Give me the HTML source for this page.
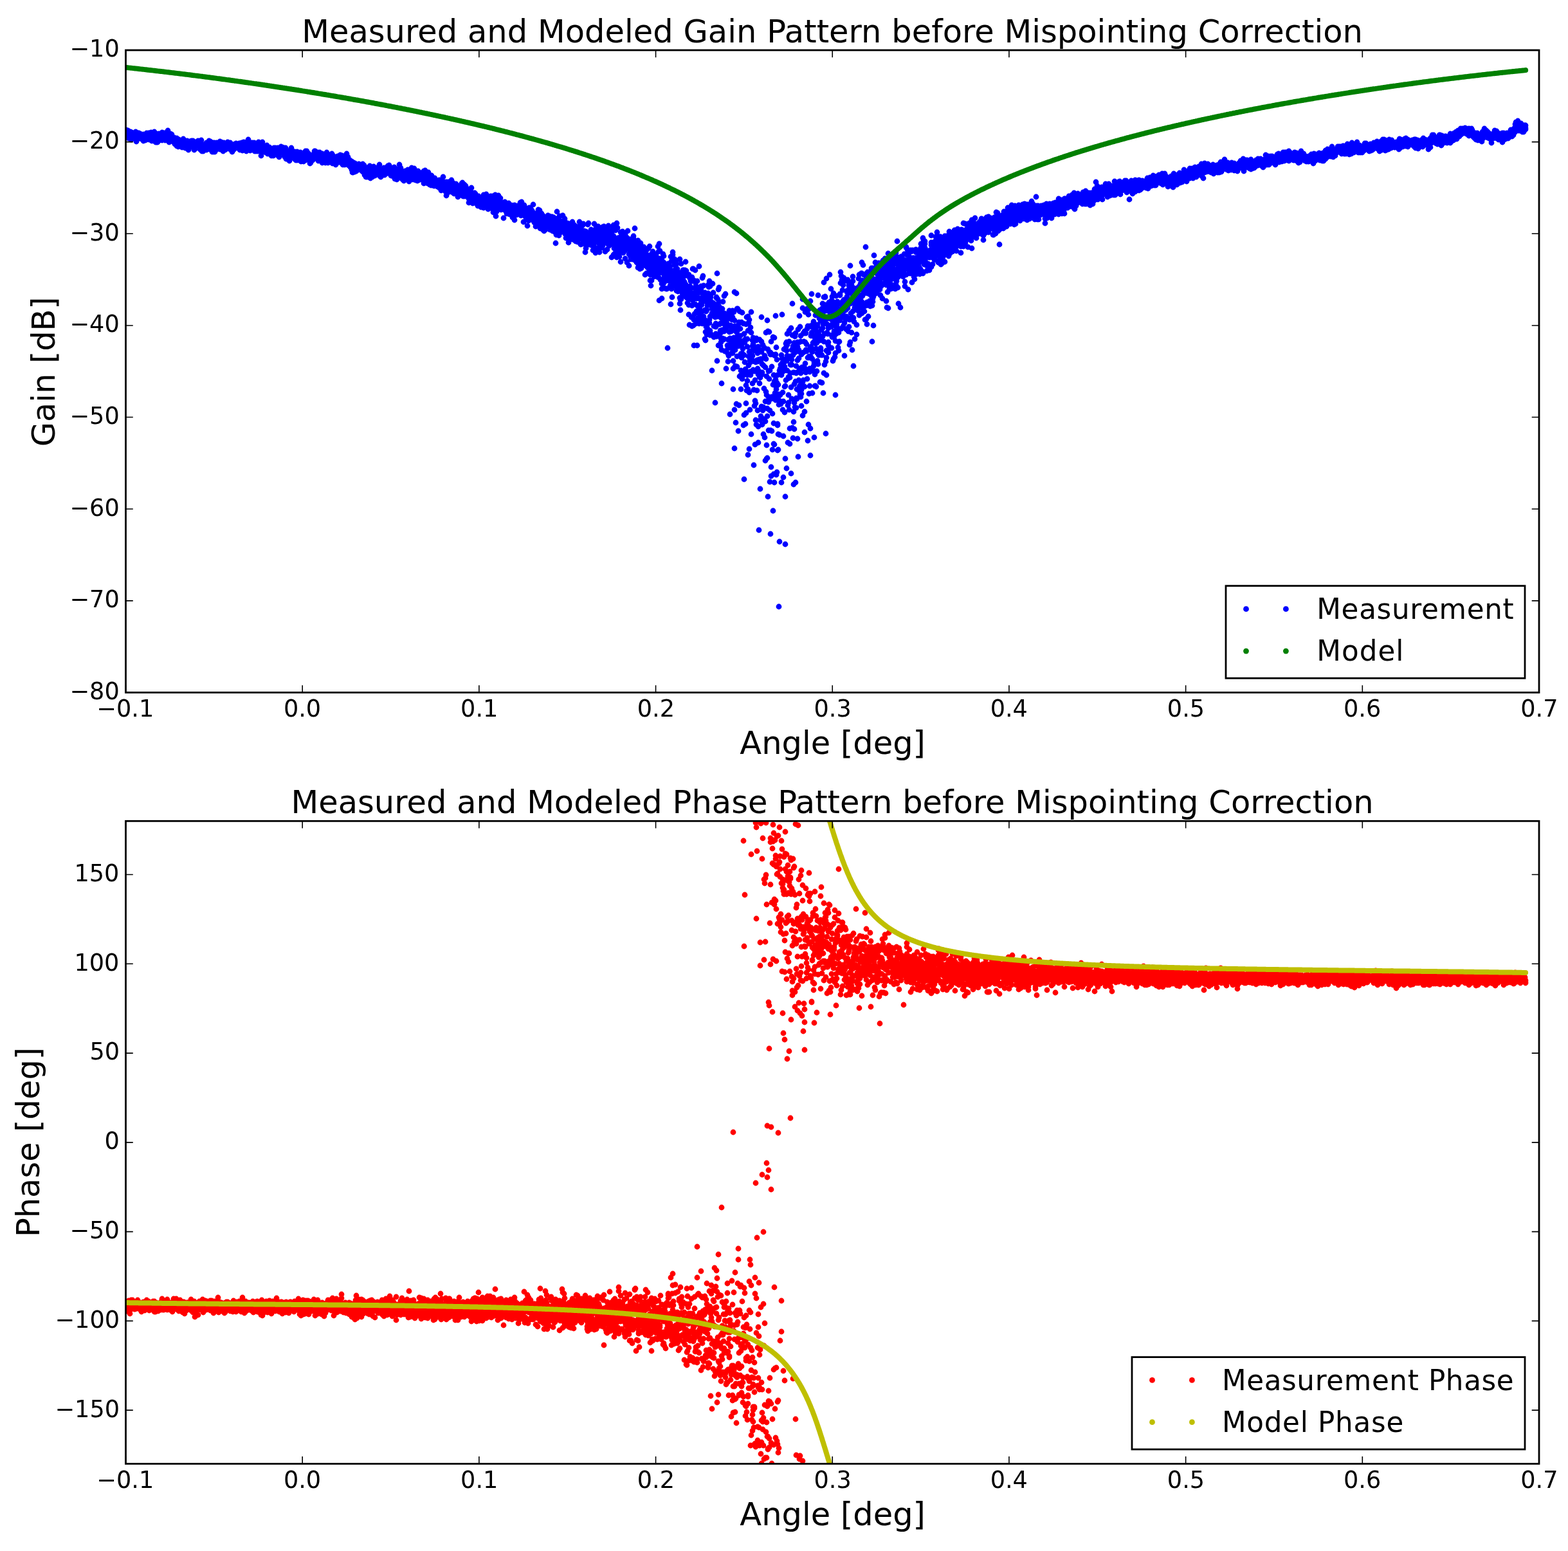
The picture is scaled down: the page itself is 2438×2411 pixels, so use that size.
<!DOCTYPE html>
<html><head><meta charset="utf-8"><title>Measured and Modeled Patterns</title>
<style>html,body{margin:0;padding:0;background:#fff}svg{display:block}text{font-family:"DejaVu Sans","Liberation Sans",sans-serif;fill:#000}</style></head><body>
<svg width="2438" height="2411" viewBox="0 0 2438 2411">
<rect width="2438" height="2411" fill="#fff"/>
<defs><clipPath id="c1"><rect x="195.5" y="78.0" width="2197.5" height="998.5"/></clipPath><clipPath id="c2"><rect x="195.5" y="1276.3" width="2197.5" height="999.1"/></clipPath></defs>
<g clip-path="url(#c1)" fill="none" stroke-linecap="round" stroke-linejoin="round" stroke-width="8.8">
<path stroke="#00f" d="M196 206h0m0-4h0m0 1h0m0 3h0m1 6h0m0-7h0m0 3h0m0-1h0m1 3h0m0 1h0m0-2h0m1-6h0m0 4h0m0 0h0m0 0h0m1 1h0m0 4h0m0 3h0m0-7h0m1 2h0m0-2h0m0-3h0m1 4h0m0 2h0m0-1h0m0 3h0m1-1h0m0-5h0m0 4h0m0-6h0m1 12h0m0-6h0m0-1h0m1-4h0m0 4h0m0 1h0m0 0h0m1-3h0m0 3h0m0 0h0m0 0h0m1 0h0m0-1h0m0 1h0m1-1h0m0-1h0m0-2h0m0 0h0m1 4h0m0-2h0m0 1h0m1 2h0m0 1h0m0-7h0m0 9h0m1-5h0m0-5h0m0 1h0m0 6h0m1-2h0m0 4h0m0 6h0m1-12h0m0 5h0m0-2h0m0 2h0m1-2h0m0-3h0m0 3h0m0 0h0m1-2h0m0 4h0m0-6h0m1 5h0m0 3h0m0-8h0m0 3h0m1 2h0m0-2h0m0 5h0m0-1h0m1-6h0m0 1h0m0 6h0m1-4h0m0-1h0m0 5h0m0-6h0m1 3h0m0 3h0m0 1h0m0-2h0m1-2h0m0 2h0m0 1h0m1 1h0m0 1h0m0-2h0m0-4h0m1 2h0m0 6h0m0-10h0m1 4h0m0-2h0m0-1h0m0 4h0m1 1h0m0 3h0m0-2h0m0-7h0m1 9h0m0-1h0m0-3h0m1-5h0m0 2h0m0 5h0m0-8h0m1 2h0m0 0h0m0-3h0m0 10h0m1-4h0m0 3h0m0-8h0m1 0h0m0 0h0m0 6h0m0-1h0m1 3h0m0 0h0m0-6h0m0-3h0m1 10h0m0-8h0m0-2h0m1 5h0m0-5h0m0 6h0m0 0h0m1 1h0m0-4h0m0 4h0m1 0h0m0 2h0m0-10h0m0 6h0m1 1h0m0 1h0m0 5h0m0-9h0m1-1h0m0 4h0m0 3h0m1-7h0m0 6h0m0 1h0m0-3h0m1-4h0m0 2h0m0 4h0m0-4h0m1 0h0m0 2h0m0-8h0m1 7h0m0-1h0m0 4h0m0 4h0m1-3h0m0-5h0m0-1h0m0 11h0m1-13h0m0 10h0m0-4h0m1-3h0m0 6h0m0-1h0m0 4h0m1-6h0m0 4h0m0 3h0m0-4h0m1-6h0m0 0h0m0 7h0m1-4h0m0-3h0m0-3h0m0 8h0m1-1h0m0 3h0m0-3h0m1 1h0m0-6h0m0 3h0m0 2h0m1-3h0m0-2h0m0 1h0m0-3h0m1 3h0m0 4h0m0-4h0m1-5h0m0 3h0m0 2h0m0 7h0m1-5h0m0-1h0m0 5h0m0-2h0m1-8h0m0 3h0m0 4h0m1 1h0m0-8h0m0 9h0m0 1h0m1-3h0m0 2h0m0-8h0m0-1h0m1 11h0m0-11h0m0 6h0m1 3h0m0-6h0m0 6h0m0-3h0m1 3h0m0-9h0m0 3h0m1 5h0m0-3h0m0 0h0m0 3h0m1-5h0m0-7h0m0 12h0m0-1h0m1-1h0m0 5h0m0-6h0m1 3h0m0 2h0m0 4h0m0-10h0m1 8h0m0 0h0m0-8h0m0 9h0m1-6h0m0-6h0m0 7h0m1-2h0m0-1h0m0 4h0m0-5h0m1 4h0m0 3h0m0-4h0m0-5h0m1 3h0m0 6h0m0-2h0m1 0h0m0 2h0m0 0h0m0 1h0m1-3h0m0 3h0m0-2h0m0 4h0m1-2h0m0 2h0m0-7h0m1 10h0m0-7h0m0 4h0m0-2h0m1 2h0m0 0h0m0-1h0m1 0h0m0 1h0m0-2h0m0-3h0m1 6h0m0 5h0m0-1h0m0-11h0m1 5h0m0 0h0m0 1h0m1-3h0m0 10h0m0-9h0m0 4h0m1 1h0m0-7h0m0 8h0m0-3h0m1 3h0m0-5h0m0 3h0m1-2h0m0-1h0m0 2h0m0 3h0m1-4h0m0-2h0m0 5h0m0 3h0m1 1h0m0-2h0m0-4h0m1 7h0m0-7h0m0 0h0m0 2h0m1 4h0m0-8h0m0 4h0m0-3h0m1-5h0m0 9h0m0-7h0m1 3h0m0 2h0m0-4h0m0 10h0m1-5h0m0-1h0m0 4h0m1-4h0m0 7h0m0-6h0m0-1h0m1-1h0m0 1h0m0 3h0m0 1h0m1-2h0m0-1h0m0 1h0m1-3h0m0 2h0m0 1h0m0-6h0m1 6h0m0 1h0m0 2h0m0-2h0m1 1h0m0-1h0m0 7h0m1-11h0m0 2h0m0 4h0m0-7h0m1 5h0m0-5h0m0-1h0m0 6h0m1-1h0m0-4h0m0-1h0m1 8h0m0 0h0m0-6h0m0 0h0m1 2h0m0-1h0m0-4h0m1 5h0m0-3h0m0 1h0m0 6h0m1-9h0m0 10h0m0-2h0m0-5h0m1 1h0m0 3h0m0-4h0m1 1h0m0 10h0m0-10h0m0 5h0m1-3h0m0-3h0m0 7h0m0-6h0m1-1h0m0-1h0m0 0h0m1 4h0m0 5h0m0-8h0m0 3h0m1-2h0m0-1h0m0 4h0m0-1h0m1 2h0m0-2h0m0-2h0m1-4h0m0 1h0m0 10h0m0-4h0m1-3h0m0-1h0m0 8h0m0-3h0m1-1h0m0-1h0m0 6h0m1-4h0m0 4h0m0-3h0m0 1h0m1-2h0m0 2h0m0 4h0m1-3h0m0-3h0m0 6h0m0-15h0m1 14h0m0 3h0m0-8h0m0 7h0m1-8h0m0 1h0m0 3h0m1 5h0m0-8h0m0 1h0m0-3h0m1 8h0m0-4h0m0 1h0m0 1h0m1-5h0m0 2h0m0 0h0m1-3h0m0 8h0m0-3h0m0-3h0m1-2h0m0 3h0m0-3h0m0 2h0m1 4h0m0 2h0m0-11h0m1 2h0m0 3h0m0 0h0m0 0h0m1 1h0m0 3h0m0-9h0m1 4h0m0-1h0m0 4h0m0-3h0m1 1h0m0-3h0m0-5h0m0 2h0m1 4h0m0 2h0m0 5h0m1-6h0m0-1h0m0 0h0m0-5h0m1 11h0m0-8h0m0 0h0m0 7h0m1-4h0m0 3h0m0-2h0m1 2h0m0 0h0m0 7h0m0-11h0m1-3h0m0 9h0m0-2h0m0-3h0m1 1h0m0 7h0m0 2h0m1-8h0m0-6h0m0 6h0m0 4h0m1 2h0m0-2h0m0 4h0m0-5h0m1-2h0m0-2h0m0 0h0m1 2h0m0-2h0m0 6h0m0-6h0m1-5h0m0 7h0m0 2h0m1-1h0m0-3h0m0 3h0m0-6h0m1 5h0m0-1h0m0-5h0m0 8h0m1-8h0m0 6h0m0-1h0m1-6h0m0 9h0m0-3h0m0-5h0m1 9h0m0-1h0m0-11h0m0 4h0m1 0h0m0 6h0m0-7h0m1 8h0m0-5h0m0-5h0m0 8h0m1-4h0m0 0h0m0-3h0m0 5h0m1 2h0m0-5h0m0 4h0m1 7h0m0-5h0m0-2h0m0 7h0m1-13h0m0 3h0m0 4h0m1-1h0m0-2h0m0-1h0m0 1h0m1 2h0m0-2h0m0 7h0m0-7h0m1 2h0m0 2h0m0-6h0m1 2h0m0-2h0m0 4h0m0-3h0m1-2h0m0 3h0m0-2h0m0 5h0m1-8h0m0 5h0m0-4h0m1 9h0m0-2h0m0 1h0m0-5h0m1 2h0m0 4h0m0-6h0m0 6h0m1-3h0m0 1h0m0 1h0m1-3h0m0 1h0m0-6h0m0 3h0m1 6h0m0-5h0m0-1h0m0 4h0m1-2h0m0 4h0m0 3h0m1 0h0m0-8h0m0 10h0m0-1h0m1-6h0m0 2h0m0 3h0m1-1h0m0-1h0m0-1h0m0-2h0m1-1h0m0 2h0m0 0h0m0 2h0m1-8h0m0 6h0m0-3h0m1 1h0m0 2h0m0-2h0m0-4h0m1 4h0m0 2h0m0-7h0m0 3h0m1 0h0m0 1h0m0 2h0m1-3h0m0-2h0m0 2h0m0 2h0m1 1h0m0-1h0m0 1h0m0-2h0m1 2h0m0-2h0m0 3h0m1-7h0m0 1h0m0 4h0m0 2h0m1 3h0m0-3h0m0-7h0m0 7h0m1-1h0m0-4h0m0 5h0m1 3h0m0-6h0m0 2h0m0 0h0m1-7h0m0 0h0m0 6h0m1 0h0m0-6h0m0 5h0m0 7h0m1-6h0m0-2h0m0 3h0m0 1h0m1-2h0m0-1h0m0-6h0m1 7h0m0 0h0m0 2h0m0-2h0m1-4h0m0 7h0m0-3h0m0-2h0m1 5h0m0-2h0m0-2h0m1 2h0m0 6h0m0-6h0m0 3h0m1 0h0m0-2h0m0 3h0m0 1h0m1-8h0m0-6h0m0 9h0m1-12h0m0 12h0m0-3h0m0 1h0m1-2h0m0 0h0m0 6h0m1 1h0m0-9h0m0 9h0m0-5h0m1 7h0m0-10h0m0 3h0m0-2h0m1 5h0m0-7h0m0 5h0m1 2h0m0-4h0m0 5h0m0-1h0m1-8h0m0 6h0m0 4h0m0-4h0m1-4h0m0 6h0m0-1h0m1 3h0m0-4h0m0 1h0m0 0h0m1 0h0m0 5h0m0-12h0m0 6h0m1-4h0m0-1h0m0 12h0m1-3h0m0-8h0m0 4h0m0 2h0m1 5h0m0-12h0m0 4h0m0 1h0m1 0h0m0 4h0m0-3h0m1-5h0m0 3h0m0-1h0m0-1h0m1-1h0m0 7h0m0 4h0m1-7h0m0-7h0m0 7h0m0 3h0m1-7h0m0 1h0m0 5h0m0 1h0m1 0h0m0-3h0m0 2h0m1 5h0m0-6h0m0 2h0m0-3h0m1 0h0m0 14h0m0-6h0m0-8h0m1 5h0m0-3h0m0 5h0m1-2h0m0-1h0m0-11h0m0 11h0m1-2h0m0-4h0m0 10h0m0-9h0m1 4h0m0 2h0m0-3h0m1 2h0m0-1h0m0 1h0m0 4h0m1-3h0m0-2h0m0 0h0m1 6h0m0-5h0m0 1h0m0-2h0m1 3h0m0-4h0m0 7h0m0-4h0m1-5h0m0 6h0m0-8h0m1 9h0m0 4h0m0-2h0m0-5h0m1-2h0m0-1h0m0 1h0m0 5h0m1 0h0m0-1h0m0 3h0m1-8h0m0 6h0m0 4h0m0-7h0m1 1h0m0 3h0m0-1h0m0-3h0m1 1h0m0 7h0m0 0h0m1-1h0m0-3h0m0 0h0m0 6h0m1-6h0m0 2h0m0 2h0m0-5h0m1 0h0m0 2h0m0 0h0m1 5h0m0-5h0m0-5h0m0 7h0m1 1h0m0-10h0m0 4h0m1-1h0m0 6h0m0-4h0m0-2h0m1 4h0m0-2h0m0-5h0m0 4h0m1 0h0m0 2h0m0-1h0m1 3h0m0 2h0m0-8h0m0 8h0m1-7h0m0 1h0m0 4h0m0 3h0m1-1h0m0-10h0m0 6h0m1 1h0m0-1h0m0-1h0m0 4h0m1-5h0m0 0h0m0-1h0m0 11h0m1-10h0m0 4h0m0-6h0m1-1h0m0 2h0m0 2h0m0 0h0m1 0h0m0 2h0m0-3h0m0-6h0m1 3h0m0 1h0m0-2h0m1 1h0m0-2h0m0 4h0m0 2h0m1-4h0m0 4h0m0 3h0m1-6h0m0 1h0m0 0h0m0 4h0m1-7h0m0 5h0m0 7h0m0-8h0m1 1h0m0-1h0m0 10h0m1-6h0m0-8h0m0 1h0m0 4h0m1 6h0m0-4h0m0-4h0m0 14h0m1-10h0m0-3h0m0 7h0m1-4h0m0 5h0m0-1h0m0 5h0m1-8h0m0 8h0m0-7h0m0-2h0m1 6h0m0-3h0m0 2h0m1-5h0m0 13h0m0-11h0m0-3h0m1 2h0m0 5h0m0-4h0m1 0h0m0 4h0m0-7h0m0 4h0m1-2h0m0-8h0m0 14h0m0-8h0m1 2h0m0 0h0m0 6h0m1-7h0m0 2h0m0-4h0m0 7h0m1-3h0m0 0h0m0-1h0m0 2h0m1 3h0m0 1h0m0 1h0m1-4h0m0-5h0m0 1h0m0 10h0m1-4h0m0-1h0m0 6h0m0-4h0m1 0h0m0-1h0m0 6h0m1-9h0m0 8h0m0-2h0m0-4h0m1 2h0m0-8h0m0 7h0m0 6h0m1-7h0m0 2h0m0 0h0m1 0h0m0 0h0m0-7h0m0 10h0m1 1h0m0-8h0m0 7h0m1-9h0m0 5h0m0 0h0m0-4h0m1 2h0m0 2h0m0-6h0m0 0h0m1 14h0m0-8h0m0-2h0m1 3h0m0-2h0m0 7h0m0-5h0m1 5h0m0-6h0m0-1h0m0 2h0m1 0h0m0-6h0m0 3h0m1 10h0m0-8h0m0 0h0m0 0h0m1 1h0m0 0h0m0-3h0m0-3h0m1 10h0m0-4h0m0 3h0m1-12h0m0 6h0m0-4h0m0 12h0m1-3h0m0-2h0m0-5h0m1 7h0m0-11h0m0 4h0m0 9h0m1-9h0m0-2h0m0 7h0m0 1h0m1-1h0m0-3h0m0 4h0m1-4h0m0-1h0m0-1h0m0 7h0m1-4h0m0 5h0m0-3h0m0 3h0m1 5h0m0 2h0m0-7h0m1 3h0m0 1h0m0 2h0m0-7h0m1 0h0m0-1h0m0 5h0m0-4h0m1 0h0m0-2h0m0-2h0m1 0h0m0 7h0m0-1h0m0-4h0m1 3h0m0 0h0m0-4h0m0 3h0m1-5h0m0 3h0m0-5h0m1-4h0m0 7h0m0-2h0m0 1h0m1-6h0m0 0h0m0 7h0m1-2h0m0-3h0m0 2h0m0 4h0m1-2h0m0 3h0m0-7h0m0 8h0m1 2h0m0-9h0m0 4h0m1 1h0m0-1h0m0-5h0m0 6h0m1 7h0m0-12h0m0 7h0m0 0h0m1-1h0m0-4h0m0 7h0m1-10h0m0 7h0m0 3h0m0-2h0m1-3h0m0 5h0m0-6h0m0 3h0m1-4h0m0 4h0m0 2h0m1 5h0m0-6h0m0 4h0m0-2h0m1-8h0m0 9h0m0 5h0m1-6h0m0-4h0m0 0h0m0 4h0m1 0h0m0 3h0m0-4h0m0-1h0m1 2h0m0-6h0m0 4h0m1 1h0m0-6h0m0 3h0m0-2h0m1 5h0m0 7h0m0-5h0m0-3h0m1 3h0m0-3h0m0 2h0m1-5h0m0-5h0m0 11h0m0-5h0m1 7h0m0-8h0m0-1h0m0 9h0m1 0h0m0-5h0m0 8h0m1-7h0m0-1h0m0 0h0m0 1h0m1-2h0m0-1h0m0 4h0m0 1h0m1-3h0m0 4h0m0-4h0m1 1h0m0 1h0m0 0h0m0 3h0m1-10h0m0 9h0m0-4h0m1-6h0m0 9h0m0 3h0m0 1h0m1 2h0m0-8h0m0-1h0m0 7h0m1-10h0m0 7h0m0 4h0m1-6h0m0 2h0m0 1h0m0 0h0m1 4h0m0-6h0m0 2h0m0-3h0m1-3h0m0 4h0m0 4h0m1 1h0m0-2h0m0 5h0m0-5h0m1-6h0m0 3h0m0 2h0m0-2h0m1 1h0m0 2h0m0-1h0m1-7h0m0 5h0m0 2h0m0 0h0m1 0h0m0 2h0m0-1h0m0-8h0m1 9h0m0-4h0m0-2h0m1 3h0m0 3h0m0-5h0m0-1h0m1-5h0m0 3h0m0 2h0m1-2h0m0 3h0m0-5h0m0 10h0m1 0h0m0-1h0m0-1h0m0 2h0m1-2h0m0-1h0m0-7h0m1 5h0m0 5h0m0 4h0m0-3h0m1-6h0m0 4h0m0-2h0m0 3h0m1-7h0m0 7h0m0-7h0m1 0h0m0 1h0m0 10h0m0-4h0m1 2h0m0 0h0m0-2h0m0 2h0m1-6h0m0 5h0m0-2h0m1-12h0m0 15h0m0 1h0m0-1h0m1-5h0m0-5h0m0 9h0m1-9h0m0 7h0m0 5h0m0-8h0m1 9h0m0-4h0m0-2h0m0 6h0m1-6h0m0-1h0m0 5h0m1 0h0m0-3h0m0 4h0m0-7h0m1 8h0m0-3h0m0 6h0m0 0h0m1-5h0m0 6h0m0-3h0m1-3h0m0-4h0m0 13h0m0-5h0m1-2h0m0 2h0m0-2h0m0 11h0m1-2h0m0-7h0m0 9h0m1-8h0m0-3h0m0-4h0m0 9h0m1-3h0m0 0h0m0-4h0m0 11h0m1-12h0m0 13h0m0-8h0m1-2h0m0 7h0m0-3h0m0-6h0m1 11h0m0-2h0m0 0h0m1-8h0m0 7h0m0-1h0m0 2h0m1-6h0m0 0h0m0 5h0m0-3h0m1-2h0m0 1h0m0 4h0m1-7h0m0-1h0m0 0h0m0 3h0m1 3h0m0-3h0m0 5h0m0-3h0m1 3h0m0-7h0m0 8h0m1-2h0m0-3h0m0 3h0m0-3h0m1 2h0m0 3h0m0-1h0m0 1h0m1-2h0m0-3h0m0 2h0m1-6h0m0 12h0m0-2h0m0-6h0m1 1h0m0-1h0m0 4h0m1 2h0m0-8h0m0 8h0m0 0h0m1-1h0m0 5h0m0-8h0m0 11h0m1-5h0m0-7h0m0 9h0m1-4h0m0 0h0m0 10h0m0-5h0m1 5h0m0-8h0m0 0h0m0-2h0m1 5h0m0-3h0m0 4h0m1-4h0m0 3h0m0 5h0m0-7h0m1-2h0m0-1h0m0 6h0m0 2h0m1 1h0m0-7h0m0 4h0m1-5h0m0 4h0m0-3h0m0-9h0m1 16h0m0 3h0m0-10h0m0 6h0m1-4h0m0 0h0m0-2h0m1 1h0m0 1h0m0 1h0m0 3h0m1 2h0m0-12h0m0 8h0m1-2h0m0-2h0m0-3h0m0 4h0m1-9h0m0 8h0m0-4h0m0 1h0m1 0h0m0 5h0m0-2h0m1 6h0m0-5h0m0-6h0m0 8h0m1-4h0m0 5h0m0-10h0m0 5h0m1-2h0m0 5h0m0-7h0m1 6h0m0-5h0m0 7h0m0-6h0m1-1h0m0 2h0m0 3h0m0 0h0m1-8h0m0 2h0m0 2h0m1-1h0m0-2h0m0 4h0m0-1h0m1-8h0m0 13h0m0-3h0m1 8h0m0-11h0m0 7h0m0-3h0m1 2h0m0 0h0m0 6h0m0-7h0m1 2h0m0-2h0m0 3h0m1-4h0m0 5h0m0 1h0m0-7h0m1 6h0m0-1h0m0 0h0m0-4h0m1 1h0m0-4h0m0 0h0m1 7h0m0-5h0m0-5h0m0 2h0m1 8h0m0 1h0m0 0h0m0-8h0m1 4h0m0 3h0m0-8h0m1 4h0m0-1h0m0 3h0m0-3h0m1 1h0m0 2h0m0-5h0m0 3h0m1-3h0m0 2h0m0-1h0m1 4h0m0-6h0m0 1h0m0-6h0m1 7h0m0 0h0m0-5h0m1-3h0m0 3h0m0 2h0m0 3h0m1-4h0m0 4h0m0 3h0m0-4h0m1-2h0m0 2h0m0-2h0m1 3h0m0-3h0m0 3h0m0 8h0m1-7h0m0 1h0m0 4h0m0-4h0m1-4h0m0 3h0m0 3h0m1 5h0m0-7h0m0 1h0m0-7h0m1 3h0m0 10h0m0-5h0m0-3h0m1-6h0m0 7h0m0 2h0m1-5h0m0 6h0m0 8h0m0-16h0m1 2h0m0 8h0m0-8h0m0 8h0m1-3h0m0-4h0m0 2h0m1-1h0m0 13h0m0-14h0m0 6h0m1-2h0m0-6h0m0 3h0m1-3h0m0 11h0m0-7h0m0 2h0m1-1h0m0-2h0m0 2h0m0 5h0m1-17h0m0 16h0m0-2h0m1-1h0m0 7h0m0-3h0m0-1h0m1 0h0m0-8h0m0-3h0m0 2h0m1 2h0m0 4h0m0 2h0m1-1h0m0 3h0m0-2h0m0-3h0m1 11h0m0-10h0m0 0h0m0 5h0m1-2h0m0 8h0m0-10h0m1 1h0m0 2h0m0 8h0m0-9h0m1 2h0m0-2h0m0 1h0m1 1h0m0-8h0m0 5h0m0 4h0m1-4h0m0-5h0m0 3h0m0-3h0m1 10h0m0-5h0m0 0h0m1 2h0m0 2h0m0-5h0m0-1h0m1 3h0m0 5h0m0-13h0m0 9h0m1-4h0m0-1h0m0-2h0m1 7h0m0-4h0m0-1h0m0 14h0m1-6h0m0-3h0m0-5h0m0 6h0m1-10h0m0 10h0m0-2h0m1-8h0m0 7h0m0 0h0m0 5h0m1-15h0m0 15h0m0-7h0m0 7h0m1-10h0m0 6h0m0 0h0m1-7h0m0 14h0m0-8h0m0 3h0m1-1h0m0 2h0m0-3h0m1 7h0m0-17h0m0 14h0m0 3h0m1-10h0m0 4h0m0-5h0m0 1h0m1 5h0m0 2h0m0 4h0m1-10h0m0 3h0m0 4h0m0 2h0m1-5h0m0 3h0m0-9h0m0 0h0m1 8h0m0-3h0m0 8h0m1-11h0m0-2h0m0 2h0m0-4h0m1 2h0m0 2h0m0 10h0m0-1h0m1-5h0m0-6h0m0 5h0m1-1h0m0 3h0m0-3h0m0 0h0m1 0h0m0 1h0m0 4h0m1 2h0m0-4h0m0 3h0m0-2h0m1 0h0m0-1h0m0 1h0m0 2h0m1-7h0m0 7h0m0-2h0m1-1h0m0 4h0m0 0h0m0-4h0m1 3h0m0-2h0m0-10h0m0 19h0m1-7h0m0 3h0m0 0h0m1-2h0m0-2h0m0-12h0m0 14h0m1 4h0m0-12h0m0 13h0m0-1h0m1-5h0m0-9h0m0 7h0m1 6h0m0-5h0m0 0h0m0-3h0m1 5h0m0 6h0m0-4h0m0-3h0m1-4h0m0 9h0m0-15h0m1 15h0m0-7h0m0 7h0m0 1h0m1-2h0m0 5h0m0-5h0m1-9h0m0 9h0m0-4h0m0 4h0m1 6h0m0-8h0m0-1h0m0 3h0m1-9h0m0 11h0m0 1h0m1 3h0m0-3h0m0-7h0m0-1h0m1 3h0m0 4h0m0 1h0m0 3h0m1-6h0m0-1h0m0-1h0m1 9h0m0-8h0m0 5h0m0-6h0m1 6h0m0-1h0m0-8h0m0 1h0m1 9h0m0-4h0m0 1h0m1-2h0m0 1h0m0 2h0m0-1h0m1 0h0m0 4h0m0-7h0m0 4h0m1 5h0m0-5h0m0 3h0m1-1h0m0-5h0m0 5h0m0-3h0m1 7h0m0-1h0m0-2h0m1-1h0m0 5h0m0-12h0m0 12h0m1-9h0m0 2h0m0 0h0m0-2h0m1 7h0m0 1h0m0-4h0m1-3h0m0-1h0m0 13h0m0-10h0m1 6h0m0-4h0m0 3h0m0-7h0m1 7h0m0 2h0m0-8h0m1 3h0m0 6h0m0-19h0m0 14h0m1 1h0m0-4h0m0 8h0m0-5h0m1-6h0m0 1h0m0 9h0m1 2h0m0 1h0m0-2h0m0-6h0m1 0h0m0 10h0m0-11h0m1 0h0m0 17h0m0-7h0m0-14h0m1 8h0m0 0h0m0 10h0m0-1h0m1-10h0m0-2h0m0 9h0m1-8h0m0 5h0m0-11h0m0 5h0m1 1h0m0-4h0m0 8h0m0 1h0m1-3h0m0-4h0m0 4h0m1-1h0m0 5h0m0-4h0m0 3h0m1-6h0m0 10h0m0-1h0m0-9h0m1 6h0m0 0h0m0-14h0m1 9h0m0 2h0m0 4h0m0 1h0m1-4h0m0 1h0m0-3h0m0-6h0m1 3h0m0 6h0m0 7h0m1-7h0m0-4h0m0 12h0m0-8h0m1-7h0m0 7h0m0 0h0m1 2h0m0 6h0m0-10h0m0 5h0m1-10h0m0 8h0m0-7h0m0 10h0m1-4h0m0 5h0m0-3h0m1-4h0m0 4h0m0 1h0m0-5h0m1 15h0m0-8h0m0 0h0m0 0h0m1 0h0m0 3h0m0-4h0m1-3h0m0-5h0m0 10h0m0-6h0m1 6h0m0-8h0m0 5h0m0-7h0m1 1h0m0 4h0m0-1h0m1 0h0m0-2h0m0-2h0m0 4h0m1-8h0m0 9h0m0-6h0m1-4h0m0 6h0m0 10h0m0-10h0m1-3h0m0 6h0m0 10h0m0 2h0m1-10h0m0-2h0m0 12h0m1-14h0m0 1h0m0-5h0m0 10h0m1-3h0m0 11h0m0-7h0m0 0h0m1-3h0m0-6h0m0 13h0m1-7h0m0 2h0m0-2h0m0 6h0m1 0h0m0-5h0m0 8h0m0-2h0m1-4h0m0 4h0m0-1h0m1-7h0m0 7h0m0 5h0m0-11h0m1 2h0m0 12h0m0-8h0m0 14h0m1-17h0m0 8h0m0-4h0m1 4h0m0-3h0m0 0h0m0 0h0m1 8h0m0-8h0m0 6h0m1-10h0m0 5h0m0-12h0m0 15h0m1-6h0m0-1h0m0 8h0m0 0h0m1 8h0m0-8h0m0-5h0m1 5h0m0 2h0m0-2h0m0-3h0m1 3h0m0-7h0m0 9h0m0 2h0m1-8h0m0-4h0m0 10h0m1 4h0m0-9h0m0-4h0m0 9h0m1-2h0m0-2h0m0 10h0m0-1h0m1-5h0m0-2h0m0 7h0m1-2h0m0-5h0m0 1h0m0 2h0m1 8h0m0-13h0m0 14h0m1-13h0m0-2h0m0 5h0m0-5h0m1 11h0m0-5h0m0-1h0m0 5h0m1 1h0m0-9h0m0 11h0m1-5h0m0 1h0m0 0h0m0 4h0m1-8h0m0 12h0m0-4h0m0-1h0m1-2h0m0 1h0m0-2h0m1 6h0m0-6h0m0 7h0m0-6h0m1 0h0m0-4h0m0 7h0m0-6h0m1-2h0m0 13h0m0-20h0m1 10h0m0 2h0m0-3h0m0 3h0m1 3h0m0-9h0m0 9h0m0-11h0m1 6h0m0 3h0m0-5h0m1-1h0m0-8h0m0 9h0m0 0h0m1 2h0m0 3h0m0-5h0m1 6h0m0-11h0m0 9h0m0-2h0m1-1h0m0-2h0m0-3h0m0 18h0m1-8h0m0-8h0m0 14h0m1-12h0m0 5h0m0-1h0m0-4h0m1 2h0m0-1h0m0-6h0m0 15h0m1-16h0m0 8h0m0-3h0m1 1h0m0-1h0m0 2h0m0-6h0m1 7h0m0 0h0m0-1h0m0 3h0m1-9h0m0 0h0m0-1h0m1 0h0m0 11h0m0 14h0m0-3h0m1-9h0m0-7h0m0 4h0m0 12h0m1-15h0m0 8h0m0 2h0m1-10h0m0-1h0m0-1h0m0-7h0m1 33h0m0-27h0m0 2h0m1-2h0m0 20h0m0-22h0m0 4h0m1 0h0m0 10h0m0-5h0m0-5h0m1 5h0m0 6h0m0-15h0m1 2h0m0-5h0m0 5h0m0 13h0m1 0h0m0-7h0m0 1h0m0-5h0m1 7h0m0-7h0m0 1h0m1-4h0m0 5h0m0 3h0m0-8h0m1 18h0m0-8h0m0-2h0m0-2h0m1 8h0m0-7h0m0 4h0m1 4h0m0-3h0m0 3h0m0-8h0m1 3h0m0 1h0m0 3h0m1 17h0m0-15h0m0-6h0m0-3h0m1 8h0m0 2h0m0 1h0m0-5h0m1-6h0m0-1h0m0 9h0m1 1h0m0 3h0m0-8h0m0-2h0m1 8h0m0 4h0m0-7h0m0-1h0m1 1h0m0-1h0m0 11h0m1-9h0m0-1h0m0 3h0m0-2h0m1 6h0m0-11h0m0 12h0m0-9h0m1 7h0m0-12h0m0 4h0m1 4h0m0 0h0m0 9h0m0-6h0m1-6h0m0 12h0m0-7h0m0-2h0m1 2h0m0 5h0m0-1h0m1-5h0m0-6h0m0 7h0m0-4h0m1 13h0m0-6h0m0 2h0m1-2h0m0 8h0m0 1h0m0-15h0m1 10h0m0-7h0m0-4h0m0 1h0m1 5h0m0-8h0m0 3h0m1-4h0m0 4h0m0 19h0m0-21h0m1 1h0m0 12h0m0-8h0m0-4h0m1-2h0m0 5h0m0-5h0m1 14h0m0-8h0m0-4h0m0 0h0m1 3h0m0 7h0m0-6h0m0 0h0m1 3h0m0-3h0m0-6h0m1 10h0m0-10h0m0 3h0m0 1h0m1 0h0m0-2h0m0 3h0m1-2h0m0 3h0m0-4h0m0 3h0m1-2h0m0-8h0m0 9h0m0 5h0m1-8h0m0 12h0m0 2h0m1-17h0m0 7h0m0 4h0m0-15h0m1 14h0m0 4h0m0-7h0m0 8h0m1-12h0m0 11h0m0-5h0m1-4h0m0 22h0m0-14h0m0-7h0m1-2h0m0 13h0m0 0h0m0-16h0m1 7h0m0 2h0m0-4h0m1-1h0m0 9h0m0 2h0m0-1h0m1 4h0m0 1h0m0-8h0m0 9h0m1-5h0m0 6h0m0-6h0m1 3h0m0 5h0m0 9h0m0-14h0m1-6h0m0 2h0m0-1h0m1 5h0m0-4h0m0 2h0m0 8h0m1-13h0m0-7h0m0 12h0m0-10h0m1 10h0m0-2h0m0 6h0m1-4h0m0 4h0m0-4h0m0-8h0m1-1h0m0 8h0m0 3h0m0 3h0m1-13h0m0 13h0m0-8h0m1 7h0m0-2h0m0-1h0m0-7h0m1 10h0m0-5h0m0-16h0m0 13h0m1 10h0m0 3h0m0-12h0m1 6h0m0-1h0m0 9h0m0-10h0m1 0h0m0 1h0m0 9h0m1-14h0m0 20h0m0-6h0m0 0h0m1 3h0m0-6h0m0-6h0m0 8h0m1 5h0m0-5h0m0-4h0m1 3h0m0-8h0m0 3h0m0-5h0m1 1h0m0 4h0m0-2h0m0-11h0m1 14h0m0-10h0m0 7h0m1-10h0m0 16h0m0 1h0m0-4h0m1 7h0m0 1h0m0-7h0m0 14h0m1-3h0m0-3h0m0-2h0m1-9h0m0-3h0m0-3h0m0 15h0m1-11h0m0 5h0m0 11h0m0-10h0m1-7h0m0 16h0m0-5h0m1 2h0m0 5h0m0-11h0m0 16h0m1-15h0m0 16h0m0-13h0m1 2h0m0 0h0m0 0h0m0-4h0m1-3h0m0 8h0m0 1h0m0 7h0m1-18h0m0 15h0m0 2h0m1-13h0m0 8h0m0 0h0m0-2h0m1-5h0m0-1h0m0 12h0m0-3h0m1-17h0m0 4h0m0 14h0m1-8h0m0 6h0m0-11h0m0 3h0m1-1h0m0 1h0m0-4h0m0-3h0m1 11h0m0 10h0m0-12h0m1 1h0m0 0h0m0-4h0m0 4h0m1 5h0m0 6h0m0-12h0m0 0h0m1-8h0m0 7h0m0 8h0m1-5h0m0-7h0m0 7h0m0 12h0m1-10h0m0 0h0m0 3h0m1-13h0m0 12h0m0-13h0m0 14h0m1-4h0m0-3h0m0 9h0m0-10h0m1 4h0m0 13h0m0-12h0m1 29h0m0-32h0m0-6h0m0 17h0m1 8h0m0-10h0m0 7h0m0 1h0m1-34h0m0 23h0m0-11h0m1 1h0m0 6h0m0 15h0m0-10h0m1-2h0m0-12h0m0 7h0m0 5h0m1 15h0m0-25h0m0 19h0m1-8h0m0 1h0m0-17h0m0 16h0m1-3h0m0 3h0m0-4h0m1-4h0m0 10h0m0-3h0m0 10h0m1-4h0m0 2h0m0-12h0m0-2h0m1 2h0m0 0h0m0 5h0m1-1h0m0 2h0m0-18h0m0 17h0m1 3h0m0 3h0m0-5h0m0-7h0m1 5h0m0 1h0m0-1h0m1 3h0m0-6h0m0 6h0m0-14h0m1 14h0m0-8h0m0 18h0m0-11h0m1 17h0m0-17h0m0 6h0m1-1h0m0-7h0m0-2h0m0 4h0m1 5h0m0 5h0m0-16h0m0 6h0m1 10h0m0 3h0m0-13h0m1 18h0m0-11h0m0 5h0m0 12h0m1-14h0m0-15h0m0 21h0m1-9h0m0-7h0m0 7h0m0-3h0m1-6h0m0 7h0m0 6h0m0 6h0m1-5h0m0-10h0m0 7h0m1-6h0m0 7h0m0-10h0m0-2h0m1-6h0m0 14h0m0 0h0m0 13h0m1-14h0m0 4h0m0-2h0m1-9h0m0 4h0m0 7h0m0-7h0m1-5h0m0 18h0m0-3h0m0-8h0m1-3h0m0 12h0m0-4h0m1 13h0m0-12h0m0-11h0m0 14h0m1-7h0m0 0h0m0 15h0m1-11h0m0 12h0m0-18h0m0 0h0m1-3h0m0 2h0m0 10h0m0 10h0m1-15h0m0 10h0m0-11h0m1 3h0m0-11h0m0 10h0m0-4h0m1 11h0m0-24h0m0 11h0m0 9h0m1-10h0m0 13h0m0-10h0m1-3h0m0 16h0m0-2h0m0 11h0m1-19h0m0 2h0m0 4h0m0-10h0m1 6h0m0-1h0m0 10h0m1-10h0m0 17h0m0-29h0m0 10h0m1 2h0m0 4h0m0-18h0m0 30h0m1-19h0m0 8h0m0 2h0m1 2h0m0-6h0m0-5h0m0 0h0m1 8h0m0 24h0m0-16h0m1-16h0m0 16h0m0-10h0m0 20h0m1-17h0m0-5h0m0 2h0m0 7h0m1-3h0m0 11h0m0-2h0m1-30h0m0 28h0m0-6h0m0 2h0m1-10h0m0 14h0m0-8h0m0-22h0m1 30h0m0-13h0m0 10h0m1-6h0m0 0h0m0 4h0m0-6h0m1 3h0m0 6h0m0-9h0m0 6h0m1-1h0m0-14h0m0 24h0m1-17h0m0-5h0m0 9h0m0 9h0m1-18h0m0 16h0m0-17h0m0 18h0m1 13h0m0-18h0m0-12h0m1 1h0m0-2h0m0 23h0m0-9h0m1 1h0m0-13h0m0-12h0m1 27h0m0 2h0m0-10h0m0-2h0m1 1h0m0 3h0m0 24h0m0-32h0m1 8h0m0-17h0m0 21h0m1-4h0m0 2h0m0 15h0m0-16h0m1-11h0m0 3h0m0 3h0m0-5h0m1 0h0m0 9h0m0-17h0m1 16h0m0 10h0m0-4h0m0-6h0m1 2h0m0-14h0m0 36h0m0-17h0m1-12h0m0 14h0m0 7h0m1-2h0m0-2h0m0-17h0m0 7h0m1 8h0m0-13h0m0-6h0m1 26h0m0 0h0m0-1h0m0-10h0m1 8h0m0-23h0m0 11h0m0-17h0m1 19h0m0-6h0m0-1h0m1 1h0m0-14h0m0 3h0m0 4h0m1 15h0m0-4h0m0-10h0m0 3h0m1 28h0m0-29h0m0-1h0m1 12h0m0-11h0m0-1h0m0 0h0m1 15h0m0-6h0m0-10h0m0 8h0m1 10h0m0-18h0m0 28h0m1-23h0m0 14h0m0-27h0m0 12h0m1-3h0m0-10h0m0 10h0m0-2h0m1 14h0m0 8h0m0 1h0m1-11h0m0 10h0m0-6h0m0-16h0m1 14h0m0 1h0m0-11h0m1 1h0m0 15h0m0 0h0m0 0h0m1-4h0m0 25h0m0-39h0m0 14h0m1-5h0m0-12h0m0 15h0m1 1h0m0 4h0m0-6h0m0-18h0m1 13h0m0 0h0m0 29h0m0-46h0m1 36h0m0-6h0m0-9h0m1 23h0m0-14h0m0 0h0m0 5h0m1-11h0m0-16h0m0 28h0m0-6h0m1-5h0m0 0h0m0 12h0m1 13h0m0-13h0m0-10h0m0-30h0m1 7h0m0 21h0m0 5h0m1 0h0m0 10h0m0-11h0m0-9h0m1 3h0m0 3h0m0 18h0m0 3h0m1 2h0m0-27h0m0 11h0m1-9h0m0 11h0m0 0h0m0-6h0m1-11h0m0-7h0m0 46h0m0-28h0m1 0h0m0 13h0m0-10h0m1-12h0m0 3h0m0 8h0m0-19h0m1-2h0m0 31h0m0-14h0m0 0h0m1 16h0m0-10h0m0-6h0m1 2h0m0 2h0m0 2h0m0 8h0m1-12h0m0-8h0m0 19h0m0-14h0m1-13h0m0 39h0m0-33h0m1 10h0m0 0h0m0-8h0m0-4h0m1 10h0m0 2h0m0 7h0m1-16h0m0 0h0m0 2h0m0 36h0m1-49h0m0 27h0m0-13h0m0 6h0m1 7h0m0-10h0m0 9h0m1 10h0m0 18h0m0-38h0m0 13h0m1-7h0m0-9h0m0 11h0m0-8h0m1 12h0m0-11h0m0 22h0m1-8h0m0-18h0m0 16h0m0 15h0m1-20h0m0-5h0m0 17h0m0-3h0m1-7h0m0 12h0m0-5h0m1 6h0m0-15h0m0 1h0m0 4h0m1-12h0m0-9h0m0 4h0m1 28h0m0-3h0m0 8h0m0-5h0m1-44h0m0 33h0m0-12h0m0 2h0m1 3h0m0-5h0m0 21h0m1 9h0m0-15h0m0-7h0m0 16h0m1 8h0m0-14h0m0-4h0m0 8h0m1-3h0m0-9h0m0-10h0m1-2h0m0 22h0m0 20h0m0-28h0m1 25h0m0-1h0m0 0h0m0-5h0m1-1h0m0-22h0m0 9h0m1 2h0m0 2h0m0 21h0m0-33h0m1 10h0m0-4h0m0 9h0m0-22h0m1 10h0m0 17h0m0 12h0m1-8h0m0-24h0m0 23h0m0 3h0m1-8h0m0-8h0m0-5h0m1 14h0m0-3h0m0-3h0m0 6h0m1-20h0m0 17h0m0 5h0m0-4h0m1-1h0m0 4h0m0-10h0m1 15h0m0 17h0m0-28h0m0 5h0m1-3h0m0 1h0m0 11h0m0-8h0m1 20h0m0-30h0m0 8h0m1 2h0m0-17h0m0 20h0m0-8h0m1 8h0m0-9h0m0 17h0m0-14h0m1 12h0m0-28h0m0 25h0m1 2h0m0-4h0m0-5h0m0 0h0m1-21h0m0 24h0m0 8h0m0 5h0m1 16h0m0-9h0m0-17h0m1-12h0m0 5h0m0 41h0m0-36h0m1-13h0m0 29h0m0 12h0m1-40h0m0 28h0m0-15h0m0 7h0m1-12h0m0-9h0m0 13h0m0-17h0m1 10h0m0 12h0m0 6h0m1-2h0m0-9h0m0-12h0m0 34h0m1-28h0m0 6h0m0 13h0m0-5h0m1-14h0m0 5h0m0 6h0m1 9h0m0-27h0m0 3h0m0 6h0m1-4h0m0 19h0m0 8h0m0-25h0m1 9h0m0-2h0m0 1h0m1 5h0m0 16h0m0-26h0m0-22h0m1 40h0m0 8h0m0-40h0m1-12h0m0 88h0m0-55h0m0-10h0m1-12h0m0 31h0m0-13h0m0 16h0m1-18h0m0 16h0m0 13h0m1-14h0m0-19h0m0 7h0m0-1h0m1 41h0m0-43h0m0 35h0m0 23h0m1-58h0m0 13h0m0 5h0m1-3h0m0-26h0m0 18h0m0 21h0m1-36h0m0 10h0m0 11h0m0 21h0m1-11h0m0-12h0m0 31h0m1-35h0m0 1h0m0 21h0m0-16h0m1 0h0m0-5h0m0 12h0m0 2h0m1 21h0m0-15h0m0-3h0m1 18h0m0-13h0m0-5h0m0-14h0m1 14h0m0 110h0m0-120h0m1 5h0m0 6h0m0 4h0m0-26h0m1 5h0m0 3h0m0 5h0m0-5h0m1 17h0m0-19h0m0 0h0m1 8h0m0 20h0m0-30h0m0 22h0m1-1h0m0 38h0m0-29h0m0-45h0m1 34h0m0-27h0m0 43h0m1-17h0m0 0h0m0 3h0m0 27h0m1-36h0m0-23h0m0-7h0m0-4h0m1 29h0m0 7h0m0 10h0m1-2h0m0 1h0m0-12h0m0 11h0m1-3h0m0-30h0m0 9h0m1 32h0m0-16h0m0-24h0m0 28h0m1-16h0m0 22h0m0 0h0m0 8h0m1 6h0m0-27h0m0-15h0m1 8h0m0 15h0m0 0h0m0 2h0m1 0h0m0 13h0m0 5h0m0-28h0m1 17h0m0 8h0m0-7h0m1 6h0m0-25h0m0 25h0m0-9h0m1 23h0m0 9h0m0-69h0m0 27h0m1-4h0m0 56h0m0-16h0m1-56h0m0 28h0m0 1h0m0 26h0m1-12h0m0-10h0m0-9h0m0 15h0m1 7h0m0-26h0m0 17h0m1-15h0m0 11h0m0-23h0m0 27h0m1-27h0m0 9h0m0 20h0m1 11h0m0-7h0m0-24h0m0 9h0m1-18h0m0 25h0m0-20h0m0 31h0m1-49h0m0 43h0m0-8h0m1 2h0m0-23h0m0 29h0m0 3h0m1-27h0m0 23h0m0-1h0m0 15h0m1-9h0m0 17h0m0-8h0m1-9h0m0 4h0m0-1h0m0 3h0m1-30h0m0 59h0m0-62h0m0 47h0m1-10h0m0 41h0m0-75h0m1 33h0m0-18h0m0-12h0m0 17h0m1 14h0m0-7h0m0-20h0m1 0h0m0-1h0m0 24h0m0 33h0m1 14h0m0-32h0m0-9h0m0-35h0m1 36h0m0-49h0m0 38h0m1-38h0m0 19h0m0 28h0m0 41h0m1 31h0m0-40h0m0-1h0m0-60h0m1 12h0m0 40h0m0-30h0m1-10h0m0 14h0m0-42h0m0 53h0m1 30h0m0-49h0m0-10h0m0 8h0m1 12h0m0-6h0m0 26h0m1 53h0m0-77h0m0-23h0m0 47h0m1 0h0m0-28h0m0 39h0m0-19h0m1-24h0m0-1h0m0 24h0m1 28h0m0-39h0m0-50h0m0 36h0m1 49h0m0-10h0m0-9h0m1-15h0m0 0h0m0-12h0m0 32h0m1-14h0m0-22h0m0-4h0m0 20h0m1 20h0m0-11h0m0 0h0m1-42h0m0 37h0m0 34h0m0-11h0m1-34h0m0 35h0m0-64h0m0 29h0m1-14h0m0 19h0m0 29h0m1-33h0m0-3h0m0 40h0m0-28h0m1 14h0m0-16h0m0-11h0m0 72h0m1-11h0m0 13h0m0-28h0m1 7h0m0-24h0m0-19h0m0 2h0m1 41h0m0-26h0m0 19h0m0 19h0m1-49h0m0 40h0m0-36h0m1-16h0m0-3h0m0 62h0m0-75h0m1 3h0m0 17h0m0 10h0m1 29h0m0-5h0m0-60h0m0 36h0m1 41h0m0 7h0m0-29h0m0-47h0m1 23h0m0-10h0m0 4h0m1 7h0m0 5h0m0 0h0m0 46h0m1-40h0m0 96h0m0-89h0m0-10h0m1 14h0m0-12h0m0-38h0m1 30h0m0 18h0m0-34h0m0 25h0m1 44h0m0-41h0m0 24h0m0-26h0m1 0h0m0-8h0m0 14h0m1-13h0m0 13h0m0 139h0m0-133h0m1 15h0m0 11h0m0-16h0m1 19h0m0 1h0m0-61h0m0 1h0m1 98h0m0-136h0m0 54h0m0 13h0m1-5h0m0-22h0m0 19h0m1-34h0m0 37h0m0 50h0m0-47h0m1-43h0m0 29h0m0-7h0m0 21h0m1-2h0m0 16h0m0-21h0m1 55h0m0-24h0m0-11h0m0 15h0m1-1h0m0 9h0m0 6h0m0-38h0m1 102h0m0-68h0m0 16h0m1-64h0m0 33h0m0-17h0m0 30h0m1-32h0m0-6h0m0 0h0m0-19h0m1 34h0m0-11h0m0 36h0m1-68h0m0 67h0m0-12h0m0-28h0m1 14h0m0 3h0m0 42h0m1-37h0m0-52h0m0 31h0m0 19h0m1 66h0m0-65h0m0 3h0m0-12h0m1-4h0m0 7h0m0-6h0m1-1h0m0 1h0m0 0h0m0 41h0m1 25h0m0-12h0m0-9h0m0-13h0m1 13h0m0-54h0m0 66h0m1-15h0m0-22h0m0-23h0m0-10h0m1 161h0m0-118h0m0 1h0m0-40h0m1 19h0m0 29h0m0-27h0m1 7h0m0 25h0m0-11h0m0-43h0m1 11h0m0 10h0m0 21h0m1-45h0m0 64h0m0 2h0m0-56h0m1 43h0m0 37h0m0 32h0m0-44h0m1-76h0m0 57h0m0-17h0m1-71h0m0 243h0m0-199h0m0 139h0m1-93h0m0-37h0m0 62h0m0-56h0m1 20h0m0 124h0m0-126h0m1-15h0m0-60h0m0 172h0m0-113h0m1 55h0m0-55h0m0 39h0m0-74h0m1 0h0m0 42h0m0-12h0m1 160h0m0-147h0m0-1h0m0 16h0m1-35h0m0 127h0m0-129h0m0 24h0m1-41h0m0 51h0m0 50h0m1-74h0m0 19h0m0 54h0m0-62h0m1 54h0m0 29h0m0-55h0m1-13h0m0 19h0m0-55h0m0 82h0m1-34h0m0-63h0m0 103h0m0-9h0m1 4h0m0-4h0m0-38h0m1 38h0m0-77h0m0 158h0m0-131h0m1 22h0m0 93h0m0-126h0m0 226h0m1-182h0m0 0h0m0-31h0m1 127h0m0-131h0m0-1h0m0 47h0m1 68h0m0-15h0m0-123h0m0 95h0m1-106h0m0 114h0m0-26h0m1-54h0m0 12h0m0 44h0m0 9h0m1 115h0m0-215h0m0 22h0m0 91h0m1-51h0m0-52h0m0 66h0m1 130h0m0-151h0m0-50h0m0 113h0m1 27h0m0-77h0m0 18h0m1 5h0m0-74h0m0 54h0m0-17h0m1 129h0m0-158h0m0 38h0m0-70h0m1 75h0m0 17h0m0-22h0m1-2h0m0-15h0m0-9h0m0 67h0m1-71h0m0 10h0m0 40h0m0 2h0m1 146h0m0-117h0m0-80h0m1 36h0m0 15h0m0-32h0m0 86h0m1 60h0m0-100h0m0-51h0m0 83h0m1 30h0m0-26h0m0-64h0m1 97h0m0-134h0m0 14h0m0-11h0m1 49h0m0 29h0m0-47h0m1-11h0m0 89h0m0-76h0m0 11h0m1 90h0m0-81h0m0 106h0m0-149h0m1 38h0m0-18h0m0 265h0m1-238h0m0 10h0m0-52h0m0-16h0m1 59h0m0 173h0m0-107h0m0-72h0m1 66h0m0-89h0m0 2h0m1-67h0m0 54h0m0-16h0m0 101h0m1-53h0m0 3h0m0-16h0m0 94h0m1-124h0m0 115h0m0-13h0m1 37h0m0-107h0m0 65h0m0-65h0m1 36h0m0 48h0m0-112h0m0 1h0m1 139h0m0-127h0m0-12h0m1 30h0m0 53h0m0 31h0m0 61h0m1-199h0m0 92h0m0-51h0m1 155h0m0-99h0m0-29h0m0 107h0m1 20h0m0-214h0m0 137h0m0 12h0m1-104h0m0 229h0m0-257h0m1 154h0m0-44h0m0-48h0m0 40h0m1-101h0m0 73h0m0 32h0m0-74h0m1 91h0m0-62h0m0 173h0m1 81h0m0-282h0m0 121h0m0-118h0m1 69h0m0-89h0m0 195h0m0 14h0m1-123h0m0 53h0m0-100h0m1-19h0m0 0h0m0 92h0m0 56h0m1 95h0m0-270h0m0 74h0m1 60h0m0 79h0m0-47h0m0-107h0m1 108h0m0-166h0m0 68h0m0 157h0m1-136h0m0-61h0m0 58h0m1-120h0m0 60h0m0 39h0m0 32h0m1-82h0m0 65h0m0 133h0m0-137h0m1-6h0m0-36h0m0 175h0m1-34h0m0-117h0m0 78h0m0-2h0m1-61h0m0 77h0m0-57h0m0 81h0m1 244h0m0-330h0m0 16h0m1-53h0m0 266h0m0-166h0m0-48h0m1-3h0m0-11h0m0-38h0m0-3h0m1 55h0m0-61h0m0 57h0m1 126h0m0-125h0m0-73h0m0 31h0m1-17h0m0-77h0m0 68h0m1 6h0m0 15h0m0 59h0m0-27h0m1 68h0m0-54h0m0-52h0m0 170h0m1-179h0m0-4h0m0-16h0m1 98h0m0-40h0m0-31h0m0 6h0m1 270h0m0-133h0m0-113h0m0 172h0m1-181h0m0-57h0m0 6h0m1 5h0m0-13h0m0 196h0m0-167h0m1-25h0m0 40h0m0-23h0m0-34h0m1 169h0m0-134h0m0 76h0m1-4h0m0-38h0m0-2h0m0 28h0m1 23h0m0-106h0m0-17h0m1 152h0m0-111h0m0 135h0m0-103h0m1-33h0m0 13h0m0-13h0m0 26h0m1 156h0m0-134h0m0-92h0m1 110h0m0-76h0m0 23h0m0-8h0m1-87h0m0 193h0m0-122h0m0-22h0m1 31h0m0-14h0m0 143h0m1-102h0m0 77h0m0 97h0m0-113h0m1-14h0m0-29h0m0-64h0m0 134h0m1-34h0m0-110h0m0 25h0m1-30h0m0 232h0m0-157h0m0-51h0m1 27h0m0 50h0m0 15h0m0-54h0m1-1h0m0 26h0m0 15h0m1-88h0m0 7h0m0 21h0m0 122h0m1-170h0m0 34h0m0 164h0m1-103h0m0-16h0m0-47h0m0 13h0m1 16h0m0 28h0m0-69h0m0-41h0m1 17h0m0 91h0m0 14h0m1-33h0m0 37h0m0-95h0m0 9h0m1 100h0m0-80h0m0 55h0m0 6h0m1-63h0m0 22h0m0 24h0m1-1h0m0 52h0m0-167h0m0-14h0m1 108h0m0-55h0m0 30h0m0 43h0m1-60h0m0 0h0m0-13h0m1 122h0m0-125h0m0 86h0m0 71h0m1-187h0m0 80h0m0-33h0m0 41h0m1 6h0m0-35h0m0-26h0m1 17h0m0 11h0m0 30h0m0 48h0m1-113h0m0-31h0m0 109h0m1-13h0m0-69h0m0 49h0m0 129h0m1-25h0m0-179h0m0 8h0m0 55h0m1 10h0m0 58h0m0-56h0m1 22h0m0-71h0m0 93h0m0-27h0m1 135h0m0-42h0m0-198h0m0 72h0m1 15h0m0-33h0m0 17h0m1 2h0m0-33h0m0-51h0m0 60h0m1 41h0m0-11h0m0-5h0m0 69h0m1-107h0m0 72h0m0-43h0m1-26h0m0 62h0m0-37h0m0-32h0m1 64h0m0-54h0m0 170h0m1-155h0m0 75h0m0-91h0m0 73h0m1 18h0m0-78h0m0-32h0m0 44h0m1-3h0m0 11h0m0 59h0m1-68h0m0 29h0m0 15h0m0-62h0m1 46h0m0-56h0m0 44h0m0-42h0m1 39h0m0-87h0m0 107h0m1-22h0m0-18h0m0-6h0m0 32h0m1-28h0m0 28h0m0-57h0m0-12h0m1 111h0m0-65h0m0-47h0m1 17h0m0 46h0m0-4h0m0 1h0m1-47h0m0-14h0m0 32h0m0-20h0m1-13h0m0 115h0m0-43h0m1-65h0m0 36h0m0-51h0m0 38h0m1-28h0m0 129h0m0-107h0m1 76h0m0-118h0m0-23h0m0 92h0m1-12h0m0-20h0m0-22h0m0 90h0m1-106h0m0 1h0m0 12h0m1 200h0m0-171h0m0 59h0m0-79h0m1 73h0m0-11h0m0-112h0m0 150h0m1-66h0m0-13h0m0-9h0m1 52h0m0-13h0m0-39h0m0 24h0m1 29h0m0-11h0m0-27h0m0 22h0m1-48h0m0-14h0m0 22h0m1-15h0m0-50h0m0 65h0m0-9h0m1-4h0m0 62h0m0-66h0m1 21h0m0-47h0m0 59h0m0-39h0m1 72h0m0-74h0m0 54h0m0-38h0m1 41h0m0-20h0m0-43h0m1 43h0m0-4h0m0-31h0m0 92h0m1-74h0m0 71h0m0-102h0m0 41h0m1 18h0m0-42h0m0 50h0m1-20h0m0-4h0m0 56h0m0-76h0m1 28h0m0 23h0m0 84h0m0-65h0m1-69h0m0-20h0m0 59h0m1-20h0m0-19h0m0 27h0m0-3h0m1-35h0m0 41h0m0-21h0m0-8h0m1 14h0m0-22h0m0 67h0m1-23h0m0 28h0m0-13h0m0-49h0m1-2h0m0-10h0m0 60h0m1-33h0m0-39h0m0 26h0m0-28h0m1-17h0m0 44h0m0-61h0m0 59h0m1 29h0m0-82h0m0 11h0m1-5h0m0-5h0m0 58h0m0-14h0m1-40h0m0 59h0m0-24h0m0-18h0m1 56h0m0-22h0m0-42h0m1 23h0m0 10h0m0-44h0m0 36h0m1 34h0m0-21h0m0 72h0m0-78h0m1 20h0m0-19h0m0-5h0m1-35h0m0 40h0m0 6h0m0-10h0m1-4h0m0 24h0m0 20h0m0-46h0m1-5h0m0-7h0m0-2h0m1-17h0m0 40h0m0 21h0m0-17h0m1-28h0m0-13h0m0 77h0m1-65h0m0 58h0m0-65h0m0 1h0m1 11h0m0-7h0m0 49h0m0 39h0m1-4h0m0-60h0m0-59h0m1 54h0m0 20h0m0-18h0m0-16h0m1 64h0m0-24h0m0-37h0m0-13h0m1 26h0m0-3h0m0 78h0m1-107h0m0-7h0m0 54h0m0-23h0m1 5h0m0 1h0m0 102h0m0-75h0m1-22h0m0 28h0m0-52h0m1 22h0m0 8h0m0 0h0m0 49h0m1-65h0m0-12h0m0 21h0m1-16h0m0 17h0m0-12h0m0-5h0m1 50h0m0 15h0m0-53h0m0 8h0m1 0h0m0-12h0m0 11h0m1-15h0m0 10h0m0 14h0m0-34h0m1-3h0m0 17h0m0-30h0m0 16h0m1 41h0m0-27h0m0-36h0m1 23h0m0 11h0m0 17h0m0-11h0m1 8h0m0-11h0m0-18h0m0-5h0m1 18h0m0 9h0m0-43h0m1 62h0m0-79h0m0 17h0m0 11h0m1 6h0m0 35h0m0-18h0m0 1h0m1 20h0m0-9h0m0-59h0m1 39h0m0 3h0m0-16h0m0-11h0m1 57h0m0-30h0m0 2h0m1 41h0m0-56h0m0-2h0m0 8h0m1-63h0m0 51h0m0-9h0m0 3h0m1 46h0m0 21h0m0-64h0m1 10h0m0-3h0m0 31h0m0 34h0m1-81h0m0 4h0m0 2h0m0 27h0m1 36h0m0-55h0m0-1h0m1-2h0m0 6h0m0 1h0m0 9h0m1 18h0m0-39h0m0 24h0m0-7h0m1-20h0m0 10h0m0 40h0m1-39h0m0 2h0m0 20h0m0-20h0m1-8h0m0-11h0m0-3h0m1 58h0m0-13h0m0 5h0m0 64h0m1-114h0m0 52h0m0-24h0m0 19h0m1-3h0m0 45h0m0-57h0m1-15h0m0 20h0m0-1h0m0-56h0m1 24h0m0 18h0m0 8h0m0-11h0m1 18h0m0-46h0m0 32h0m1-17h0m0 23h0m0-25h0m0 35h0m1-31h0m0-14h0m0 12h0m0 32h0m1-20h0m0-14h0m0 12h0m1 7h0m0-25h0m0 8h0m0 26h0m1-28h0m0-8h0m0 14h0m0-18h0m1 34h0m0-17h0m0 15h0m1 9h0m0-11h0m0-8h0m0 12h0m1-20h0m0 36h0m0-40h0m1-10h0m0 33h0m0-2h0m0 5h0m1-17h0m0 4h0m0-6h0m0 6h0m1 32h0m0-36h0m0-12h0m1-4h0m0 30h0m0-37h0m0 24h0m1-13h0m0-7h0m0 13h0m0 6h0m1 13h0m0-16h0m0 6h0m1-21h0m0 20h0m0-28h0m0 16h0m1 17h0m0 6h0m0-16h0m0 3h0m1 40h0m0-25h0m0-16h0m1 3h0m0-21h0m0 69h0m0-58h0m1 23h0m0-36h0m0 47h0m1-16h0m0-21h0m0 62h0m0-85h0m1 8h0m0 14h0m0 12h0m0 13h0m1 3h0m0 5h0m0-36h0m1 2h0m0 1h0m0 5h0m0-2h0m1 16h0m0-35h0m0 7h0m0 42h0m1-35h0m0 4h0m0-7h0m1-12h0m0 44h0m0-25h0m0-6h0m1-3h0m0 38h0m0 1h0m0-23h0m1 4h0m0 4h0m0-6h0m1-16h0m0-11h0m0-3h0m0 7h0m1 15h0m0 27h0m0-37h0m0-1h0m1 17h0m0 24h0m0-40h0m1 33h0m0-18h0m0-31h0m0 27h0m1 1h0m0 16h0m0 0h0m1-18h0m0-44h0m0 52h0m0-19h0m1-8h0m0 31h0m0-7h0m0 23h0m1 25h0m0-67h0m0 8h0m1 8h0m0-15h0m0-2h0m0 24h0m1-2h0m0-4h0m0-5h0m0-11h0m1 22h0m0 50h0m0-64h0m1-15h0m0 20h0m0-19h0m0 22h0m1-6h0m0 12h0m0-28h0m0 26h0m1-5h0m0 1h0m0-15h0m1 3h0m0 20h0m0-2h0m0-8h0m1-16h0m0 6h0m0 11h0m0-11h0m1-15h0m0 9h0m0 11h0m1-4h0m0 27h0m0-27h0m0 34h0m1-39h0m0 21h0m0-17h0m1 6h0m0-31h0m0 42h0m0-43h0m1 12h0m0 10h0m0 5h0m0 5h0m1-28h0m0 27h0m0-8h0m1-1h0m0 44h0m0-58h0m0 18h0m1-12h0m0 4h0m0-9h0m0 27h0m1-5h0m0-10h0m0-14h0m1 34h0m0-16h0m0-4h0m0 1h0m1 13h0m0-15h0m0-15h0m0 22h0m1-20h0m0 20h0m0-10h0m1 38h0m0-21h0m0-7h0m0-9h0m1 1h0m0-14h0m0 23h0m1 7h0m0-11h0m0 16h0m0-23h0m1 29h0m0-27h0m0 7h0m0 5h0m1-4h0m0 23h0m0-32h0m1 1h0m0 0h0m0-13h0m0 15h0m1-17h0m0 4h0m0 9h0m0 18h0m1 7h0m0-13h0m0 1h0m1-13h0m0 20h0m0-14h0m0-17h0m1 1h0m0 17h0m0 9h0m0-12h0m1 7h0m0 10h0m0-11h0m1-10h0m0 4h0m0 10h0m0-17h0m1 7h0m0-17h0m0 10h0m0 28h0m1-8h0m0-24h0m0-2h0m1-13h0m0 16h0m0 6h0m0-16h0m1 16h0m0 5h0m0-7h0m1 6h0m0 17h0m0-29h0m0-5h0m1-18h0m0 23h0m0 12h0m0 20h0m1-52h0m0 35h0m0-20h0m1 23h0m0-10h0m0-2h0m0-6h0m1-14h0m0 6h0m0 10h0m0-20h0m1 32h0m0-13h0m0 13h0m1-18h0m0 4h0m0 5h0m0-6h0m1 8h0m0 10h0m0 11h0m0-8h0m1-3h0m0-11h0m0-8h0m1 7h0m0-3h0m0-3h0m0 18h0m1-20h0m0 5h0m0 5h0m1-1h0m0-4h0m0 25h0m0-20h0m1-8h0m0 20h0m0-13h0m0 1h0m1-6h0m0-5h0m0 5h0m1-13h0m0-4h0m0 38h0m0-49h0m1 32h0m0-12h0m0 10h0m0-6h0m1-2h0m0 23h0m0-19h0m1-12h0m0 4h0m0 17h0m0-14h0m1 12h0m0-20h0m0 3h0m0 16h0m1 4h0m0-5h0m0 7h0m1-13h0m0-16h0m0 8h0m0 6h0m1 9h0m0 0h0m0-30h0m0 30h0m1-18h0m0 6h0m0 4h0m1-29h0m0 7h0m0 12h0m0 5h0m1 10h0m0 0h0m0-12h0m1 25h0m0-13h0m0-9h0m0-12h0m1 6h0m0-3h0m0 19h0m0-1h0m1 9h0m0-8h0m0-11h0m1 19h0m0-8h0m0-28h0m0 17h0m1-8h0m0 15h0m0 19h0m0-14h0m1 13h0m0-4h0m0-23h0m1-12h0m0 20h0m0-2h0m0-6h0m1 17h0m0-11h0m0-7h0m0-11h0m1 18h0m0 8h0m0-8h0m1 7h0m0-13h0m0 24h0m0-23h0m1-17h0m0 40h0m0-11h0m1-22h0m0 8h0m0-13h0m0 14h0m1 12h0m0-15h0m0-1h0m0 13h0m1-11h0m0 10h0m0-24h0m1 11h0m0-2h0m0-7h0m0 14h0m1-6h0m0 6h0m0-5h0m0-1h0m1-1h0m0 22h0m0-13h0m1 1h0m0-7h0m0 1h0m0-20h0m1 14h0m0 5h0m0-6h0m0 21h0m1-6h0m0-22h0m0 2h0m1 1h0m0-6h0m0 2h0m0 17h0m1-6h0m0 3h0m0-9h0m0 1h0m1 7h0m0 3h0m0 10h0m1-15h0m0 13h0m0-16h0m0 6h0m1-7h0m0-5h0m0-1h0m1 17h0m0-9h0m0-16h0m0 6h0m1 13h0m0-15h0m0-4h0m0 15h0m1 7h0m0-8h0m0 2h0m1-13h0m0 11h0m0-13h0m0 31h0m1-17h0m0-1h0m0 6h0m0-5h0m1 9h0m0-3h0m0-23h0m1 25h0m0-4h0m0-11h0m0 0h0m1 7h0m0-10h0m0 3h0m0 5h0m1-3h0m0 1h0m0-5h0m1 16h0m0-17h0m0 3h0m0 3h0m1 24h0m0-23h0m0-2h0m0 15h0m1-13h0m0-13h0m0 14h0m1-9h0m0 19h0m0-5h0m0-1h0m1-15h0m0-2h0m0 20h0m1 4h0m0-8h0m0-27h0m0 36h0m1-8h0m0-3h0m0 2h0m0 2h0m1-3h0m0-15h0m0 2h0m1 1h0m0 7h0m0-20h0m0 29h0m1-7h0m0-10h0m0 7h0m0 3h0m1-12h0m0 12h0m0-2h0m1 4h0m0-4h0m0-7h0m0-6h0m1 29h0m0-27h0m0 8h0m0 1h0m1-15h0m0-2h0m0 14h0m1-12h0m0 6h0m0-10h0m0 21h0m1-13h0m0 6h0m0-11h0m1 10h0m0 0h0m0 4h0m0-5h0m1 2h0m0-3h0m0 9h0m0 7h0m1-5h0m0 17h0m0-44h0m1 17h0m0 8h0m0-13h0m0 1h0m1 8h0m0-4h0m0-3h0m0 8h0m1-5h0m0 7h0m0 0h0m1-19h0m0 14h0m0-5h0m0-2h0m1 4h0m0-6h0m0 7h0m0-20h0m1 26h0m0-6h0m0 7h0m1-1h0m0-8h0m0 0h0m0 13h0m1-13h0m0-9h0m0 3h0m0-2h0m1 15h0m0-16h0m0 14h0m1-1h0m0 0h0m0-12h0m0 1h0m1 3h0m0 9h0m0-8h0m1-8h0m0 3h0m0-4h0m0 0h0m1 6h0m0 12h0m0-2h0m0-6h0m1-7h0m0 1h0m0 7h0m1-1h0m0-15h0m0 18h0m0-12h0m1 5h0m0-1h0m0 2h0m0 11h0m1-17h0m0 11h0m0-10h0m1 19h0m0-7h0m0-6h0m0 20h0m1-14h0m0-18h0m0 9h0m0 8h0m1-8h0m0 2h0m0 11h0m1-12h0m0 2h0m0-1h0m0-8h0m1 1h0m0 16h0m0-11h0m1-1h0m0-5h0m0 14h0m0-20h0m1 11h0m0 2h0m0-2h0m0 1h0m1-4h0m0 4h0m0-7h0m1-4h0m0 4h0m0 18h0m0-24h0m1 8h0m0 5h0m0 1h0m0 4h0m1-7h0m0 7h0m0-10h0m1-1h0m0 3h0m0 8h0m0-16h0m1 16h0m0-4h0m0-11h0m0 12h0m1-4h0m0 3h0m0-11h0m1 7h0m0-7h0m0 0h0m0 14h0m1-6h0m0-8h0m0 3h0m0 22h0m1-8h0m0 8h0m0-11h0m1-16h0m0 19h0m0-8h0m0-5h0m1 3h0m0-2h0m0 3h0m1 0h0m0 15h0m0-19h0m0 2h0m1 2h0m0-10h0m0 2h0m0-10h0m1 4h0m0 18h0m0-10h0m1-4h0m0 7h0m0-14h0m0 14h0m1-4h0m0-3h0m0 12h0m0 9h0m1-12h0m0-9h0m0 2h0m1-3h0m0 20h0m0 23h0m0-44h0m1 2h0m0 7h0m0-8h0m0 6h0m1 8h0m0-3h0m0 4h0m1-5h0m0-3h0m0-4h0m0 0h0m1 0h0m0-5h0m0 19h0m0-13h0m1 9h0m0-6h0m0 0h0m1 11h0m0-16h0m0-2h0m0 4h0m1 5h0m0-17h0m0 16h0m1 7h0m0-7h0m0-5h0m0 12h0m1-8h0m0-5h0m0-4h0m0 11h0m1-11h0m0 14h0m0-6h0m1 9h0m0-12h0m0 8h0m0-10h0m1-4h0m0 0h0m0-2h0m0 9h0m1-8h0m0 3h0m0-13h0m1 16h0m0 2h0m0-12h0m0 9h0m1 6h0m0-5h0m0-1h0m0 2h0m1 5h0m0-4h0m0-6h0m1 8h0m0 5h0m0-19h0m0 6h0m1 9h0m0-10h0m0 11h0m1-21h0m0 6h0m0-11h0m0 8h0m1 17h0m0-1h0m0-11h0m0 7h0m1-1h0m0-1h0m0 1h0m1 2h0m0 3h0m0-11h0m0 0h0m1 5h0m0 6h0m0 6h0m0-21h0m1 15h0m0-23h0m0 11h0m1 17h0m0-7h0m0-1h0m0-16h0m1 3h0m0 16h0m0-9h0m0-5h0m1 9h0m0-1h0m0-10h0m1-2h0m0-4h0m0 20h0m0-6h0m1-4h0m0 9h0m0-4h0m0-2h0m1-4h0m0-11h0m0 12h0m1-1h0m0 4h0m0-10h0m0 17h0m1 2h0m0-11h0m0 7h0m1-9h0m0 1h0m0-7h0m0 1h0m1 11h0m0-8h0m0 2h0m0 7h0m1-14h0m0-1h0m0 15h0m1 0h0m0-9h0m0-8h0m0-2h0m1 9h0m0-2h0m0 6h0m0 1h0m1-4h0m0-10h0m0 22h0m1-22h0m0-1h0m0 5h0m0 17h0m1-12h0m0 7h0m0-5h0m0-4h0m1 0h0m0-7h0m0 8h0m1-2h0m0-5h0m0-1h0m0 0h0m1 24h0m0-16h0m0 5h0m1-4h0m0-9h0m0 3h0m0 8h0m1-3h0m0-7h0m0 10h0m0-7h0m1 1h0m0-1h0m0 11h0m1-13h0m0 20h0m0-7h0m0 4h0m1-11h0m0 7h0m0-9h0m0-2h0m1 7h0m0-2h0m0 6h0m1-20h0m0 10h0m0-7h0m0 10h0m1 5h0m0-8h0m0-1h0m0 1h0m1 2h0m0-8h0m0 6h0m1-1h0m0 12h0m0-8h0m0 0h0m1 4h0m0-10h0m0 16h0m0-4h0m1-9h0m0 18h0m0-13h0m1-3h0m0 5h0m0 0h0m0 2h0m1-26h0m0 26h0m0-4h0m1-8h0m0 12h0m0-11h0m0 10h0m1 4h0m0 6h0m0-10h0m0-2h0m1-3h0m0-6h0m0 12h0m1-3h0m0 12h0m0-15h0m0 1h0m1-2h0m0 9h0m0-5h0m0 5h0m1-3h0m0 1h0m0-6h0m1-4h0m0 0h0m0 8h0m0 4h0m1-9h0m0-5h0m0 6h0m0-3h0m1 3h0m0 1h0m0 4h0m1 1h0m0-3h0m0 0h0m0-5h0m1 9h0m0-13h0m0 4h0m1 2h0m0-7h0m0 9h0m0 1h0m1 0h0m0-1h0m0-3h0m0-1h0m1 16h0m0 7h0m0-19h0m1 1h0m0 7h0m0-12h0m0 9h0m1 4h0m0-20h0m0 13h0m0-3h0m1 12h0m0-13h0m0 0h0m1 7h0m0-1h0m0-3h0m0-1h0m1-5h0m0 3h0m0 8h0m0-10h0m1 11h0m0 2h0m0-8h0m1 3h0m0 1h0m0-3h0m0-13h0m1 16h0m0-6h0m0 3h0m0-3h0m1-2h0m0 4h0m0-3h0m1 0h0m0-7h0m0 8h0m0 12h0m1-22h0m0 1h0m0 0h0m1 9h0m0 7h0m0-14h0m0 9h0m1-13h0m0 4h0m0 2h0m0-5h0m1 8h0m0 2h0m0-11h0m1 17h0m0-10h0m0-5h0m0-1h0m1 3h0m0-5h0m0 7h0m0 2h0m1 4h0m0-2h0m0-4h0m1-7h0m0 9h0m0-7h0m0-2h0m1 2h0m0 4h0m0 2h0m0-1h0m1-4h0m0-3h0m0 7h0m1-13h0m0 24h0m0-14h0m0-1h0m1 9h0m0-15h0m0 5h0m0 4h0m1-6h0m0-1h0m0 0h0m1 4h0m0 6h0m0-4h0m0-4h0m1 4h0m0-9h0m0 17h0m1 4h0m0-11h0m0-4h0m0-3h0m1 11h0m0-9h0m0 8h0m0-5h0m1 5h0m0-9h0m0 1h0m1 6h0m0 7h0m0-8h0m0-1h0m1-11h0m0 1h0m0 22h0m0-12h0m1-8h0m0 2h0m0-5h0m1 5h0m0-4h0m0 9h0m0-7h0m1 10h0m0-12h0m0 13h0m0-6h0m1 4h0m0-6h0m0 3h0m1-4h0m0 0h0m0-3h0m0 12h0m1-15h0m0 4h0m0 5h0m1-8h0m0-4h0m0 15h0m0-10h0m1 6h0m0 1h0m0-7h0m0 5h0m1 5h0m0 0h0m0-2h0m1 2h0m0-14h0m0 8h0m0 1h0m1 5h0m0 1h0m0-8h0m0 3h0m1-13h0m0 4h0m0 5h0m1-4h0m0 9h0m0 2h0m0-2h0m1-3h0m0 1h0m0-3h0m0-3h0m1-9h0m0 10h0m0-2h0m1 1h0m0 9h0m0-6h0m0 13h0m1-6h0m0-1h0m0-6h0m0-4h0m1 12h0m0-14h0m0 7h0m1-4h0m0 2h0m0-2h0m0-2h0m1 9h0m0-7h0m0 2h0m1-10h0m0 5h0m0-5h0m0 13h0m1-1h0m0-10h0m0 3h0m0 8h0m1-5h0m0-1h0m0-2h0m1 2h0m0 6h0m0-4h0m0-4h0m1 8h0m0 0h0m0-10h0m0 5h0m1-5h0m0 4h0m0 6h0m1 1h0m0-8h0m0 5h0m0-5h0m1 5h0m0 4h0m0-2h0m0 3h0m1-8h0m0-10h0m0 13h0m1-9h0m0 1h0m0 6h0m0-1h0m1-6h0m0 4h0m0-6h0m1 13h0m0-5h0m0 5h0m0 3h0m1-12h0m0-8h0m0 8h0m0-1h0m1 2h0m0-1h0m0 12h0m1-11h0m0-3h0m0 11h0m0 1h0m1-5h0m0-3h0m0 5h0m0-3h0m1-5h0m0 0h0m0 1h0m1-5h0m0 10h0m0-1h0m0 0h0m1-7h0m0 0h0m0 3h0m0 6h0m1 8h0m0-13h0m0 3h0m1-2h0m0-5h0m0 8h0m0-7h0m1 2h0m0-5h0m0 6h0m0-5h0m1 8h0m0-9h0m0 4h0m1 9h0m0-13h0m0 17h0m0-9h0m1 3h0m0-8h0m0 5h0m1-6h0m0 1h0m0-2h0m0 11h0m1-10h0m0-8h0m0 8h0m0-6h0m1 5h0m0-4h0m0 5h0m1 2h0m0-21h0m0 17h0m0-1h0m1 0h0m0 0h0m0-6h0m0 3h0m1-7h0m0 6h0m0 4h0m1 8h0m0-9h0m0 12h0m0-15h0m1 4h0m0-4h0m0 3h0m0 0h0m1 3h0m0-7h0m0 5h0m1-2h0m0 3h0m0-2h0m0-6h0m1 1h0m0 12h0m0-9h0m1 3h0m0-7h0m0 13h0m0-7h0m1 0h0m0-7h0m0 14h0m0-10h0m1 15h0m0-17h0m0 3h0m1 2h0m0 1h0m0 1h0m0 2h0m1-11h0m0 6h0m0-2h0m0-1h0m1 2h0m0-3h0m0 6h0m1 2h0m0-12h0m0 7h0m0-4h0m1 10h0m0-8h0m0-8h0m0 10h0m1-1h0m0 2h0m0 3h0m1 0h0m0 2h0m0-5h0m0 2h0m1-1h0m0-1h0m0-3h0m0 12h0m1-10h0m0-3h0m0 6h0m1 1h0m0-8h0m0-6h0m0 11h0m1-1h0m0 5h0m0 2h0m1-11h0m0 12h0m0-2h0m0-1h0m1-4h0m0-6h0m0 2h0m0 8h0m1-1h0m0-4h0m0-7h0m1 6h0m0 1h0m0-2h0m0 6h0m1-10h0m0 1h0m0 11h0m0-11h0m1 12h0m0-7h0m0-6h0m1 6h0m0 0h0m0 1h0m0-2h0m1 8h0m0-21h0m0 7h0m0 13h0m1-7h0m0-2h0m0 10h0m1-11h0m0-1h0m0 1h0m0-1h0m1 6h0m0-8h0m0 4h0m0-3h0m1 3h0m0 7h0m0-9h0m1 5h0m0-12h0m0 14h0m0-7h0m1 8h0m0-8h0m0-8h0m1 3h0m0 4h0m0 0h0m0 4h0m1-3h0m0-9h0m0 6h0m0 1h0m1 13h0m0-6h0m0-4h0m1 3h0m0-9h0m0-2h0m0 3h0m1 7h0m0-6h0m0 8h0m0-4h0m1-4h0m0 8h0m0-4h0m1 2h0m0-6h0m0 3h0m0 3h0m1-5h0m0-5h0m0 5h0m0-3h0m1 6h0m0-2h0m0-3h0m1 3h0m0-9h0m0 12h0m0 1h0m1 2h0m0-2h0m0-3h0m1-7h0m0 0h0m0-3h0m0 1h0m1 3h0m0 12h0m0 2h0m0-7h0m1 2h0m0-4h0m0 4h0m1 0h0m0-6h0m0 3h0m0-2h0m1-4h0m0 6h0m0 6h0m0-6h0m1-1h0m0 20h0m0-21h0m1-1h0m0 8h0m0-3h0m0-6h0m1 9h0m0-9h0m0 5h0m0 2h0m1-2h0m0-11h0m0 8h0m1 4h0m0-3h0m0 4h0m0-6h0m1 0h0m0 13h0m0-9h0m0-3h0m1 6h0m0 3h0m0-2h0m1 2h0m0-11h0m0 4h0m0 3h0m1-3h0m0-4h0m0-1h0m1-6h0m0 15h0m0 3h0m0-5h0m1-2h0m0-2h0m0-2h0m0 1h0m1 3h0m0 3h0m0-13h0m1 5h0m0 2h0m0-6h0m0-1h0m1 1h0m0 8h0m0-5h0m0 6h0m1-5h0m0 2h0m0 1h0m1-9h0m0 10h0m0-1h0m0 7h0m1-9h0m0 1h0m0 5h0m0-1h0m1-8h0m0 11h0m0-10h0m1 9h0m0-5h0m0-3h0m0 3h0m1 4h0m0-2h0m0-8h0m1 1h0m0 2h0m0-5h0m0 0h0m1 9h0m0-2h0m0-4h0m0 3h0m1 1h0m0 3h0m0-2h0m1-5h0m0 0h0m0-2h0m0 8h0m1 1h0m0 0h0m0-8h0m0 5h0m1-2h0m0-1h0m0-1h0m1 5h0m0-3h0m0 4h0m0 2h0m1-2h0m0-3h0m0-3h0m0 2h0m1-8h0m0 5h0m0-6h0m1 7h0m0 2h0m0-4h0m0 11h0m1-14h0m0 6h0m0 1h0m0-5h0m1 1h0m0 3h0m0 2h0m1-5h0m0 3h0m0-9h0m0 12h0m1-1h0m0-2h0m0-2h0m1 5h0m0 1h0m0-4h0m0 0h0m1-2h0m0 2h0m0-5h0m0 6h0m1-11h0m0 7h0m0 6h0m1-6h0m0 5h0m0-6h0m0-8h0m1 10h0m0 1h0m0-3h0m0-7h0m1 14h0m0-5h0m0-5h0m1 4h0m0 4h0m0-3h0m0 3h0m1 2h0m0-1h0m0-12h0m0 4h0m1 5h0m0-1h0m0-2h0m1-3h0m0-4h0m0 2h0m0 5h0m1 0h0m0 1h0m0 2h0m0-3h0m1 0h0m0 1h0m0-7h0m1 3h0m0-6h0m0 8h0m0 2h0m1-1h0m0 3h0m0-5h0m1 3h0m0-2h0m0-2h0m0-5h0m1 7h0m0 5h0m0-5h0m0-6h0m1-1h0m0 2h0m0 9h0m1-7h0m0-3h0m0-4h0m0 6h0m1 0h0m0-4h0m0 5h0m0 10h0m1-14h0m0 6h0m0 0h0m1-3h0m0 0h0m0 2h0m0 4h0m1-9h0m0-3h0m0 6h0m0 4h0m1 3h0m0-7h0m0 8h0m1-10h0m0 3h0m0 7h0m0-7h0m1 2h0m0-1h0m0-1h0m1 2h0m0 4h0m0-2h0m0-3h0m1 1h0m0 3h0m0 1h0m0 7h0m1-12h0m0 7h0m0-2h0m1-2h0m0-5h0m0 5h0m0 1h0m1 1h0m0-2h0m0 2h0m0 4h0m1-9h0m0 0h0m0 2h0m1 9h0m0-11h0m0-4h0m0 3h0m1 5h0m0-7h0m0 7h0m0 2h0m1-6h0m0 5h0m0 0h0m1 8h0m0-17h0m0 1h0m0-1h0m1-4h0m0 4h0m0 4h0m0-4h0m1 13h0m0-14h0m0 2h0m1 11h0m0-7h0m0-2h0m0 6h0m1-3h0m0 0h0m0-8h0m1 5h0m0-2h0m0-1h0m0 11h0m1-12h0m0 14h0m0-9h0m0 2h0m1 0h0m0-5h0m0 1h0m1-2h0m0 0h0m0 11h0m0-10h0m1 4h0m0-6h0m0 2h0m0 4h0m1-5h0m0 6h0m0-11h0m1 15h0m0-6h0m0-2h0m0 4h0m1-10h0m0 9h0m0 2h0m0-3h0m1-1h0m0 2h0m0-3h0m1 1h0m0 0h0m0 6h0m0-10h0m1 7h0m0-5h0m0 5h0m1-5h0m0 4h0m0 0h0m0-2h0m1 3h0m0 1h0m0-17h0m0 8h0m1 5h0m0-2h0m0 3h0m1-1h0m0-5h0m0-1h0m0 4h0m1 2h0m0-4h0m0 0h0m0-4h0m1 8h0m0-1h0m0 6h0m1-7h0m0-4h0m0 0h0m0-4h0m1 8h0m0-7h0m0 5h0m0-1h0m1 0h0m0-1h0m0 2h0m1-9h0m0 6h0m0-3h0m0 7h0m1-3h0m0-9h0m0 7h0m0 8h0m1-8h0m0-3h0m0 7h0m1 0h0m0-4h0m0-5h0m0 3h0m1 1h0m0 2h0m0 0h0m1 1h0m0 1h0m0-4h0m0-6h0m1 5h0m0 10h0m0-9h0m0 1h0m1-4h0m0-2h0m0 6h0m1-2h0m0 4h0m0-1h0m0-4h0m1 3h0m0 1h0m0 5h0m0-15h0m1 9h0m0-6h0m0 6h0m1-5h0m0 1h0m0 2h0m0 8h0m1-9h0m0-5h0m0 5h0m0-2h0m1 2h0m0 2h0m0-5h0m1 9h0m0-6h0m0-5h0m0 3h0m1-2h0m0-3h0m0 8h0m1-1h0m0 1h0m0-1h0m0-4h0m1-2h0m0 4h0m0 4h0m0 1h0m1-3h0m0 1h0m0-8h0m1 8h0m0-8h0m0 7h0m0-11h0m1 12h0m0 7h0m0-12h0m0 0h0m1 0h0m0 0h0m0-2h0m1 1h0m0-2h0m0 18h0m0-16h0m1-1h0m0 0h0m0 3h0m0-4h0m1 3h0m0 6h0m0-14h0m1 10h0m0-4h0m0 6h0m0-5h0m1 1h0m0-6h0m0 1h0m0 5h0m1 0h0m0 4h0m0 1h0m1-1h0m0-1h0m0-8h0m0 5h0m1 4h0m0-1h0m0-10h0m1 5h0m0 4h0m0-2h0m0-6h0m1 2h0m0 7h0m0-3h0m0 4h0m1 1h0m0-1h0m0-3h0m1-3h0m0 7h0m0-6h0m0 3h0m1 4h0m0-10h0m0 8h0m0 1h0m1-7h0m0 1h0m0 1h0m1 5h0m0-4h0m0 4h0m0 1h0m1-6h0m0-6h0m0 6h0m0-3h0m1 11h0m0-6h0m0-2h0m1 3h0m0-3h0m0 0h0m0-2h0m1 1h0m0 4h0m0 0h0m0-2h0m1 0h0m0 4h0m0-4h0m1-5h0m0 9h0m0 0h0m0-2h0m1-8h0m0 8h0m0 0h0m1 0h0m0 2h0m0 1h0m0-1h0m1 1h0m0-2h0m0-3h0m0-4h0m1 4h0m0-1h0m0 4h0m1-8h0m0 7h0m0 3h0m0-13h0m1 1h0m0 0h0m0 3h0m0-5h0m1-2h0m0 8h0m0 0h0m1-5h0m0 6h0m0 0h0m0 6h0m1-8h0m0-5h0m0 0h0m0 0h0m1 5h0m0 5h0m0-11h0m1 6h0m0 4h0m0-4h0m0 2h0m1 1h0m0-7h0m0 6h0m1 1h0m0-7h0m0 4h0m0-11h0m1 9h0m0-5h0m0 5h0m0 4h0m1-3h0m0 0h0m0 2h0m1-4h0m0-1h0m0 4h0m0 1h0m1-4h0m0 2h0m0 1h0m0 5h0m1-4h0m0 3h0m0-10h0m1 7h0m0-3h0m0 4h0m0 4h0m1-4h0m0-2h0m0 0h0m0-3h0m1 2h0m0 3h0m0 1h0m1-3h0m0 4h0m0-3h0m0-2h0m1 3h0m0-1h0m0-3h0m0 7h0m1-10h0m0-1h0m0 5h0m1 4h0m0-7h0m0 3h0m0 2h0m1 1h0m0 3h0m0 0h0m1-6h0m0 1h0m0-2h0m0 1h0m1-1h0m0 8h0m0-7h0m0-4h0m1 9h0m0-1h0m0-6h0m1 7h0m0-1h0m0-3h0m0-2h0m1 0h0m0 2h0m0-3h0m0 5h0m1-1h0m0 0h0m0-2h0m1 2h0m0-3h0m0 3h0m0 6h0m1-9h0m0 1h0m0-1h0m0 3h0m1-1h0m0 3h0m0-8h0m1 0h0m0 0h0m0 3h0m0 1h0m1-4h0m0-2h0m0 5h0m1-7h0m0 7h0m0 2h0m0-6h0m1 8h0m0-4h0m0-3h0m0-4h0m1 6h0m0-2h0m0 1h0m1 1h0m0-4h0m0 4h0m0 1h0m1-4h0m0-6h0m0 10h0m0-1h0m1-1h0m0-1h0m0 12h0m1-13h0m0-2h0m0-2h0m0 10h0m1-7h0m0-1h0m0 10h0m0-4h0m1-8h0m0 9h0m0-4h0m1-2h0m0 3h0m0-4h0m0 1h0m1 2h0m0 4h0m0 0h0m0-9h0m1 7h0m0 0h0m0 3h0m1 1h0m0 0h0m0-7h0m0 4h0m1-5h0m0 4h0m0 0h0m1 4h0m0-8h0m0 10h0m0-7h0m1 2h0m0-5h0m0 7h0m0-2h0m1-9h0m0 9h0m0 6h0m1-2h0m0-7h0m0 1h0m0 6h0m1-6h0m0 7h0m0-6h0m0 1h0m1 1h0m0-3h0m0-1h0m1 6h0m0-4h0m0 1h0m0 4h0m1-2h0m0 2h0m0-9h0m0 4h0m1-2h0m0 5h0m0-4h0m1 4h0m0-2h0m0 1h0m0-4h0m1 3h0m0-8h0m0 5h0m0 2h0m1-5h0m0 3h0m0-3h0m1 2h0m0 0h0m0-3h0m0 4h0m1 3h0m0-10h0m0 6h0m1 1h0m0 1h0m0-6h0m0 5h0m1 0h0m0-5h0m0 1h0m0 3h0m1-3h0m0 2h0m0 0h0m1 1h0m0 0h0m0-4h0m0-2h0m1 3h0m0 4h0m0 1h0m0-4h0m1 3h0m0 1h0m0 3h0m1-5h0m0-1h0m0-1h0m0 5h0m1 1h0m0-1h0m0 1h0m0 3h0m1-6h0m0-1h0m0-1h0m1-4h0m0 4h0m0-2h0m0 5h0m1-2h0m0-2h0m0-4h0m1 3h0m0-9h0m0 11h0m0 1h0m1-9h0m0 8h0m0 4h0m0-11h0m1 8h0m0 3h0m0-1h0m1-1h0m0-5h0m0-3h0m0 3h0m1-6h0m0 10h0m0-3h0m0-3h0m1 3h0m0 6h0m0-8h0m1-1h0m0 3h0m0-2h0m0 4h0m1-5h0m0-2h0m0 3h0m0 0h0m1-5h0m0 5h0m0 4h0m1 1h0m0-7h0m0 0h0m0 5h0m1-8h0m0 1h0m0 7h0m0 0h0m1-5h0m0 3h0m0-3h0m1 4h0m0 0h0m0-3h0m0-3h0m1 5h0m0-4h0m0 0h0m1 3h0m0 2h0m0 2h0m0-7h0m1 0h0m0 7h0m0-2h0m0 6h0m1-11h0m0 6h0m0-7h0m1-1h0m0 3h0m0-4h0m0 9h0m1-11h0m0 9h0m0-5h0m0-2h0m1 5h0m0-4h0m0 2h0m1 1h0m0-2h0m0-5h0m0 7h0m1-2h0m0 8h0m0-6h0m0-2h0m1 4h0m0 1h0m0-6h0m1-1h0m0 4h0m0 2h0m0-5h0m1 6h0m0-4h0m0-3h0m1 9h0m0-1h0m0 1h0m0-5h0m1 1h0m0 1h0m0 0h0m0-3h0m1 0h0m0 1h0m0-9h0m1 8h0m0-2h0m0 7h0m0-1h0m1 0h0m0-12h0m0 8h0m0 5h0m1-9h0m0-3h0m0 9h0m1-10h0m0 12h0m0-7h0m0-2h0m1 6h0m0-9h0m0 11h0m0-5h0m1 4h0m0-8h0m0 8h0m1-8h0m0 5h0m0-2h0m0 7h0m1-5h0m0-3h0m0 4h0m0-5h0m1 6h0m0-11h0m0 15h0m1-8h0m0-2h0m0 1h0m0 5h0m1-3h0m0 1h0m0 1h0m1 3h0m0-5h0m0-5h0m0 8h0m1-3h0m0 3h0m0-2h0m0 2h0m1-4h0m0 5h0m0 0h0m1-1h0m0-4h0m0 3h0m0-3h0m1 0h0m0 2h0m0 5h0m0-7h0m1 7h0m0-3h0m0-1h0m1-8h0m0 10h0m0 0h0m0-4h0m1 3h0m0-2h0m0 3h0m0 1h0m1-5h0m0-3h0m0 4h0m1 6h0m0-12h0m0 5h0m0-4h0m1 5h0m0 6h0m0-6h0m1 2h0m0 2h0m0-6h0m0 8h0m1-1h0m0-7h0m0 11h0m0-4h0m1-2h0m0-3h0m0 0h0m1 4h0m0 0h0m0 4h0m0-9h0m1-2h0m0 0h0m0 2h0m0 4h0m1-12h0m0 7h0m0 2h0m1-2h0m0-2h0m0 0h0m0-1h0m1 0h0m0 7h0m0-6h0m0-1h0m1 2h0m0-1h0m0 0h0m1 0h0m0-1h0m0 6h0m0-6h0m1 5h0m0-1h0m0 0h0m0 1h0m1 2h0m0 4h0m0-3h0m1 0h0m0-4h0m0 0h0m0 5h0m1 3h0m0-3h0m0 1h0m1-3h0m0 2h0m0 1h0m0-4h0m1 4h0m0-1h0m0-1h0m0 2h0m1 2h0m0-5h0m0-2h0m1 7h0m0-1h0m0-6h0m0-1h0m1 5h0m0-1h0m0-2h0m0 2h0m1-5h0m0 5h0m0 1h0m1 0h0m0-3h0m0 1h0m0-3h0m1 2h0m0-2h0m0 6h0m0-9h0m1 5h0m0-1h0m0 1h0m1 6h0m0 1h0m0-9h0m0 5h0m1-5h0m0 5h0m0 6h0m0-6h0m1-4h0m0-5h0m0 12h0m1-4h0m0 1h0m0-4h0m0 1h0m1 5h0m0-1h0m0 1h0m1-2h0m0-5h0m0-3h0m0 3h0m1 1h0m0-1h0m0 4h0m0-3h0m1-2h0m0 1h0m0 0h0m1-3h0m0 1h0m0 4h0m0-3h0m1 1h0m0-1h0m0 1h0m0 5h0m1-5h0m0 5h0m0-10h0m1 11h0m0-7h0m0 1h0m0 3h0m1-5h0m0 8h0m0-7h0m0-1h0m1 0h0m0 4h0m0 0h0m1-1h0m0 5h0m0-2h0m0 0h0m1-2h0m0 5h0m0-7h0m1 0h0m0 6h0m0-11h0m0 8h0m1-2h0m0 1h0m0 2h0m0 3h0m1-7h0m0-1h0m0 1h0m1-3h0m0-4h0m0 2h0m0 3h0m1 6h0m0-11h0m0-2h0m0 4h0m1 5h0m0-7h0m0-1h0m1 7h0m0 0h0m0-5h0m0 0h0m1-5h0m0 12h0m0-6h0m0-3h0m1 4h0m0-4h0m0 6h0m1-2h0m0-2h0m0-3h0m0 2h0m1 1h0m0-2h0m0 5h0m0-2h0m1-2h0m0 4h0m0-5h0m1-2h0m0 6h0m0-2h0m0 6h0m1-4h0m0 4h0m0-7h0m1 3h0m0-1h0m0 3h0m0-13h0m1 9h0m0-1h0m0 0h0m0 4h0m1 0h0m0-7h0m0 11h0m1-6h0m0 3h0m0-2h0m0-1h0m1 4h0m0-5h0m0-1h0m0 0h0m1 6h0m0-8h0m0 7h0m1-3h0m0-4h0m0-1h0m0 4h0m1-5h0m0 2h0m0 0h0m0 1h0m1 2h0m0-4h0m0 2h0m1 0h0m0 0h0m0-4h0m0-3h0m1 3h0m0 0h0m0 1h0m1 0h0m0-4h0m0 3h0m0 1h0m1 0h0m0 3h0m0-4h0m0 4h0m1 0h0m0-2h0m0-5h0m1 7h0m0-3h0m0 0h0m0-1h0m1-1h0m0 9h0m0-3h0m0 0h0m1 0h0m0-3h0m0-3h0m1 8h0m0-11h0m0 6h0m0-3h0m1-3h0m0 11h0m0-5h0m0-5h0m1 2h0m0 4h0m0 5h0m1-1h0m0-6h0m0 7h0m0-3h0m1-4h0m0 2h0m0-1h0m0 0h0m1-2h0m0 8h0m0-11h0m1-2h0m0 8h0m0 1h0m0-7h0m1 7h0m0 2h0m0-13h0m1 8h0m0 4h0m0-7h0m0-1h0m1 3h0m0-2h0m0 5h0m0-4h0m1-4h0m0 1h0m0 13h0m1-5h0m0-7h0m0 4h0m0-5h0m1 3h0m0 0h0m0-2h0m0-2h0m1 13h0m0-13h0m0-1h0m1-3h0m0 1h0m0 5h0m0 2h0m1-1h0m0-5h0m0 8h0m0-4h0m1 1h0m0 3h0m0 1h0m1 0h0m0-9h0m0 13h0m0-9h0m1-4h0m0 8h0m0-2h0m1-3h0m0 9h0m0-11h0m0 3h0m1-4h0m0 5h0m0-1h0m0 2h0m1 3h0m0-4h0m0 5h0m1-10h0m0-3h0m0 11h0m0 3h0m1-5h0m0 1h0m0-4h0m0 3h0m1 7h0m0-4h0m0-2h0m1 3h0m0-6h0m0 0h0m0 3h0m1-3h0m0-2h0m0 8h0m0 2h0m1-2h0m0 3h0m0-4h0m1 1h0m0-3h0m0 1h0m0-3h0m1 5h0m0-1h0m0-3h0m0 3h0m1-3h0m0 7h0m0-5h0m1-2h0m0 1h0m0 0h0m0-2h0m1 4h0m0 0h0m0-3h0m1 4h0m0-5h0m0-3h0m0 3h0m1-3h0m0-3h0m0 9h0m0-1h0m1-3h0m0 2h0m0 0h0m1 1h0m0-7h0m0 3h0m0-4h0m1 6h0m0 1h0m0 1h0m0-4h0m1 4h0m0-3h0m0-2h0m1-1h0m0 2h0m0 0h0m0 3h0m1 3h0m0-7h0m0 2h0m0-1h0m1 3h0m0 5h0m0-5h0m1-4h0m0 5h0m0 1h0m0 0h0m1-8h0m0 7h0m0-1h0m0-4h0m1 8h0m0-3h0m0 3h0m1-7h0m0 6h0m0-2h0m0-4h0m1 0h0m0 6h0m0 0h0m1-7h0m0 1h0m0 0h0m0 2h0m1 1h0m0-6h0m0-2h0m0 8h0m1-4h0m0 0h0m0-3h0m1 2h0m0 1h0m0 4h0m0 0h0m1-4h0m0 4h0m0-2h0m0-2h0m1-1h0m0-4h0m0 5h0m1 2h0m0 0h0m0-8h0m0 10h0m1-4h0m0-4h0m0 2h0m0 4h0m1 4h0m0-5h0m0 1h0m1 0h0m0-4h0m0-2h0m0 7h0m1-3h0m0 3h0m0 6h0m1-8h0m0-6h0m0 6h0m0 2h0m1-9h0m0 1h0m0 9h0m0-1h0m1 0h0m0 3h0m0-6h0m1 1h0m0-1h0m0 7h0m0-10h0m1 2h0m0 2h0m0-10h0m0 10h0m1-6h0m0-1h0m0 6h0m1 1h0m0-10h0m0 15h0m0-4h0m1-5h0m0 1h0m0-1h0m0-1h0m1 7h0m0-11h0m0 16h0m1-9h0m0 1h0m0 2h0m0 0h0m1 0h0m0 5h0m0-6h0m0-1h0m1 2h0m0 0h0m0-5h0m1 9h0m0-2h0m0 1h0m0 0h0m1-4h0m0 3h0m0 2h0m1-7h0m0 0h0m0 0h0m0-8h0m1 10h0m0-4h0m0 1h0m0 1h0m1-2h0m0 5h0m0-6h0m1 1h0m0 7h0m0-1h0m0-3h0m1-3h0m0-2h0m0-3h0m0 7h0m1 3h0m0-6h0m0 6h0m1-1h0m0-6h0m0 1h0m0 1h0m1 0h0m0 1h0m0 2h0m0-1h0m1-1h0m0 1h0m0 4h0m1-1h0m0-3h0m0 4h0m0-1h0m1-6h0m0 1h0m0 2h0m1-4h0m0 6h0m0 0h0m0 0h0m1-5h0m0 2h0m0 3h0m0-1h0m1-2h0m0 3h0m0-5h0m1 5h0m0 2h0m0-7h0m0 3h0m1-4h0m0 11h0m0-6h0m0-3h0m1 4h0m0-11h0m0 15h0m1-8h0m0 6h0m0 0h0m0 0h0m1-2h0m0-3h0m0 1h0m0-8h0m1 8h0m0-7h0m0 3h0m1 7h0m0-2h0m0-2h0m0-5h0m1 2h0m0 2h0m0 5h0m0-7h0m1 3h0m0-4h0m0 0h0m1-2h0m0 3h0m0 3h0m0-5h0m1 7h0m0-10h0m0 5h0m1-2h0m0 8h0m0-8h0m0 1h0m1-5h0m0 7h0m0 1h0m0 1h0m1-3h0m0 3h0m0-2h0m1 4h0m0-9h0m0 8h0m0-8h0m1 0h0m0 3h0m0-2h0m0 10h0m1-8h0m0 2h0m0-1h0m1 2h0m0 0h0m0-3h0m0 2h0m1 1h0m0 2h0m0 0h0m0-5h0m1-1h0m0 1h0m0 1h0m1 1h0m0-1h0m0 1h0m0 2h0m1-5h0m0 0h0m0 2h0m0 0h0m1-3h0m0 3h0m0-3h0m1 2h0m0 3h0m0 1h0m0 2h0m1-2h0m0 1h0m0-2h0m1-6h0m0 10h0m0 1h0m0-8h0m1-3h0m0 7h0m0 1h0m0 1h0m1-9h0m0 8h0m0 5h0m1-7h0m0-3h0m0 1h0m0 2h0m1 3h0m0-6h0m0 6h0m0 0h0m1-8h0m0 4h0m0-4h0m1 3h0m0-1h0m0 11h0m0-11h0m1 2h0m0-2h0m0 5h0m0 3h0m1-6h0m0 1h0m0 3h0m1-1h0m0 3h0m0-2h0m0-2h0m1 0h0m0 0h0m0-2h0m1 5h0m0-9h0m0 4h0m0-3h0m1 4h0m0 1h0m0-4h0m0 6h0m1-7h0m0 9h0m0-8h0m1 6h0m0-6h0m0 5h0m0-10h0m1 8h0m0-1h0m0 1h0m0-5h0m1 0h0m0-1h0m0 1h0m1 4h0m0-2h0m0 4h0m0-7h0m1 6h0m0 2h0m0-7h0m0 4h0m1 0h0m0-4h0m0 1h0m1 0h0m0 3h0m0 0h0m0-2h0m1 0h0m0-1h0m0 1h0m0 3h0m1 0h0m0-2h0m0 11h0m1-13h0m0 8h0m0-9h0m0 3h0m1 1h0m0-6h0m0 7h0m1-8h0m0 14h0m0-7h0m0-4h0m1 0h0m0 4h0m0-3h0m0-5h0m1 4h0m0-1h0m0 5h0m1-12h0m0 5h0m0 1h0m0 4h0m1-1h0m0 1h0m0-5h0m0 2h0m1-3h0m0 5h0m0-9h0m1 10h0m0-5h0m0 1h0m0 3h0m1 0h0m0-3h0m0 1h0m0 4h0m1-4h0m0 4h0m0-3h0m1 4h0m0-8h0m0 9h0m0-5h0m1 3h0m0 1h0m0-2h0m1-5h0m0 3h0m0-1h0m0 7h0m1-9h0m0 3h0m0 2h0m0-1h0m1-4h0m0 1h0m0 0h0m1 2h0m0-8h0m0 6h0m0 2h0m1-3h0m0-5h0m0 11h0m0-5h0m1-3h0m0 0h0m0 3h0m1 10h0m0-11h0m0 2h0m0 3h0m1-5h0m0-4h0m0 12h0m0-11h0m1 5h0m0-2h0m0 3h0m1-1h0m0 1h0m0 0h0m0-6h0m1 10h0m0-4h0m0-3h0m0 0h0m1 5h0m0-4h0m0 4h0m1-8h0m0 9h0m0-3h0m0-3h0m1-1h0m0 6h0m0-8h0m1 7h0m0-3h0m0 0h0m0 5h0m1-1h0m0-3h0m0-2h0m0 7h0m1-4h0m0 1h0m0-3h0m1-1h0m0 4h0m0 1h0m0-4h0m1 0h0m0 2h0m0-1h0m0-5h0m1 1h0m0 1h0m0-1h0m1-2h0m0 11h0m0-14h0m0 10h0m1-3h0m0-1h0m0-5h0m0 2h0m1 1h0m0 4h0m0-3h0m1-4h0m0 7h0m0 3h0m0-4h0m1-5h0m0 0h0m0 4h0m1-2h0m0 3h0m0-5h0m0 8h0m1-9h0m0 1h0m0 5h0m0-8h0m1 9h0m0-6h0m0 4h0m1-7h0m0 1h0m0 2h0m0 1h0m1-1h0m0 3h0m0-4h0m0-4h0m1 9h0m0-5h0m0 7h0m1-4h0m0 2h0m0 0h0m0-9h0m1 5h0m0-3h0m0-3h0m0-1h0m1 7h0m0 1h0m0-6h0m1 7h0m0 0h0m0-1h0m0-1h0m1-3h0m0-4h0m0 3h0m0-4h0m1-2h0m0 9h0m0-5h0m1 2h0m0-5h0m0 8h0m0-4h0m1-1h0m0 4h0m0-3h0m1-5h0m0 5h0m0-3h0m0 2h0m1 1h0m0-3h0m0 5h0m0-1h0m1-4h0m0 3h0m0 1h0m1-3h0m0-3h0m0 2h0m0-2h0m1 7h0m0-8h0m0 2h0m0 5h0m1-4h0m0 1h0m0-1h0m1 6h0m0-6h0m0 5h0m0-7h0m1 1h0m0 3h0m0 0h0m0 1h0m1-3h0m0 3h0m0-1h0m1 0h0m0 6h0m0-2h0m0-6h0m1-2h0m0 11h0m0-4h0m0-1h0m1-3h0m0 5h0m0-2h0m1-1h0m0-1h0m0 1h0m0 4h0m1-5h0m0 1h0m0 1h0m1 1h0m0 0h0m0-5h0m0-2h0m1 4h0m0-2h0m0 2h0m0 3h0m1 2h0m0-4h0m0 5h0m1-2h0m0 5h0m0-1h0m0-3h0m1 2h0m0-2h0m0 4h0m0-2h0m1 4h0m0-1h0m0-2h0m1-5h0m0 1h0m0 3h0m0 2h0m1 2h0m0-3h0m0 5h0m0-5h0m1-4h0m0 3h0m0 2h0m1-1h0m0-2h0m0-3h0m0 8h0m1 3h0m0-4h0m0 1h0m1-3h0m0 1h0m0 2h0m0 1h0m1 1h0m0-8h0m0 0h0m0 4h0m1 2h0m0-3h0m0 0h0m1 0h0m0 1h0m0-4h0m0 5h0m1-1h0m0-1h0m0 7h0m0-6h0m1-3h0m0 10h0m0-9h0m1-2h0m0 4h0m0-8h0m0 4h0m1-3h0m0 6h0m0 0h0m0 3h0m1-4h0m0-3h0m0-1h0m1-1h0m0 1h0m0 2h0m0-9h0m1 13h0m0-4h0m0-4h0m0 7h0m1-2h0m0-2h0m0 2h0m1-7h0m0 4h0m0-3h0m0 5h0m1 0h0m0 0h0m0-2h0m1-2h0m0 9h0m0-5h0m0-2h0m1 7h0m0-1h0m0-1h0m0-6h0m1 9h0m0-3h0m0-4h0m1 0h0m0 3h0m0-3h0m0 3h0m1 1h0m0 2h0m0-2h0m0 4h0m1-4h0m0 3h0m0 1h0m1-7h0m0 2h0m0-1h0m0 12h0m1-7h0m0-5h0m0 4h0m0-1h0m1 1h0m0-3h0m0 0h0m1 3h0m0 0h0m0 1h0m0-7h0m1 0h0m0 1h0m0 1h0m1-7h0m0 1h0m0 1h0m0 4h0m1-4h0m0 9h0m0-1h0m0 0h0m1 0h0m0-5h0m0 0h0m1-2h0m0 3h0m0-5h0m0 11h0m1-8h0m0 6h0m0-3h0m0 1h0m1-1h0m0 1h0m0-4h0m1 6h0m0 4h0m0-4h0m0-3h0m1 0h0m0 3h0m0 0h0m0 2h0m1-7h0m0 2h0m0 1h0m1 2h0m0-2h0m0 5h0m0-6h0m1 3h0m0-3h0m0 6h0m0-4h0m1 3h0m0 0h0m0 1h0m1-6h0m0-3h0m0 9h0m0 5h0m1-10h0m0 6h0m0-6h0m1-3h0m0-1h0m0 9h0m0 0h0m1-6h0m0 2h0m0-2h0m0 7h0m1-2h0m0-5h0m0 2h0m1 4h0m0-5h0m0 2h0m0 2h0m1-4h0m0-2h0m0 2h0m0 0h0m1 2h0m0 1h0m0-7h0m1 2h0m0 3h0m0 0h0m0 2h0m1 1h0m0-3h0m0-4h0m0 4h0m1-1h0m0-3h0m0 4h0m1-4h0m0 5h0m0-2h0m0-3h0m1 4h0m0-7h0m0 5h0m1-3h0m0-1h0m0-4h0m0 6h0m1-1h0m0 2h0m0-6h0m0 5h0m1 4h0m0-4h0m0-5h0m1-1h0m0 2h0m0 6h0m0-2h0m1-3h0m0-4h0m0 3h0m0 6h0m1-10h0m0 2h0m0 0h0m1 1h0m0 3h0m0-7h0m0 0h0m1 0h0m0-2h0m0 4h0m0-8h0m1 4h0m0-7h0m0 8h0m1 2h0m0-6h0m0 7h0m0-1h0m1 0h0m0 0h0m0 3h0m0-5h0m1 2h0m0-12h0m0 11h0m1 4h0m0-4h0m0-1h0m0-3h0m1 4h0m0 0h0m0 0h0m1 1h0m0 3h0m0-1h0m0-2h0m1 3h0m0-2h0m0-1h0m0 0h0m1 0h0m0-8h0m0 11h0m1-5h0m0 6h0m0-8h0m0 4h0m1 5h0m0-3h0m0-7h0m0 2h0m1 1h0m0 5h0m0-1h0m1 3h0m0-4h0m0 3h0m0-3h0m1-6h0m0 5h0m0 3h0m0-7h0m1 4h0m0-5h0m0 7h0m1-1h0m0-2h0m0-4h0"/>
<path stroke="#008000" stroke-width="8.0" d="M195.5 104.9L197.1 105.0L198.8 105.2L200.4 105.4L202.1 105.6L203.7 105.7L205.4 105.9L207.0 106.1L208.7 106.3L210.3 106.5L212.0 106.6L213.6 106.8L215.3 107.0L216.9 107.2L218.6 107.4L220.2 107.6L221.9 107.7L223.5 107.9L225.2 108.1L226.8 108.3L228.5 108.5L230.1 108.7L231.8 108.9L233.4 109.0L235.1 109.2L236.7 109.4L238.4 109.6L240.0 109.8L241.6 110.0L243.3 110.2L244.9 110.4L246.6 110.6L248.2 110.8L249.9 111.0L251.5 111.1L253.2 111.3L254.8 111.5L256.5 111.7L258.1 111.9L259.8 112.1L261.4 112.3L263.1 112.5L264.7 112.7L266.4 112.9L268.0 113.1L269.7 113.3L271.3 113.5L273.0 113.7L274.6 113.9L276.3 114.1L277.9 114.3L279.6 114.5L281.2 114.7L282.9 114.9L284.5 115.1L286.1 115.3L287.8 115.5L289.4 115.7L291.1 115.9L292.7 116.1L294.4 116.3L296.0 116.5L297.7 116.7L299.3 117.0L301.0 117.2L302.6 117.4L304.3 117.6L305.9 117.8L307.6 118.0L309.2 118.2L310.9 118.4L312.5 118.6L314.2 118.8L315.8 119.1L317.5 119.3L319.1 119.5L320.8 119.7L322.4 119.9L324.1 120.1L325.7 120.3L327.4 120.6L329.0 120.8L330.6 121.0L332.3 121.2L333.9 121.4L335.6 121.6L337.2 121.9L338.9 122.1L340.5 122.3L342.2 122.5L343.8 122.7L345.5 123.0L347.1 123.2L348.8 123.4L350.4 123.6L352.1 123.9L353.7 124.1L355.4 124.3L357.0 124.5L358.7 124.8L360.3 125.0L362.0 125.2L363.6 125.4L365.3 125.7L366.9 125.9L368.6 126.1L370.2 126.4L371.8 126.6L373.5 126.8L375.1 127.0L376.8 127.3L378.4 127.5L380.1 127.7L381.7 128.0L383.4 128.2L385.0 128.4L386.7 128.7L388.3 128.9L390.0 129.1L391.6 129.4L393.3 129.6L394.9 129.9L396.6 130.1L398.2 130.3L399.9 130.6L401.5 130.8L403.2 131.0L404.8 131.3L406.5 131.5L408.1 131.8L409.8 132.0L411.4 132.3L413.1 132.5L414.7 132.7L416.3 133.0L418.0 133.2L419.6 133.5L421.3 133.7L422.9 134.0L424.6 134.2L426.2 134.5L427.9 134.7L429.5 135.0L431.2 135.2L432.8 135.5L434.5 135.7L436.1 136.0L437.8 136.2L439.4 136.5L441.1 136.7L442.7 137.0L444.4 137.2L446.0 137.5L447.7 137.7L449.3 138.0L451.0 138.2L452.6 138.5L454.3 138.8L455.9 139.0L457.6 139.3L459.2 139.5L460.8 139.8L462.5 140.0L464.1 140.3L465.8 140.6L467.4 140.8L469.1 141.1L470.7 141.4L472.4 141.6L474.0 141.9L475.7 142.1L477.3 142.4L479.0 142.7L480.6 142.9L482.3 143.2L483.9 143.5L485.6 143.7L487.2 144.0L488.9 144.3L490.5 144.6L492.2 144.8L493.8 145.1L495.5 145.4L497.1 145.6L498.8 145.9L500.4 146.2L502.1 146.5L503.7 146.7L505.3 147.0L507.0 147.3L508.6 147.6L510.3 147.8L511.9 148.1L513.6 148.4L515.2 148.7L516.9 148.9L518.5 149.2L520.2 149.5L521.8 149.8L523.5 150.1L525.1 150.4L526.8 150.6L528.4 150.9L530.1 151.2L531.7 151.5L533.4 151.8L535.0 152.1L536.7 152.3L538.3 152.6L540.0 152.9L541.6 153.2L543.3 153.5L544.9 153.8L546.6 154.1L548.2 154.4L549.8 154.7L551.5 155.0L553.1 155.3L554.8 155.5L556.4 155.8L558.1 156.1L559.7 156.4L561.4 156.7L563.0 157.0L564.7 157.3L566.3 157.6L568.0 157.9L569.6 158.2L571.3 158.5L572.9 158.8L574.6 159.1L576.2 159.4L577.9 159.7L579.5 160.0L581.2 160.3L582.8 160.7L584.5 161.0L586.1 161.3L587.8 161.6L589.4 161.9L591.1 162.2L592.7 162.5L594.3 162.8L596.0 163.1L597.6 163.4L599.3 163.7L600.9 164.1L602.6 164.4L604.2 164.7L605.9 165.0L607.5 165.3L609.2 165.6L610.8 166.0L612.5 166.3L614.1 166.6L615.8 166.9L617.4 167.2L619.1 167.6L620.7 167.9L622.4 168.2L624.0 168.5L625.7 168.9L627.3 169.2L629.0 169.5L630.6 169.8L632.3 170.2L633.9 170.5L635.5 170.8L637.2 171.1L638.8 171.5L640.5 171.8L642.1 172.1L643.8 172.5L645.4 172.8L647.1 173.1L648.7 173.5L650.4 173.8L652.0 174.2L653.7 174.5L655.3 174.8L657.0 175.2L658.6 175.5L660.3 175.9L661.9 176.2L663.6 176.5L665.2 176.9L666.9 177.2L668.5 177.6L670.2 177.9L671.8 178.3L673.5 178.6L675.1 179.0L676.8 179.3L678.4 179.7L680.0 180.0L681.7 180.4L683.3 180.7L685.0 181.1L686.6 181.4L688.3 181.8L689.9 182.1L691.6 182.5L693.2 182.9L694.9 183.2L696.5 183.6L698.2 183.9L699.8 184.3L701.5 184.7L703.1 185.0L704.8 185.4L706.4 185.8L708.1 186.1L709.7 186.5L711.4 186.9L713.0 187.2L714.7 187.6L716.3 188.0L718.0 188.4L719.6 188.7L721.3 189.1L722.9 189.5L724.5 189.9L726.2 190.2L727.8 190.6L729.5 191.0L731.1 191.4L732.8 191.8L734.4 192.1L736.1 192.5L737.7 192.9L739.4 193.3L741.0 193.7L742.7 194.1L744.3 194.5L746.0 194.9L747.6 195.3L749.3 195.6L750.9 196.0L752.6 196.4L754.2 196.8L755.9 197.2L757.5 197.6L759.2 198.0L760.8 198.4L762.5 198.8L764.1 199.2L765.8 199.6L767.4 200.0L769.0 200.4L770.7 200.9L772.3 201.3L774.0 201.7L775.6 202.1L777.3 202.5L778.9 202.9L780.6 203.3L782.2 203.7L783.9 204.2L785.5 204.6L787.2 205.0L788.8 205.4L790.5 205.8L792.1 206.3L793.8 206.7L795.4 207.1L797.1 207.5L798.7 208.0L800.4 208.4L802.0 208.8L803.7 209.3L805.3 209.7L807.0 210.1L808.6 210.6L810.3 211.0L811.9 211.4L813.5 211.9L815.2 212.3L816.8 212.8L818.5 213.2L820.1 213.7L821.8 214.1L823.4 214.6L825.1 215.0L826.7 215.5L828.4 215.9L830.0 216.4L831.7 216.8L833.3 217.3L835.0 217.7L836.6 218.2L838.3 218.7L839.9 219.1L841.6 219.6L843.2 220.1L844.9 220.5L846.5 221.0L848.2 221.5L849.8 221.9L851.5 222.4L853.1 222.9L854.8 223.4L856.4 223.8L858.0 224.3L859.7 224.8L861.3 225.3L863.0 225.8L864.6 226.3L866.3 226.8L867.9 227.3L869.6 227.7L871.2 228.2L872.9 228.7L874.5 229.2L876.2 229.7L877.8 230.2L879.5 230.7L881.1 231.2L882.8 231.8L884.4 232.3L886.1 232.8L887.7 233.3L889.4 233.8L891.0 234.3L892.7 234.8L894.3 235.4L896.0 235.9L897.6 236.4L899.2 236.9L900.9 237.5L902.5 238.0L904.2 238.5L905.8 239.1L907.5 239.6L909.1 240.1L910.8 240.7L912.4 241.2L914.1 241.8L915.7 242.3L917.4 242.9L919.0 243.4L920.7 244.0L922.3 244.5L924.0 245.1L925.6 245.7L927.3 246.2L928.9 246.8L930.6 247.4L932.2 247.9L933.9 248.5L935.5 249.1L937.2 249.6L938.8 250.2L940.5 250.8L942.1 251.4L943.7 252.0L945.4 252.6L947.0 253.2L948.7 253.8L950.3 254.4L952.0 255.0L953.6 255.6L955.3 256.2L956.9 256.8L958.6 257.4L960.2 258.0L961.9 258.6L963.5 259.2L965.2 259.9L966.8 260.5L968.5 261.1L970.1 261.8L971.8 262.4L973.4 263.0L975.1 263.7L976.7 264.3L978.4 265.0L980.0 265.6L981.7 266.3L983.3 266.9L985.0 267.6L986.6 268.2L988.2 268.9L989.9 269.6L991.5 270.2L993.2 270.9L994.8 271.6L996.5 272.3L998.1 273.0L999.8 273.7L1001.4 274.4L1003.1 275.1L1004.7 275.8L1006.4 276.5L1008.0 277.2L1009.7 277.9L1011.3 278.6L1013.0 279.3L1014.6 280.0L1016.3 280.8L1017.9 281.5L1019.6 282.2L1021.2 283.0L1022.9 283.7L1024.5 284.5L1026.2 285.2L1027.8 286.0L1029.5 286.7L1031.1 287.5L1032.7 288.3L1034.4 289.0L1036.0 289.8L1037.7 290.6L1039.3 291.4L1041.0 292.2L1042.6 293.0L1044.3 293.8L1045.9 294.6L1047.6 295.4L1049.2 296.2L1050.9 297.0L1052.5 297.9L1054.2 298.7L1055.8 299.5L1057.5 300.4L1059.1 301.2L1060.8 302.1L1062.4 302.9L1064.1 303.8L1065.7 304.7L1067.4 305.5L1069.0 306.4L1070.7 307.3L1072.3 308.2L1074.0 309.1L1075.6 310.0L1077.2 310.9L1078.9 311.8L1080.5 312.8L1082.2 313.7L1083.8 314.6L1085.5 315.6L1087.1 316.5L1088.8 317.5L1090.4 318.5L1092.1 319.4L1093.7 320.4L1095.4 321.4L1097.0 322.4L1098.7 323.4L1100.3 324.4L1102.0 325.4L1103.6 326.4L1105.3 327.5L1106.9 328.5L1108.6 329.5L1110.2 330.6L1111.9 331.7L1113.5 332.7L1115.2 333.8L1116.8 334.9L1118.4 336.0L1120.1 337.1L1121.7 338.2L1123.4 339.4L1125.0 340.5L1126.7 341.6L1128.3 342.8L1130.0 343.9L1131.6 345.1L1133.3 346.3L1134.9 347.5L1136.6 348.7L1138.2 349.9L1139.9 351.1L1141.5 352.4L1143.2 353.6L1144.8 354.9L1146.5 356.2L1148.1 357.4L1149.8 358.7L1151.4 360.0L1153.1 361.4L1154.7 362.7L1156.4 364.0L1158.0 365.4L1159.7 366.8L1161.3 368.1L1162.9 369.5L1164.6 370.9L1166.2 372.4L1167.9 373.8L1169.5 375.2L1171.2 376.7L1172.8 378.2L1174.5 379.7L1176.1 381.2L1177.8 382.7L1179.4 384.3L1181.1 385.8L1182.7 387.4L1184.4 389.0L1186.0 390.6L1187.7 392.2L1189.3 393.8L1191.0 395.5L1192.6 397.1L1194.3 398.8L1195.9 400.5L1197.6 402.2L1199.2 404.0L1200.9 405.7L1202.5 407.5L1204.2 409.3L1205.8 411.1L1207.4 412.9L1209.1 414.8L1210.7 416.6L1212.4 418.5L1214.0 420.4L1215.7 422.3L1217.3 424.2L1219.0 426.2L1220.6 428.1L1222.3 430.1L1223.9 432.1L1225.6 434.1L1227.2 436.1L1228.9 438.1L1230.5 440.1L1232.2 442.2L1233.8 444.2L1235.5 446.3L1237.1 448.3L1238.8 450.4L1240.4 452.4L1242.1 454.5L1243.7 456.6L1245.4 458.6L1247.0 460.6L1248.7 462.7L1250.3 464.7L1251.9 466.6L1253.6 468.6L1255.2 470.5L1256.9 472.4L1258.5 474.2L1260.2 476.0L1261.8 477.7L1263.5 479.4L1265.1 481.0L1266.8 482.6L1268.4 484.0L1270.1 485.4L1271.7 486.6L1273.4 487.8L1275.0 488.8L1276.7 489.8L1278.3 490.6L1280.0 491.3L1281.6 491.9L1283.3 492.3L1284.9 492.6L1286.6 492.7L1288.2 492.7L1289.9 492.6L1291.5 492.3L1293.2 491.9L1294.8 491.4L1296.4 490.7L1298.1 489.9L1299.7 489.0L1301.4 487.9L1303.0 486.8L1304.7 485.5L1306.3 484.1L1308.0 482.7L1309.6 481.1L1311.3 479.5L1312.9 477.8L1314.6 476.1L1316.2 474.3L1317.9 472.4L1319.5 470.5L1321.2 468.6L1322.8 466.6L1324.5 464.6L1326.1 462.6L1327.8 460.6L1329.4 458.5L1331.1 456.5L1332.7 454.4L1334.4 452.4L1336.0 450.3L1337.7 448.2L1339.3 446.2L1340.9 444.1L1342.6 442.1L1344.2 440.1L1345.9 438.1L1347.5 436.1L1349.2 434.1L1350.8 432.1L1352.5 430.2L1354.1 428.3L1355.8 426.4L1357.4 424.5L1359.1 422.7L1360.7 420.8L1362.4 419.0L1364.0 417.2L1365.7 415.5L1367.3 413.8L1369.0 412.1L1370.6 410.4L1372.3 408.7L1373.9 407.1L1375.6 405.5L1377.2 403.9L1378.9 402.4L1380.5 400.8L1382.1 399.3L1383.8 397.8L1385.4 396.3L1387.1 394.9L1388.7 393.4L1390.4 392.0L1392.0 390.5L1393.7 389.1L1395.3 387.6L1397.0 386.2L1398.6 384.8L1400.3 383.4L1401.9 381.9L1403.6 380.5L1405.2 379.0L1406.9 377.6L1408.5 376.1L1410.2 374.6L1411.8 373.2L1413.5 371.7L1415.1 370.2L1416.8 368.8L1418.4 367.3L1420.1 365.8L1421.7 364.3L1423.4 362.9L1425.0 361.4L1426.6 360.0L1428.3 358.5L1429.9 357.1L1431.6 355.7L1433.2 354.2L1434.9 352.8L1436.5 351.5L1438.2 350.1L1439.8 348.7L1441.5 347.4L1443.1 346.1L1444.8 344.7L1446.4 343.4L1448.1 342.2L1449.7 340.9L1451.4 339.7L1453.0 338.4L1454.7 337.2L1456.3 336.0L1458.0 334.8L1459.6 333.6L1461.3 332.5L1462.9 331.3L1464.6 330.2L1466.2 329.1L1467.9 328.0L1469.5 326.9L1471.1 325.8L1472.8 324.7L1474.4 323.6L1476.1 322.6L1477.7 321.5L1479.4 320.5L1481.0 319.5L1482.7 318.5L1484.3 317.5L1486.0 316.5L1487.6 315.5L1489.3 314.6L1490.9 313.6L1492.6 312.6L1494.2 311.7L1495.9 310.8L1497.5 309.9L1499.2 308.9L1500.8 308.0L1502.5 307.1L1504.1 306.2L1505.8 305.3L1507.4 304.5L1509.1 303.6L1510.7 302.7L1512.4 301.9L1514.0 301.0L1515.6 300.2L1517.3 299.3L1518.9 298.5L1520.6 297.7L1522.2 296.8L1523.9 296.0L1525.5 295.2L1527.2 294.4L1528.8 293.6L1530.5 292.8L1532.1 292.0L1533.8 291.2L1535.4 290.4L1537.1 289.7L1538.7 288.9L1540.4 288.1L1542.0 287.4L1543.7 286.6L1545.3 285.8L1547.0 285.1L1548.6 284.3L1550.3 283.6L1551.9 282.9L1553.6 282.1L1555.2 281.4L1556.9 280.7L1558.5 279.9L1560.1 279.2L1561.8 278.5L1563.4 277.8L1565.1 277.1L1566.7 276.4L1568.4 275.7L1570.0 275.0L1571.7 274.3L1573.3 273.6L1575.0 272.9L1576.6 272.2L1578.3 271.6L1579.9 270.9L1581.6 270.2L1583.2 269.6L1584.9 268.9L1586.5 268.2L1588.2 267.6L1589.8 266.9L1591.5 266.3L1593.1 265.6L1594.8 265.0L1596.4 264.3L1598.1 263.7L1599.7 263.1L1601.4 262.4L1603.0 261.8L1604.6 261.2L1606.3 260.5L1607.9 259.9L1609.6 259.3L1611.2 258.7L1612.9 258.1L1614.5 257.5L1616.2 256.9L1617.8 256.3L1619.5 255.7L1621.1 255.1L1622.8 254.5L1624.4 253.9L1626.1 253.3L1627.7 252.7L1629.4 252.1L1631.0 251.5L1632.7 251.0L1634.3 250.4L1636.0 249.8L1637.6 249.2L1639.3 248.7L1640.9 248.1L1642.6 247.5L1644.2 247.0L1645.9 246.4L1647.5 245.8L1649.1 245.3L1650.8 244.7L1652.4 244.2L1654.1 243.6L1655.7 243.1L1657.4 242.5L1659.0 242.0L1660.7 241.5L1662.3 240.9L1664.0 240.4L1665.6 239.9L1667.3 239.3L1668.9 238.8L1670.6 238.3L1672.2 237.7L1673.9 237.2L1675.5 236.7L1677.2 236.2L1678.8 235.7L1680.5 235.2L1682.1 234.6L1683.8 234.1L1685.4 233.6L1687.1 233.1L1688.7 232.6L1690.3 232.1L1692.0 231.6L1693.6 231.1L1695.3 230.6L1696.9 230.1L1698.6 229.6L1700.2 229.1L1701.9 228.6L1703.5 228.1L1705.2 227.7L1706.8 227.2L1708.5 226.7L1710.1 226.2L1711.8 225.7L1713.4 225.2L1715.1 224.8L1716.7 224.3L1718.4 223.8L1720.0 223.3L1721.7 222.9L1723.3 222.4L1725.0 221.9L1726.6 221.5L1728.3 221.0L1729.9 220.5L1731.6 220.1L1733.2 219.6L1734.8 219.2L1736.5 218.7L1738.1 218.3L1739.8 217.8L1741.4 217.4L1743.1 216.9L1744.7 216.5L1746.4 216.0L1748.0 215.6L1749.7 215.1L1751.3 214.7L1753.0 214.2L1754.6 213.8L1756.3 213.4L1757.9 212.9L1759.6 212.5L1761.2 212.0L1762.9 211.6L1764.5 211.2L1766.2 210.8L1767.8 210.3L1769.5 209.9L1771.1 209.5L1772.8 209.0L1774.4 208.6L1776.1 208.2L1777.7 207.8L1779.3 207.4L1781.0 206.9L1782.6 206.5L1784.3 206.1L1785.9 205.7L1787.6 205.3L1789.2 204.9L1790.9 204.5L1792.5 204.0L1794.2 203.6L1795.8 203.2L1797.5 202.8L1799.1 202.4L1800.8 202.0L1802.4 201.6L1804.1 201.2L1805.7 200.8L1807.4 200.4L1809.0 200.0L1810.7 199.6L1812.3 199.2L1814.0 198.8L1815.6 198.4L1817.3 198.0L1818.9 197.7L1820.6 197.3L1822.2 196.9L1823.8 196.5L1825.5 196.1L1827.1 195.7L1828.8 195.3L1830.4 194.9L1832.1 194.6L1833.7 194.2L1835.4 193.8L1837.0 193.4L1838.7 193.0L1840.3 192.7L1842.0 192.3L1843.6 191.9L1845.3 191.5L1846.9 191.2L1848.6 190.8L1850.2 190.4L1851.9 190.1L1853.5 189.7L1855.2 189.3L1856.8 188.9L1858.5 188.6L1860.1 188.2L1861.8 187.9L1863.4 187.5L1865.1 187.1L1866.7 186.8L1868.3 186.4L1870.0 186.0L1871.6 185.7L1873.3 185.3L1874.9 185.0L1876.6 184.6L1878.2 184.3L1879.9 183.9L1881.5 183.6L1883.2 183.2L1884.8 182.9L1886.5 182.5L1888.1 182.2L1889.8 181.8L1891.4 181.5L1893.1 181.1L1894.7 180.8L1896.4 180.4L1898.0 180.1L1899.7 179.7L1901.3 179.4L1903.0 179.1L1904.6 178.7L1906.3 178.4L1907.9 178.0L1909.5 177.7L1911.2 177.4L1912.8 177.0L1914.5 176.7L1916.1 176.4L1917.8 176.0L1919.4 175.7L1921.1 175.4L1922.7 175.0L1924.4 174.7L1926.0 174.4L1927.7 174.0L1929.3 173.7L1931.0 173.4L1932.6 173.1L1934.3 172.7L1935.9 172.4L1937.6 172.1L1939.2 171.8L1940.9 171.4L1942.5 171.1L1944.2 170.8L1945.8 170.5L1947.5 170.2L1949.1 169.8L1950.8 169.5L1952.4 169.2L1954.0 168.9L1955.7 168.6L1957.3 168.3L1959.0 168.0L1960.6 167.6L1962.3 167.3L1963.9 167.0L1965.6 166.7L1967.2 166.4L1968.9 166.1L1970.5 165.8L1972.2 165.5L1973.8 165.2L1975.5 164.9L1977.1 164.6L1978.8 164.2L1980.4 163.9L1982.1 163.6L1983.7 163.3L1985.4 163.0L1987.0 162.7L1988.7 162.4L1990.3 162.1L1992.0 161.8L1993.6 161.5L1995.3 161.2L1996.9 160.9L1998.5 160.6L2000.2 160.4L2001.8 160.1L2003.5 159.8L2005.1 159.5L2006.8 159.2L2008.4 158.9L2010.1 158.6L2011.7 158.3L2013.4 158.0L2015.0 157.7L2016.7 157.4L2018.3 157.1L2020.0 156.9L2021.6 156.6L2023.3 156.3L2024.9 156.0L2026.6 155.7L2028.2 155.4L2029.9 155.2L2031.5 154.9L2033.2 154.6L2034.8 154.3L2036.5 154.0L2038.1 153.7L2039.8 153.5L2041.4 153.2L2043.0 152.9L2044.7 152.6L2046.3 152.4L2048.0 152.1L2049.6 151.8L2051.3 151.5L2052.9 151.3L2054.6 151.0L2056.2 150.7L2057.9 150.4L2059.5 150.2L2061.2 149.9L2062.8 149.6L2064.5 149.4L2066.1 149.1L2067.8 148.8L2069.4 148.6L2071.1 148.3L2072.7 148.0L2074.4 147.8L2076.0 147.5L2077.7 147.2L2079.3 147.0L2081.0 146.7L2082.6 146.4L2084.3 146.2L2085.9 145.9L2087.5 145.6L2089.2 145.4L2090.8 145.1L2092.5 144.9L2094.1 144.6L2095.8 144.4L2097.4 144.1L2099.1 143.8L2100.7 143.6L2102.4 143.3L2104.0 143.1L2105.7 142.8L2107.3 142.6L2109.0 142.3L2110.6 142.1L2112.3 141.8L2113.9 141.6L2115.6 141.3L2117.2 141.1L2118.9 140.8L2120.5 140.6L2122.2 140.3L2123.8 140.1L2125.5 139.8L2127.1 139.6L2128.8 139.3L2130.4 139.1L2132.0 138.8L2133.7 138.6L2135.3 138.3L2137.0 138.1L2138.6 137.9L2140.3 137.6L2141.9 137.4L2143.6 137.1L2145.2 136.9L2146.9 136.7L2148.5 136.4L2150.2 136.2L2151.8 135.9L2153.5 135.7L2155.1 135.5L2156.8 135.2L2158.4 135.0L2160.1 134.8L2161.7 134.5L2163.4 134.3L2165.0 134.1L2166.7 133.8L2168.3 133.6L2170.0 133.4L2171.6 133.1L2173.2 132.9L2174.9 132.7L2176.5 132.4L2178.2 132.2L2179.8 132.0L2181.5 131.8L2183.1 131.5L2184.8 131.3L2186.4 131.1L2188.1 130.9L2189.7 130.6L2191.4 130.4L2193.0 130.2L2194.7 130.0L2196.3 129.7L2198.0 129.5L2199.6 129.3L2201.3 129.1L2202.9 128.8L2204.6 128.6L2206.2 128.4L2207.9 128.2L2209.5 128.0L2211.2 127.8L2212.8 127.5L2214.5 127.3L2216.1 127.1L2217.7 126.9L2219.4 126.7L2221.0 126.5L2222.7 126.2L2224.3 126.0L2226.0 125.8L2227.6 125.6L2229.3 125.4L2230.9 125.2L2232.6 125.0L2234.2 124.8L2235.9 124.6L2237.5 124.3L2239.2 124.1L2240.8 123.9L2242.5 123.7L2244.1 123.5L2245.8 123.3L2247.4 123.1L2249.1 122.9L2250.7 122.7L2252.4 122.5L2254.0 122.3L2255.7 122.1L2257.3 121.9L2259.0 121.7L2260.6 121.5L2262.2 121.3L2263.9 121.1L2265.5 120.9L2267.2 120.7L2268.8 120.5L2270.5 120.3L2272.1 120.1L2273.8 119.9L2275.4 119.7L2277.1 119.5L2278.7 119.3L2280.4 119.1L2282.0 118.9L2283.7 118.7L2285.3 118.5L2287.0 118.3L2288.6 118.1L2290.3 117.9L2291.9 117.8L2293.6 117.6L2295.2 117.4L2296.9 117.2L2298.5 117.0L2300.2 116.8L2301.8 116.6L2303.5 116.4L2305.1 116.2L2306.7 116.1L2308.4 115.9L2310.0 115.7L2311.7 115.5L2313.3 115.3L2315.0 115.1L2316.6 114.9L2318.3 114.8L2319.9 114.6L2321.6 114.4L2323.2 114.2L2324.9 114.0L2326.5 113.9L2328.2 113.7L2329.8 113.5L2331.5 113.3L2333.1 113.1L2334.8 113.0L2336.4 112.8L2338.1 112.6L2339.7 112.4L2341.4 112.3L2343.0 112.1L2344.7 111.9L2346.3 111.7L2348.0 111.6L2349.6 111.4L2351.2 111.2L2352.9 111.0L2354.5 110.9L2356.2 110.7L2357.8 110.5L2359.5 110.4L2361.1 110.2L2362.8 110.0L2364.4 109.9L2366.1 109.7L2367.7 109.5L2369.4 109.4L2371.0 109.2L2372.1 109.1"/>
</g>
<g clip-path="url(#c2)" fill="none" stroke-linecap="round" stroke-linejoin="round" stroke-width="8.8">
<path stroke="#f00" d="M196 2029h0m0 3h0m0-4h0m0 0h0m1 10h0m0-2h0m0-6h0m0 1h0m1 2h0m0 2h0m0-1h0m1-9h0m0 6h0m0 0h0m0 4h0m1-1h0m0-12h0m0 6h0m0 9h0m1-9h0m0 0h0m0 4h0m1 10h0m0-16h0m0 2h0m0 2h0m1 1h0m0 1h0m0-2h0m0 6h0m1-9h0m0 0h0m0-6h0m1 2h0m0 4h0m0 5h0m0-7h0m1 5h0m0-4h0m0 5h0m0-10h0m1 8h0m0-5h0m0 2h0m1-1h0m0 6h0m0 0h0m0-4h0m1 4h0m0 4h0m0-5h0m1 1h0m0-1h0m0 4h0m0 1h0m1-9h0m0-2h0m0 6h0m0 3h0m1-6h0m0 6h0m0-3h0m1 0h0m0 3h0m0 1h0m0-8h0m1 4h0m0-9h0m0 6h0m0-2h0m1 0h0m0 9h0m0-1h0m1 0h0m0 1h0m0-6h0m0-1h0m1-1h0m0 1h0m0 4h0m0-1h0m1-5h0m0 8h0m0-1h0m1 2h0m0 3h0m0-11h0m0 8h0m1-5h0m0 5h0m0-3h0m0 8h0m1-9h0m0 8h0m0-8h0m1 3h0m0-2h0m0-4h0m0 5h0m1-2h0m0-6h0m0 4h0m1 2h0m0-4h0m0 2h0m0 2h0m1 4h0m0 0h0m0-6h0m0 9h0m1-9h0m0 4h0m0 2h0m1-10h0m0 2h0m0 2h0m0 3h0m1-2h0m0 4h0m0-10h0m0-2h0m1 4h0m0 6h0m0 2h0m1-4h0m0 0h0m0 1h0m0-2h0m1 0h0m0 2h0m0-5h0m0-2h0m1 14h0m0-3h0m0-2h0m1 0h0m0 3h0m0-7h0m0 1h0m1 3h0m0-5h0m0 9h0m1-4h0m0-5h0m0 4h0m0-2h0m1 0h0m0 1h0m0 3h0m0-1h0m1-5h0m0 6h0m0-4h0m1-6h0m0 9h0m0-8h0m0 5h0m1 5h0m0 1h0m0-6h0m0-1h0m1 2h0m0-7h0m0 16h0m1-12h0m0 9h0m0-6h0m0 5h0m1 3h0m0-5h0m0 6h0m0-12h0m1 6h0m0-6h0m0-2h0m1 3h0m0-2h0m0 1h0m0 5h0m1-4h0m0 0h0m0 1h0m0-3h0m1 12h0m0-3h0m0 0h0m1-9h0m0 1h0m0 1h0m0 1h0m1-2h0m0 0h0m0 7h0m1-3h0m0 2h0m0 1h0m0-8h0m1-2h0m0 12h0m0-5h0m0 4h0m1-7h0m0 3h0m0-3h0m1-3h0m0 2h0m0-8h0m0 11h0m1-3h0m0 3h0m0 6h0m0-3h0m1-5h0m0 7h0m0-5h0m1 6h0m0-9h0m0 6h0m0 3h0m1-7h0m0-1h0m0 4h0m0-6h0m1-4h0m0 11h0m0 1h0m1 1h0m0-5h0m0-1h0m0 2h0m1-5h0m0-3h0m0 3h0m1 10h0m0-8h0m0-8h0m0 6h0m1 5h0m0-1h0m0 0h0m0-6h0m1 6h0m0 4h0m0-6h0m1 7h0m0-9h0m0 6h0m0-3h0m1 4h0m0-4h0m0 7h0m0-10h0m1 3h0m0-2h0m0 5h0m1-7h0m0 4h0m0-1h0m0-3h0m1 7h0m0-6h0m0 7h0m0-3h0m1 9h0m0-12h0m0-1h0m1 3h0m0 3h0m0-3h0m0 3h0m1 0h0m0-3h0m0-10h0m0 12h0m1 0h0m0-2h0m0-4h0m1 1h0m0 3h0m0-1h0m0 2h0m1-1h0m0 1h0m0-4h0m1 8h0m0-9h0m0-6h0m0 16h0m1-8h0m0 5h0m0-4h0m0 4h0m1-7h0m0 8h0m0-2h0m1-2h0m0 7h0m0 0h0m0-7h0m1 5h0m0 4h0m0-14h0m0 5h0m1 0h0m0 3h0m0-1h0m1 5h0m0-15h0m0 5h0m0 2h0m1 7h0m0-1h0m0-4h0m0 2h0m1 0h0m0-4h0m0 4h0m1-3h0m0 10h0m0-3h0m0-6h0m1 4h0m0 6h0m0-10h0m0-4h0m1 6h0m0 4h0m0-12h0m1 6h0m0-3h0m0 4h0m0-7h0m1 1h0m0 17h0m0-15h0m1 0h0m0 6h0m0-8h0m0 8h0m1 2h0m0-2h0m0-6h0m0-1h0m1 11h0m0-6h0m0 4h0m1-2h0m0-5h0m0 2h0m0-5h0m1 4h0m0-4h0m0 10h0m0-2h0m1 2h0m0 0h0m0-6h0m1-2h0m0 0h0m0 8h0m0-3h0m1-1h0m0 4h0m0-10h0m0 4h0m1 7h0m0-13h0m0 3h0m1 10h0m0-6h0m0-10h0m0 6h0m1 12h0m0-5h0m0-2h0m1-3h0m0 0h0m0 3h0m0-6h0m1 15h0m0-7h0m0-3h0m0-4h0m1 0h0m0 14h0m0-9h0m1 7h0m0-15h0m0 4h0m0 6h0m1-2h0m0 16h0m0-18h0m0 5h0m1-5h0m0 2h0m0-4h0m1 9h0m0-6h0m0 2h0m0 3h0m1-1h0m0-2h0m0-2h0m0 7h0m1-4h0m0 0h0m0-2h0m1-4h0m0 1h0m0 16h0m0-9h0m1-9h0m0-1h0m0 1h0m0 0h0m1-2h0m0 8h0m0-9h0m1 4h0m0 1h0m0 0h0m0 2h0m1 2h0m0 0h0m0 4h0m1 0h0m0-2h0m0-10h0m0 0h0m1 8h0m0 0h0m0-3h0m0 3h0m1-3h0m0-9h0m0 11h0m1 2h0m0 6h0m0 1h0m0-11h0m1 5h0m0-3h0m0 2h0m0-7h0m1-2h0m0 9h0m0-1h0m1-10h0m0 11h0m0-7h0m0 4h0m1 2h0m0-4h0m0 1h0m0 4h0m1-7h0m0 10h0m0-13h0m1 3h0m0 8h0m0-11h0m0 10h0m1-3h0m0-3h0m0 4h0m1-2h0m0 4h0m0 0h0m0 0h0m1-2h0m0-2h0m0-2h0m0 5h0m1-4h0m0 4h0m0-6h0m1 4h0m0-8h0m0 15h0m0 0h0m1-4h0m0-4h0m0 5h0m0-3h0m1-9h0m0 4h0m0 5h0m1 0h0m0-3h0m0 0h0m0 6h0m1-6h0m0 7h0m0-1h0m0-4h0m1 11h0m0-8h0m0 4h0m1-1h0m0-9h0m0 2h0m0-6h0m1 11h0m0-2h0m0-8h0m0 4h0m1 3h0m0 7h0m0-12h0m1 2h0m0-1h0m0 9h0m0-3h0m1-9h0m0 7h0m0 2h0m1 0h0m0-1h0m0-1h0m0-6h0m1-8h0m0 17h0m0-3h0m0 6h0m1-14h0m0 13h0m0 4h0m1-10h0m0-4h0m0 8h0m0-6h0m1 0h0m0 5h0m0-1h0m0-1h0m1 4h0m0-5h0m0-3h0m1 3h0m0-5h0m0 3h0m0 1h0m1-1h0m0 3h0m0 0h0m0 2h0m1-2h0m0 1h0m0-6h0m1 9h0m0-7h0m0-1h0m0 12h0m1-13h0m0 8h0m0-7h0m1 14h0m0-14h0m0 6h0m0 1h0m1 3h0m0 3h0m0-7h0m0 0h0m1 5h0m0-13h0m0 6h0m1-3h0m0-4h0m0 7h0m0-2h0m1-1h0m0 2h0m0 2h0m0 2h0m1-10h0m0 6h0m0 2h0m1-4h0m0 2h0m0 2h0m0-1h0m1 4h0m0-6h0m0-1h0m0 1h0m1 1h0m0-4h0m0 8h0m1 4h0m0-6h0m0-4h0m0-2h0m1 7h0m0-3h0m0 2h0m0-1h0m1-2h0m0 0h0m0 5h0m1-6h0m0 0h0m0 7h0m0-9h0m1 13h0m0-8h0m0-2h0m1-7h0m0 14h0m0-9h0m0-1h0m1 3h0m0 9h0m0-12h0m0 0h0m1 8h0m0-6h0m0 0h0m1 0h0m0 5h0m0-2h0m0-5h0m1 9h0m0-4h0m0 4h0m0 4h0m1-8h0m0-7h0m0 11h0m1-4h0m0-1h0m0 1h0m0 6h0m1-8h0m0 8h0m0-2h0m0-5h0m1 2h0m0 2h0m0-8h0m1-1h0m0 10h0m0-8h0m0-4h0m1 6h0m0-3h0m0 9h0m0-12h0m1 11h0m0 1h0m0-11h0m1 5h0m0 9h0m0-11h0m0 12h0m1-2h0m0-13h0m0 7h0m1 6h0m0-6h0m0-3h0m0-11h0m1 15h0m0 5h0m0-9h0m0 5h0m1 0h0m0 1h0m0-9h0m1 16h0m0-13h0m0 2h0m0-6h0m1 7h0m0 2h0m0 7h0m0-11h0m1-6h0m0 8h0m0 0h0m1 1h0m0-3h0m0 0h0m0-2h0m1 3h0m0 7h0m0-8h0m0 6h0m1-6h0m0 3h0m0-6h0m1 8h0m0-4h0m0 3h0m0-6h0m1-2h0m0 7h0m0 4h0m1-9h0m0 4h0m0 5h0m0-8h0m1 3h0m0 3h0m0-1h0m0-1h0m1 0h0m0-2h0m0 1h0m1 5h0m0-9h0m0 3h0m0 4h0m1-2h0m0-2h0m0 8h0m0-14h0m1-1h0m0 12h0m0-8h0m1 13h0m0-13h0m0 6h0m0-2h0m1-7h0m0 15h0m0-8h0m0 4h0m1-6h0m0-2h0m0 10h0m1-6h0m0-2h0m0 2h0m0-7h0m1 14h0m0-8h0m0 0h0m0-5h0m1 8h0m0-6h0m0 1h0m1 6h0m0 5h0m0-5h0m0-11h0m1 7h0m0-3h0m0 10h0m1-8h0m0 3h0m0-1h0m0 5h0m1-1h0m0-6h0m0 11h0m0-12h0m1 2h0m0-1h0m0 0h0m1-4h0m0 8h0m0-2h0m0 2h0m1-2h0m0 0h0m0 13h0m0-17h0m1 2h0m0-8h0m0 7h0m1 17h0m0-7h0m0-4h0m0-5h0m1 5h0m0 6h0m0-14h0m0 8h0m1 2h0m0 3h0m0-12h0m1 6h0m0 7h0m0-15h0m0 6h0m1-5h0m0 4h0m0 4h0m1-3h0m0-3h0m0 5h0m0 5h0m1-9h0m0-3h0m0 6h0m0-9h0m1 6h0m0 5h0m0-9h0m1 4h0m0 8h0m0-7h0m0 10h0m1-7h0m0-10h0m0 4h0m0 7h0m1 2h0m0-4h0m0 4h0m1-4h0m0-10h0m0 12h0m0-2h0m1 3h0m0-4h0m0 4h0m0-3h0m1-3h0m0 1h0m0 3h0m1 1h0m0 8h0m0-6h0m0-10h0m1 5h0m0 1h0m0 0h0m0-2h0m1-7h0m0 2h0m0 13h0m1-3h0m0-5h0m0 6h0m0-3h0m1-1h0m0-4h0m0 5h0m1 4h0m0 0h0m0 0h0m0-3h0m1-8h0m0 2h0m0 6h0m0 4h0m1-6h0m0 0h0m0-1h0m1-13h0m0 5h0m0 14h0m0-3h0m1-9h0m0 8h0m0-11h0m0 4h0m1 5h0m0 2h0m0-5h0m1 1h0m0 6h0m0-2h0m0-8h0m1 14h0m0-6h0m0-6h0m0 1h0m1 0h0m0 8h0m0-9h0m1 7h0m0-3h0m0-6h0m0 9h0m1-7h0m0-3h0m0 7h0m0 0h0m1 9h0m0-16h0m0 4h0m1 9h0m0 5h0m0-9h0m0 0h0m1 1h0m0-5h0m0-1h0m1 12h0m0-10h0m0 9h0m0-5h0m1-6h0m0-3h0m0 0h0m0 0h0m1 4h0m0 8h0m0-10h0m1 2h0m0 0h0m0 11h0m0-13h0m1 6h0m0-9h0m0 9h0m0 6h0m1-3h0m0-3h0m0 2h0m1-5h0m0 4h0m0 5h0m0-3h0m1-1h0m0-7h0m0 0h0m0-1h0m1 10h0m0-9h0m0 13h0m1-3h0m0-5h0m0-1h0m0 1h0m1-9h0m0 4h0m0 0h0m1 1h0m0-3h0m0 0h0m0-2h0m1 2h0m0 3h0m0 6h0m0-3h0m1 3h0m0-6h0m0 1h0m1 4h0m0 3h0m0-4h0m0-1h0m1 0h0m0-4h0m0 9h0m0-11h0m1 13h0m0-3h0m0 0h0m1-5h0m0 4h0m0-12h0m0 2h0m1 4h0m0-4h0m0 4h0m0-1h0m1 0h0m0 5h0m0-6h0m1 2h0m0-1h0m0 8h0m0-5h0m1-1h0m0 1h0m0-7h0m0 6h0m1 6h0m0-3h0m0-6h0m1-8h0m0 9h0m0 2h0m0 4h0m1 0h0m0-8h0m0 7h0m1 10h0m0-15h0m0 11h0m0-13h0m1 9h0m0-10h0m0 6h0m0-4h0m1 13h0m0-13h0m0 18h0m1-17h0m0 4h0m0-1h0m0-6h0m1 10h0m0 4h0m0-13h0m0 11h0m1-10h0m0-6h0m0 10h0m1 2h0m0 1h0m0-4h0m0 13h0m1-11h0m0 5h0m0-9h0m0 3h0m1 3h0m0-1h0m0-11h0m1 12h0m0 8h0m0-13h0m0 1h0m1 1h0m0-1h0m0 2h0m1 2h0m0 1h0m0-13h0m0 16h0m1 2h0m0-10h0m0 2h0m0 0h0m1-1h0m0-9h0m0 8h0m1 8h0m0 5h0m0-18h0m0 8h0m1-7h0m0 5h0m0-5h0m0-3h0m1 3h0m0 0h0m0 8h0m1-4h0m0-6h0m0 0h0m0 1h0m1 8h0m0-4h0m0 5h0m0-4h0m1-1h0m0-4h0m0 13h0m1-10h0m0-1h0m0 9h0m0-8h0m1 5h0m0 3h0m0-10h0m0 8h0m1-14h0m0 16h0m0-2h0m1 0h0m0-6h0m0-1h0m0 3h0m1 15h0m0-21h0m0 4h0m1 8h0m0-6h0m0 1h0m0 8h0m1-10h0m0 4h0m0-5h0m0 4h0m1-4h0m0 14h0m0-12h0m1-9h0m0 8h0m0 2h0m0-9h0m1 10h0m0 5h0m0-8h0m0 13h0m1-2h0m0-6h0m0-3h0m1-5h0m0 4h0m0-2h0m0 4h0m1-1h0m0 7h0m0-12h0m0 2h0m1 9h0m0-6h0m0 0h0m1 6h0m0 6h0m0-9h0m0-1h0m1-8h0m0 10h0m0 0h0m1 4h0m0-7h0m0 3h0m0-2h0m1 0h0m0-5h0m0 2h0m0 3h0m1 13h0m0-19h0m0 9h0m1-3h0m0 0h0m0-3h0m0 12h0m1-1h0m0-9h0m0-3h0m0-1h0m1 4h0m0 6h0m0-1h0m1-6h0m0-3h0m0 1h0m0-4h0m1 1h0m0 2h0m0 5h0m0-2h0m1-2h0m0 5h0m0-13h0m1 5h0m0 6h0m0-4h0m0-2h0m1 9h0m0-1h0m0-9h0m0 3h0m1 1h0m0-6h0m0 13h0m1-15h0m0 15h0m0-2h0m0-8h0m1 11h0m0-8h0m0 5h0m1-8h0m0 4h0m0 0h0m0 0h0m1-12h0m0 17h0m0-6h0m0 0h0m1-2h0m0-4h0m0 8h0m1-2h0m0 16h0m0-16h0m0-1h0m1 1h0m0 2h0m0 8h0m0-1h0m1-18h0m0 13h0m0-11h0m1 13h0m0-11h0m0 9h0m0-8h0m1 5h0m0 0h0m0 9h0m0-20h0m1 10h0m0 11h0m0-1h0m1-4h0m0-2h0m0 1h0m0 1h0m1-3h0m0-3h0m0-1h0m0 3h0m1-1h0m0-2h0m0 5h0m1-2h0m0-7h0m0 3h0m0 7h0m1-5h0m0 9h0m0-7h0m1 4h0m0 1h0m0-2h0m0 4h0m1-20h0m0 17h0m0-3h0m0-20h0m1 14h0m0 2h0m0 0h0m1 4h0m0-6h0m0 5h0m0-2h0m1 11h0m0-12h0m0 2h0m0 2h0m1-1h0m0 4h0m0-4h0m1-2h0m0 5h0m0-7h0m0 4h0m1 5h0m0-11h0m0 8h0m0 5h0m1 1h0m0-9h0m0 11h0m1-5h0m0 0h0m0-1h0m0-4h0m1 5h0m0-7h0m0 11h0m1-5h0m0 0h0m0-2h0m0 2h0m1 5h0m0-4h0m0-1h0m0-7h0m1-3h0m0 4h0m0 14h0m1-16h0m0 4h0m0 2h0m0 5h0m1-12h0m0 5h0m0 13h0m0-14h0m1 3h0m0 0h0m0-2h0m1-3h0m0 19h0m0-14h0m0-1h0m1 0h0m0 3h0m0-4h0m0-3h0m1 1h0m0 19h0m0-10h0m1 3h0m0-5h0m0 4h0m0-4h0m1-10h0m0 17h0m0-16h0m0 5h0m1 12h0m0 7h0m0-13h0m1 2h0m0-19h0m0 25h0m0-9h0m1-9h0m0-14h0m0 10h0m1-2h0m0 27h0m0-19h0m0-6h0m1 8h0m0-3h0m0 9h0m0-10h0m1 16h0m0-17h0m0 3h0m1 1h0m0-1h0m0-10h0m0 11h0m1 4h0m0-9h0m0 9h0m0-3h0m1 10h0m0-4h0m0-8h0m1 6h0m0-11h0m0 4h0m0 8h0m1-17h0m0 27h0m0-10h0m0 0h0m1-16h0m0 14h0m0-5h0m1-9h0m0 10h0m0-5h0m0 9h0m1 7h0m0-5h0m0 4h0m1-16h0m0 0h0m0-2h0m0 13h0m1-1h0m0-11h0m0 14h0m0-6h0m1 6h0m0-8h0m0 6h0m1-7h0m0 5h0m0-2h0m0-1h0m1-2h0m0-3h0m0 13h0m0-1h0m1-9h0m0-5h0m0 13h0m1-12h0m0 17h0m0-8h0m0 3h0m1-6h0m0 4h0m0-10h0m0-2h0m1 20h0m0-11h0m0-5h0m1 8h0m0-7h0m0-6h0m0 6h0m1 7h0m0 8h0m0-11h0m0-4h0m1-5h0m0 9h0m0 5h0m1-10h0m0-6h0m0 14h0m0-3h0m1 8h0m0-3h0m0-13h0m1-1h0m0 13h0m0 10h0m0-11h0m1-4h0m0 2h0m0 4h0m0 0h0m1-5h0m0 6h0m0-6h0m1-3h0m0 3h0m0 16h0m0-21h0m1 4h0m0-6h0m0 11h0m0-9h0m1 2h0m0 6h0m0-1h0m1 0h0m0 1h0m0-2h0m0 1h0m1-10h0m0 15h0m0-1h0m0-12h0m1 8h0m0 7h0m0-10h0m1 2h0m0 4h0m0 0h0m0-9h0m1 8h0m0 1h0m0-8h0m1-1h0m0 13h0m0-8h0m0 2h0m1-8h0m0 8h0m0-10h0m0 6h0m1-2h0m0 0h0m0-1h0m1-7h0m0 11h0m0 5h0m0 5h0m1-9h0m0-6h0m0 4h0m0 13h0m1-18h0m0 18h0m0-10h0m1 1h0m0-6h0m0 17h0m0-14h0m1 0h0m0 5h0m0-15h0m0 1h0m1 17h0m0 1h0m0-9h0m1-13h0m0 12h0m0-9h0m0 21h0m1-13h0m0 8h0m0-14h0m0 15h0m1-2h0m0-2h0m0 9h0m1-1h0m0-21h0m0 8h0m0 1h0m1-4h0m0 11h0m0-16h0m1 9h0m0-5h0m0-3h0m0 18h0m1-2h0m0-24h0m0 21h0m0-11h0m1 18h0m0-8h0m0 8h0m1-12h0m0 3h0m0-5h0m0 7h0m1-1h0m0 5h0m0-9h0m0 13h0m1 2h0m0-25h0m0 9h0m1 1h0m0-6h0m0 8h0m0 1h0m1-5h0m0 8h0m0-9h0m0-4h0m1 7h0m0 3h0m0 6h0m1-10h0m0 3h0m0 2h0m0-6h0m1 8h0m0-5h0m0 2h0m0-4h0m1 22h0m0-36h0m0 15h0m1-1h0m0 5h0m0 9h0m0-5h0m1-11h0m0 8h0m0 4h0m1-4h0m0-4h0m0 1h0m0-2h0m1 2h0m0 2h0m0-3h0m0 7h0m1-9h0m0 10h0m0 3h0m1-1h0m0-7h0m0-8h0m0 10h0m1-4h0m0-11h0m0 21h0m0 1h0m1-7h0m0-7h0m0 9h0m1 1h0m0-22h0m0 3h0m0 6h0m1 13h0m0-7h0m0 1h0m0-1h0m1 6h0m0-2h0m0-10h0m1 10h0m0-5h0m0 11h0m0 0h0m1-18h0m0 12h0m0 5h0m1-12h0m0 9h0m0-4h0m0 4h0m1 3h0m0 1h0m0-12h0m0 2h0m1-3h0m0-4h0m0 10h0m1 0h0m0-11h0m0 17h0m0-22h0m1 2h0m0 11h0m0 8h0m0-1h0m1 8h0m0-13h0m0 2h0m1-5h0m0-25h0m0 16h0m0 8h0m1-3h0m0 15h0m0-15h0m0 13h0m1-11h0m0 11h0m0 6h0m1-5h0m0-3h0m0-8h0m0-9h0m1 21h0m0-3h0m0-17h0m0 17h0m1-9h0m0 8h0m0-4h0m1-12h0m0 14h0m0 0h0m0 1h0m1-17h0m0 18h0m0-9h0m1 2h0m0 8h0m0-11h0m0 15h0m1 5h0m0-22h0m0 5h0m0-3h0m1 3h0m0 3h0m0 5h0m1-8h0m0 9h0m0-9h0m0 1h0m1 1h0m0 7h0m0-5h0m0-2h0m1-3h0m0 3h0m0 2h0m1 9h0m0-12h0m0-6h0m0 5h0m1 0h0m0 3h0m0-6h0m0 0h0m1-12h0m0 28h0m0-17h0m1 10h0m0-1h0m0-12h0m0 9h0m1 3h0m0 7h0m0-4h0m1-22h0m0 10h0m0 2h0m0 20h0m1-24h0m0 23h0m0-13h0m0-3h0m1-4h0m0 17h0m0-15h0m1 7h0m0-6h0m0-6h0m0-5h0m1 14h0m0-4h0m0-6h0m0-6h0m1 15h0m0-10h0m0 13h0m1 9h0m0 2h0m0-2h0m0-14h0m1 11h0m0-11h0m0 5h0m0-9h0m1 9h0m0 9h0m0-6h0m1-15h0m0 7h0m0-2h0m0-6h0m1 0h0m0 25h0m0-7h0m0-21h0m1 5h0m0 15h0m0-11h0m1-4h0m0 5h0m0-5h0m0 3h0m1 6h0m0 6h0m0-2h0m1-15h0m0 19h0m0-10h0m0-4h0m1 9h0m0-15h0m0 19h0m0-13h0m1 11h0m0 6h0m0-19h0m1 8h0m0-2h0m0 2h0m0 4h0m1-9h0m0-3h0m0 4h0m0-6h0m1 8h0m0-10h0m0 29h0m1-33h0m0 8h0m0 14h0m0 1h0m1-4h0m0-12h0m0 25h0m0-15h0m1 8h0m0-7h0m0-20h0m1 8h0m0 16h0m0-6h0m0-11h0m1 5h0m0 12h0m0-13h0m0 6h0m1 2h0m0 11h0m0-27h0m1 12h0m0 15h0m0-14h0m0-1h0m1 5h0m0 4h0m0-9h0m1-2h0m0 5h0m0 0h0m0-10h0m1 12h0m0-1h0m0-12h0m0 18h0m1-18h0m0-13h0m0 29h0m1 4h0m0-7h0m0-6h0m0 20h0m1-32h0m0 11h0m0-1h0m0 3h0m1-3h0m0 6h0m0-8h0m1 17h0m0 1h0m0-11h0m0 4h0m1-8h0m0 18h0m0-3h0m0-17h0m1 2h0m0 6h0m0 8h0m1-3h0m0-11h0m0 16h0m0-10h0m1-18h0m0 18h0m0-1h0m1 6h0m0-3h0m0-17h0m0 30h0m1-22h0m0 13h0m0 3h0m0-9h0m1-6h0m0 14h0m0-11h0m1 10h0m0-11h0m0-9h0m0 11h0m1-4h0m0 0h0m0-11h0m0 29h0m1-29h0m0 16h0m0-7h0m1 12h0m0-3h0m0-1h0m0-4h0m1-8h0m0 16h0m0-7h0m0 10h0m1-7h0m0-5h0m0 10h0m1-9h0m0 1h0m0 8h0m0-3h0m1 4h0m0-9h0m0 13h0m0-15h0m1 2h0m0-3h0m0-2h0m1 6h0m0 0h0m0-3h0m0-8h0m1 9h0m0 4h0m0 11h0m1-15h0m0-8h0m0 13h0m0 15h0m1-17h0m0-3h0m0 9h0m0-4h0m1-3h0m0 2h0m0-3h0m1-2h0m0 7h0m0 12h0m0-22h0m1-5h0m0 15h0m0 14h0m0-9h0m1 2h0m0-21h0m0 22h0m1-29h0m0 21h0m0-13h0m0 8h0m1 12h0m0 2h0m0-15h0m0 7h0m1-3h0m0-3h0m0-4h0m1 18h0m0-14h0m0 8h0m0-15h0m1 8h0m0 7h0m0-16h0m1 17h0m0-2h0m0-12h0m0 10h0m1-14h0m0 16h0m0-7h0m0 3h0m1 6h0m0-4h0m0-10h0m1 0h0m0 6h0m0 2h0m0 11h0m1-10h0m0-4h0m0-1h0m0 8h0m1-8h0m0 7h0m0-12h0m1 10h0m0-11h0m0 12h0m0 3h0m1 1h0m0-2h0m0-2h0m0-4h0m1-11h0m0 15h0m0-1h0m1-4h0m0 4h0m0 8h0m0-14h0m1 0h0m0 7h0m0-6h0m0 0h0m1-7h0m0 4h0m0 0h0m1 7h0m0 7h0m0-2h0m0-2h0m1 1h0m0-15h0m0 23h0m1 6h0m0-28h0m0 16h0m0-19h0m1 21h0m0-6h0m0 6h0m0-9h0m1 8h0m0-22h0m0 18h0m1-8h0m0-12h0m0 22h0m0-7h0m1 14h0m0-4h0m0-14h0m0 9h0m1-21h0m0 16h0m0 16h0m1-15h0m0-3h0m0-14h0m0 2h0m1 20h0m0-17h0m0 26h0m0-11h0m1 16h0m0-26h0m0 15h0m1-17h0m0 21h0m0-28h0m0 15h0m1 0h0m0 7h0m0 5h0m1-23h0m0 11h0m0-1h0m0-24h0m1 43h0m0-22h0m0 23h0m0-14h0m1-6h0m0 16h0m0-4h0m1-24h0m0 9h0m0 8h0m0 8h0m1-20h0m0 11h0m0 13h0m0-21h0m1 5h0m0-15h0m0 11h0m1 4h0m0-17h0m0 22h0m0 14h0m1-7h0m0-21h0m0 15h0m0 0h0m1-12h0m0 16h0m0-6h0m1-6h0m0 7h0m0-11h0m0 13h0m1-22h0m0 15h0m0-5h0m0-5h0m1 9h0m0 4h0m0-19h0m1 5h0m0 17h0m0 9h0m0-19h0m1 2h0m0 3h0m0 2h0m1-5h0m0 2h0m0 5h0m0-24h0m1 15h0m0 13h0m0-20h0m0 15h0m1 9h0m0-5h0m0-8h0m1 4h0m0-10h0m0 2h0m0 9h0m1 5h0m0-29h0m0 17h0m0 0h0m1 7h0m0 7h0m0-2h0m1-23h0m0 27h0m0-10h0m0 2h0m1-10h0m0-9h0m0 22h0m0-13h0m1-4h0m0 15h0m0-11h0m1 4h0m0-2h0m0 14h0m0-29h0m1 19h0m0 1h0m0-9h0m0 6h0m1 6h0m0 5h0m0-3h0m1-3h0m0 0h0m0-35h0m0 29h0m1-1h0m0-4h0m0 6h0m1 11h0m0-21h0m0 14h0m0-1h0m1 4h0m0 0h0m0 2h0m0-15h0m1-5h0m0 29h0m0-31h0m1 3h0m0-2h0m0 20h0m0 0h0m1-6h0m0-1h0m0-15h0m0 19h0m1-19h0m0 27h0m0-14h0m1 10h0m0-6h0m0 4h0m0-16h0m1 11h0m0 3h0m0-20h0m0 30h0m1-12h0m0-4h0m0 5h0m1-2h0m0-11h0m0 17h0m0-7h0m1-1h0m0-1h0m0 8h0m1 19h0m0-35h0m0 5h0m0 2h0m1 6h0m0 8h0m0-20h0m0 12h0m1 2h0m0-13h0m0 20h0m1-19h0m0 15h0m0-4h0m0-12h0m1 9h0m0-15h0m0 27h0m0-17h0m1 7h0m0-3h0m0-3h0m1-1h0m0 7h0m0 1h0m0-4h0m1 5h0m0-17h0m0 18h0m0-5h0m1 14h0m0-10h0m0 5h0m1-18h0m0 11h0m0-7h0m0 4h0m1 5h0m0-9h0m0 4h0m0-4h0m1 0h0m0 2h0m0-13h0m1 18h0m0-6h0m0 2h0m0 0h0m1 7h0m0 10h0m0-14h0m1-8h0m0 6h0m0 11h0m0-16h0m1 18h0m0-26h0m0 23h0m0-17h0m1 11h0m0-8h0m0 7h0m1-21h0m0 18h0m0 11h0m0 0h0m1-16h0m0 5h0m0-12h0m0 19h0m1 7h0m0 0h0m0-8h0m1 2h0m0 0h0m0-11h0m0 8h0m1-5h0m0-1h0m0 7h0m0-15h0m1 6h0m0-2h0m0 10h0m1-6h0m0 23h0m0-18h0m0 2h0m1-13h0m0 22h0m0-11h0m1 9h0m0-2h0m0 5h0m0-11h0m1 4h0m0-12h0m0-4h0m0 17h0m1 0h0m0 1h0m0-14h0m1-4h0m0 7h0m0 15h0m0-9h0m1-15h0m0 9h0m0-5h0m0 6h0m1 11h0m0-10h0m0 10h0m1-7h0m0-7h0m0 8h0m0-4h0m1 3h0m0-9h0m0 2h0m0-25h0m1 48h0m0-19h0m0 16h0m1-31h0m0 26h0m0-23h0m0 24h0m1 3h0m0-21h0m0-4h0m0 6h0m1-13h0m0 15h0m0 19h0m1-21h0m0 5h0m0 17h0m0-42h0m1 38h0m0 6h0m0-30h0m1-10h0m0 23h0m0-6h0m0-7h0m1 9h0m0-8h0m0 6h0m0 6h0m1 0h0m0-3h0m0 13h0m1-18h0m0 19h0m0-25h0m0-5h0m1 15h0m0 0h0m0-9h0m0 7h0m1-6h0m0 7h0m0 9h0m1 4h0m0-6h0m0 4h0m0-14h0m1 18h0m0-2h0m0 3h0m0-13h0m1-4h0m0-7h0m0 8h0m1-5h0m0-3h0m0 16h0m0 5h0m1-7h0m0 7h0m0-16h0m1 3h0m0 24h0m0-28h0m0 6h0m1 1h0m0-3h0m0 6h0m0-10h0m1 2h0m0 6h0m0 1h0m1-3h0m0 25h0m0-35h0m0 22h0m1-1h0m0-23h0m0 5h0m0-3h0m1-3h0m0-4h0m0 5h0m1-2h0m0 4h0m0 9h0m0 6h0m1 7h0m0-46h0m0 51h0m0-28h0m1 10h0m0-18h0m0 17h0m1 10h0m0-22h0m0 10h0m0-2h0m1 2h0m0-2h0m0 2h0m0-6h0m1 14h0m0-13h0m0 7h0m1 17h0m0-13h0m0-5h0m0 23h0m1-13h0m0 22h0m0-30h0m1 5h0m0-5h0m0 7h0m0-19h0m1 18h0m0-35h0m0 51h0m0-17h0m1-14h0m0 20h0m0-26h0m1-8h0m0 13h0m0 13h0m0-14h0m1 41h0m0-31h0m0 10h0m0-3h0m1-6h0m0 19h0m0 6h0m1-19h0m0 4h0m0 8h0m0-18h0m1 1h0m0-6h0m0 30h0m0-14h0m1-1h0m0 7h0m0-9h0m1 7h0m0-19h0m0 13h0m0-27h0m1 20h0m0-22h0m0 29h0m0 2h0m1 5h0m0-30h0m0 15h0m1-7h0m0 14h0m0-7h0m0-16h0m1 23h0m0 8h0m0 11h0m1-9h0m0-2h0m0-3h0m0-14h0m1 21h0m0-30h0m0 27h0m0-15h0m1 17h0m0-13h0m0-7h0m1-3h0m0-12h0m0 15h0m0 1h0m1 5h0m0-11h0m0-1h0m0 16h0m1-13h0m0 11h0m0 2h0m1-2h0m0-1h0m0-1h0m0-18h0m1 19h0m0-12h0m0 19h0m0-25h0m1 12h0m0 11h0m0-10h0m1 31h0m0-22h0m0 2h0m0-26h0m1 6h0m0 25h0m0-4h0m1-20h0m0 6h0m0 15h0m0-23h0m1 14h0m0-4h0m0 10h0m0-10h0m1-6h0m0 6h0m0-33h0m1 46h0m0 14h0m0-28h0m0-27h0m1 34h0m0-8h0m0-13h0m0 24h0m1-20h0m0 29h0m0-44h0m1 7h0m0 17h0m0-6h0m0 29h0m1-5h0m0 8h0m0-10h0m0-1h0m1-2h0m0-7h0m0-10h0m1 13h0m0-8h0m0-7h0m0 3h0m1 27h0m0-7h0m0-24h0m0 32h0m1-23h0m0-8h0m0-2h0m1 19h0m0-17h0m0 16h0m0-3h0m1 21h0m0-21h0m0-17h0m1 38h0m0-13h0m0-22h0m0 0h0m1 4h0m0-1h0m0 28h0m0-29h0m1 22h0m0-19h0m0 31h0m1-33h0m0-4h0m0 12h0m0-17h0m1 12h0m0-15h0m0 42h0m0-20h0m1-2h0m0-6h0m0 12h0m1-15h0m0 35h0m0-34h0m0-3h0m1-6h0m0 28h0m0-15h0m0 10h0m1-13h0m0 24h0m0-26h0m1 10h0m0-2h0m0 16h0m0-15h0m1 14h0m0-28h0m0-12h0m1 33h0m0-18h0m0 16h0m0-8h0m1-12h0m0 2h0m0-6h0m0-6h0m1 30h0m0-3h0m0-18h0m1 3h0m0 7h0m0 18h0m0-4h0m1 2h0m0 4h0m0-14h0m0-2h0m1 8h0m0-18h0m0-6h0m1 9h0m0 7h0m0 12h0m0 2h0m1-29h0m0 34h0m0-37h0m0 36h0m1-25h0m0 23h0m0-24h0m1 23h0m0-30h0m0 0h0m0 27h0m1-8h0m0-2h0m0 5h0m0-20h0m1 18h0m0-1h0m0-11h0m1 6h0m0-9h0m0-3h0m0 19h0m1 5h0m0-4h0m0-30h0m1 3h0m0 27h0m0-15h0m0-10h0m1 14h0m0 19h0m0-1h0m0-9h0m1 20h0m0-8h0m0 12h0m1-31h0m0 34h0m0-10h0m0 3h0m1-21h0m0-17h0m0 22h0m0 19h0m1-26h0m0 11h0m0 7h0m1-14h0m0-24h0m0 24h0m0-25h0m1 38h0m0-8h0m0 6h0m0-25h0m1-1h0m0 24h0m0 14h0m1-13h0m0-9h0m0 12h0m0 6h0m1-41h0m0 29h0m0-28h0m0 16h0m1 14h0m0-20h0m0 6h0m1 16h0m0-33h0m0 9h0m0 7h0m1 30h0m0-12h0m0-34h0m1 38h0m0-20h0m0 0h0m0 16h0m1-26h0m0 12h0m0-11h0m0 27h0m1 9h0m0-24h0m0-3h0m1 15h0m0-2h0m0-31h0m0 20h0m1-7h0m0-19h0m0 32h0m0-30h0m1 35h0m0-2h0m0 11h0m1-13h0m0 4h0m0-25h0m0 11h0m1-4h0m0 7h0m0 3h0m0-14h0m1 25h0m0 6h0m0-8h0m1-12h0m0-24h0m0 1h0m0 42h0m1-13h0m0-4h0m0 11h0m1-3h0m0-8h0m0 3h0m0 0h0m1 12h0m0-21h0m0 3h0m0 22h0m1-41h0m0 19h0m0 6h0m1-33h0m0 21h0m0 57h0m0-51h0m1 19h0m0-6h0m0-8h0m0 11h0m1-14h0m0 5h0m0 4h0m1-3h0m0 19h0m0-22h0m0 7h0m1-11h0m0 30h0m0-27h0m0-12h0m1 7h0m0 33h0m0-48h0m1 11h0m0 23h0m0-24h0m0 4h0m1-9h0m0 0h0m0 12h0m0 7h0m1 15h0m0-22h0m0 10h0m1 15h0m0-58h0m0 27h0m0-3h0m1 37h0m0-7h0m0-24h0m1 7h0m0 8h0m0-19h0m0-9h0m1 15h0m0 14h0m0-19h0m0 4h0m1 21h0m0-17h0m0 23h0m1-9h0m0 10h0m0-18h0m0-20h0m1-8h0m0 9h0m0 18h0m0-25h0m1 27h0m0-1h0m0 29h0m1-59h0m0 12h0m0-3h0m0 19h0m1-10h0m0 35h0m0-36h0m0-5h0m1 31h0m0-8h0m0-23h0m1 33h0m0-11h0m0 3h0m0-31h0m1 19h0m0-13h0m0 34h0m1-35h0m0 11h0m0 13h0m0 10h0m1 9h0m0-66h0m0-6h0m0 38h0m1-16h0m0 11h0m0 0h0m1 5h0m0 6h0m0 3h0m0-6h0m1-1h0m0-27h0m0 40h0m0-25h0m1 5h0m0 8h0m0 25h0m1-34h0m0-4h0m0 16h0m0 21h0m1-17h0m0 4h0m0-28h0m0 3h0m1 5h0m0 35h0m0-25h0m1 26h0m0-21h0m0-5h0m0-7h0m1 19h0m0-35h0m0 53h0m0-24h0m1 0h0m0-39h0m0 68h0m1-18h0m0-1h0m0-24h0m0 18h0m1-35h0m0 36h0m0-16h0m1 20h0m0 1h0m0-28h0m0 12h0m1 25h0m0 2h0m0-7h0m0-9h0m1-17h0m0 15h0m0-1h0m1 23h0m0-44h0m0 35h0m0-30h0m1 33h0m0-56h0m0 72h0m0-36h0m1-24h0m0 1h0m0 30h0m1-19h0m0-2h0m0 50h0m0-47h0m1 6h0m0 0h0m0-20h0m0 36h0m1-3h0m0-15h0m0 47h0m1-56h0m0 35h0m0-15h0m0-22h0m1 35h0m0-38h0m0 2h0m1 25h0m0-15h0m0-7h0m0 7h0m1-21h0m0-14h0m0 53h0m0-52h0m1 24h0m0-26h0m0 58h0m1 39h0m0-61h0m0 14h0m0 2h0m1-26h0m0 54h0m0-67h0m0 24h0m1 19h0m0-22h0m0 24h0m1-40h0m0 16h0m0 47h0m0-67h0m1 32h0m0 23h0m0-4h0m0 5h0m1-14h0m0 3h0m0 32h0m1-64h0m0 5h0m0 24h0m0 1h0m1-28h0m0-16h0m0 26h0m0 29h0m1-23h0m0-12h0m0 19h0m1-31h0m0 47h0m0-1h0m0-30h0m1-11h0m0 30h0m0 2h0m1-13h0m0-3h0m0-13h0m0 22h0m1-25h0m0 3h0m0 32h0m0-22h0m1 2h0m0-13h0m0 2h0m1-9h0m0-8h0m0 54h0m0-41h0m1-24h0m0 31h0m0 31h0m0 8h0m1-48h0m0 32h0m0 13h0m1-4h0m0 5h0m0-47h0m0 7h0m1-24h0m0 42h0m0-26h0m0 31h0m1-22h0m0 33h0m0 9h0m1-22h0m0-31h0m0 49h0m0-10h0m1-35h0m0 18h0m0 15h0m0-17h0m1 22h0m0 22h0m0-27h0m1-8h0m0 21h0m0-16h0m0 6h0m1-45h0m0 82h0m0-59h0m1-2h0m0 26h0m0-43h0m0 60h0m1 2h0m0-21h0m0-39h0m0 29h0m1-23h0m0 22h0m0-14h0m1 22h0m0 5h0m0-27h0m0 14h0m1-15h0m0-18h0m0 49h0m0-2h0m1-2h0m0-4h0m0 21h0m1-15h0m0-33h0m0 39h0m0-49h0m1 16h0m0 0h0m0 26h0m0-13h0m1-18h0m0 48h0m0-41h0m1 16h0m0-9h0m0-7h0m0 23h0m1-15h0m0-16h0m0-11h0m1 42h0m0 14h0m0-11h0m0-21h0m1 14h0m0 14h0m0-11h0m0-12h0m1-37h0m0 35h0m0-8h0m1 41h0m0-36h0m0-5h0m0-4h0m1-9h0m0 20h0m0 25h0m0-2h0m1-30h0m0 0h0m0 11h0m1-14h0m0 4h0m0 48h0m0-18h0m1 5h0m0-6h0m0 17h0m0-34h0m1 38h0m0-20h0m0-36h0m1 9h0m0-13h0m0 22h0m0-16h0m1 37h0m0-48h0m0 51h0m0 18h0m1-18h0m0-23h0m0 17h0m1-47h0m0 40h0m0-21h0m0 21h0m1 1h0m0-1h0m0-6h0m1-48h0m0 7h0m0 49h0m0-54h0m1 30h0m0 30h0m0-46h0m0-10h0m1 48h0m0-36h0m0 14h0m1-1h0m0 15h0m0-14h0m0 19h0m1-76h0m0 42h0m0 19h0m0 13h0m1 31h0m0-17h0m0 5h0m1-53h0m0-15h0m0 72h0m0-6h0m1-97h0m0 89h0m0-71h0m0 38h0m1-13h0m0 6h0m0 14h0m1 21h0m0-16h0m0 41h0m0-4h0m1-44h0m0 6h0m0-5h0m1 39h0m0-10h0m0-74h0m0 13h0m1 66h0m0-16h0m0 9h0m0-21h0m1 28h0m0-4h0m0 4h0m1 11h0m0 1h0m0-39h0m0-9h0m1 18h0m0-50h0m0 57h0m0 22h0m1 12h0m0-41h0m0 8h0m1 12h0m0-34h0m0-22h0m0-3h0m1 64h0m0-6h0m0-12h0m0 31h0m1-37h0m0-58h0m0 52h0m1-12h0m0-14h0m0 34h0m0 3h0m1-32h0m0-16h0m0 38h0m0 0h0m1 0h0m0 21h0m0-32h0m1-19h0m0 31h0m0 1h0m0-5h0m1 6h0m0 2h0m0 27h0m1 28h0m0-74h0m0 38h0m0-13h0m1-9h0m0-2h0m0 36h0m0-21h0m1-19h0m0 27h0m0 5h0m1-15h0m0 54h0m0-94h0m0 54h0m1-78h0m0 119h0m0-74h0m0 54h0m1-87h0m0 85h0m0-46h0m1 28h0m0-3h0m0-47h0m0 26h0m1 37h0m0-53h0m0 73h0m0-44h0m1-44h0m0 45h0m0-21h0m1 19h0m0-28h0m0 42h0m0 25h0m1-26h0m0-38h0m0 37h0m1-80h0m0 78h0m0-29h0m0-32h0m1 31h0m0 21h0m0-2h0m0 46h0m1-73h0m0 12h0m0 57h0m1-47h0m0 6h0m0 15h0m0-24h0m1 21h0m0-29h0m0 9h0m0 55h0m1-101h0m0 60h0m0-42h0m1 45h0m0 22h0m0-26h0m0 42h0m1-23h0m0-20h0m0 24h0m0-49h0m1 22h0m0-13h0m0-11h0m1-109h0m0 180h0m0-132h0m0 127h0m1-101h0m0 80h0m0-46h0m0 28h0m1-29h0m0 57h0m0-91h0m1 62h0m0-28h0m0 58h0m0-25h0m1-12h0m0-25h0m0 32h0m1 10h0m0-21h0m0 3h0m0-5h0m1-8h0m0-76h0m0 39h0m0 115h0m1-81h0m0-6h0m0 69h0m1-59h0m0-36h0m0 71h0m0 25h0m1-46h0m0-29h0m0 16h0m0 71h0m1-44h0m0-14h0m0 49h0m1-61h0m0 11h0m0-6h0m0-16h0m1-29h0m0 55h0m0-34h0m0 6h0m1 65h0m0-41h0m0-27h0m1-4h0m0 75h0m0-11h0m0-79h0m1-25h0m0 110h0m0-33h0m0-45h0m1 8h0m0 38h0m0-12h0m1 65h0m0-67h0m0 65h0m0-5h0m1 0h0m0-54h0m0 16h0m1 39h0m0-22h0m0-59h0m0-32h0m1 48h0m0 47h0m0-71h0m0 49h0m1-38h0m0 128h0m0-62h0m1-97h0m0 37h0m0-13h0m0-37h0m1 192h0m0-86h0m0-50h0m0 35h0m1-51h0m0 72h0m0-8h0m1-81h0m0 107h0m0-43h0m0-79h0m1 17h0m0 88h0m0-8h0m0-43h0m1-89h0m0 168h0m0-77h0m1 32h0m0-61h0m0 99h0m0-45h0m1 0h0m0-87h0m0 62h0m1-30h0m0 10h0m0 44h0m0-111h0m1 12h0m0 21h0m0 76h0m0 96h0m1-88h0m0-13h0m0-63h0m1-66h0m0 166h0m0-64h0m0 116h0m1-34h0m0-86h0m0 79h0m0-9h0m1-105h0m0 123h0m0-48h0m1 36h0m0-33h0m0 47h0m0-46h0m1-17h0m0-61h0m0 80h0m0 53h0m1-51h0m0-219h0m0 231h0m1-47h0m0 11h0m0-48h0m0 89h0m1-38h0m0-11h0m0 69h0m0-59h0m1-31h0m0-17h0m0 59h0m1 18h0m0-7h0m0-64h0m0 68h0m1 35h0m0-82h0m0-23h0m1 105h0m0 6h0m0-78h0m0-20h0m1 27h0m0-47h0m0 129h0m0-98h0m1 77h0m0 18h0m0-46h0m1-108h0m0 154h0m0-139h0m0 29h0m1 90h0m0-28h0m0-30h0m0 17h0m1-54h0m0 135h0m0-116h0m1 55h0m0 2h0m0-29h0m0-41h0m1 12h0m0 11h0m0 8h0m0-30h0m1 104h0m0-87h0m0 35h0m1 109h0m0-67h0m0 2h0m0-11h0m1-3h0m0-132h0m0 137h0m1 49h0m0-149h0m0 141h0m0-45h0m1 72h0m0-436h0m0 363h0m0 32h0m1-24h0m0-62h0m0-60h0m1 127h0m0 19h0m0-73h0m0-22h0m1-19h0m0-63h0m0 217h0m0-20h0m1-36h0m0 35h0m0-23h0m1-26h0m0-80h0m0 167h0m0-129h0m1 54h0m0 4h0m0-82h0m0-22h0m1 18h0m0-60h0m0 91h0m1-128h0m0 122h0m0 40h0m0-179h0m1 227h0m0-17h0m0-48h0m0 66h0m1-132h0m0 90h0m0-52h0m1 4h0m0-79h0m0 138h0m0-96h0m1 58h0m0-8h0m0-94h0m1 167h0m0-41h0m0 26h0m0 5h0m1-65h0m0 59h0m0-60h0m0-66h0m1 118h0m0 39h0m0-31h0m1 22h0m0-98h0m0-10h0m0-756h0m1 164h0m0 577h0m0 33h0m0-79h0m1 8h0m0-619h0m0 704h0m1-31h0m0 121h0m0-101h0m0 117h0m1-86h0m0-70h0m0 66h0m0 75h0m1 9h0m0-136h0m0 124h0m1-43h0m0-31h0m0 98h0m0-65h0m1 27h0m0 2h0m0-81h0m0 92h0m1-102h0m0 78h0m0-14h0m1-107h0m0 79h0m0-124h0m0 155h0m1-81h0m0 92h0m0-200h0m1 137h0m0-55h0m0-74h0m0 281h0m1-117h0m0-802h0m0 670h0m0 233h0m1-132h0m0 42h0m0 66h0m1-97h0m0 89h0m0-44h0m0 69h0m1-14h0m0-18h0m0-5h0m0-35h0m1 67h0m0-77h0m0 104h0m1-128h0m0 71h0m0-25h0m0 23h0m1-201h0m0 147h0m0-122h0m0 233h0m1 5h0m0-970h0m0 560h0m1-553h0m0 786h0m0-644h0m0 590h0m1-94h0m0-601h0m0 0h0m1 895h0m0 21h0m0-85h0m0-59h0m1 62h0m0-94h0m0-20h0m0 99h0m1-65h0m0-83h0m0 225h0m1-113h0m0 54h0m0 87h0m0-90h0m1 2h0m0-694h0m0 36h0m0 597h0m1-818h0m0 752h0m0 228h0m1-52h0m0-59h0m0 126h0m0-33h0m1-416h0m0 370h0m0-861h0m0 825h0m1-857h0m0 907h0m0 12h0m1-18h0m0-177h0m0 220h0m0-332h0m1-423h0m0 600h0m0 176h0m0-901h0m1 690h0m0 127h0m0-811h0m1 893h0m0-901h0m0 99h0m0 802h0m1-40h0m0-866h0m0-81h0m1 932h0m0-805h0m0 402h0m0 458h0m1-80h0m0-436h0m0 483h0m0-403h0m1 422h0m0 1h0m0-20h0m1-675h0m0 604h0m0-343h0m0 359h0m1 58h0m0 14h0m0-620h0m0-67h0m1-128h0m0 707h0m0 37h0m1-870h0m0-6h0m0 196h0m0-124h0m1 377h0m0 97h0m0 394h0m0-61h0m1-877h0m0 970h0m0-872h0m1 170h0m0 633h0m0-864h0m0-23h0m1 172h0m0-209h0m0 26h0m1 821h0m0-785h0m0 902h0m0-951h0m1 103h0m0-54h0m0 657h0m0-595h0m1 784h0m0-884h0m0 821h0m1-797h0m0 905h0m0-835h0m0-65h0m1 78h0m0-66h0m0 779h0m0-632h0m1-135h0m0 881h0m0-940h0m1 879h0m0 66h0m0-887h0m0 78h0m1 325h0m0 416h0m0 81h0m0-959h0m1 127h0m0-84h0m0 909h0m1-965h0m0 54h0m0 89h0m0 6h0m1-104h0m0 753h0m0-733h0m0 12h0m1 78h0m0-20h0m0 28h0m1-142h0m0 763h0m0-697h0m0 649h0m1-702h0m0 110h0m0 80h0m1-143h0m0 7h0m0 6h0m0 195h0m1 556h0m0-525h0m0-221h0m0 67h0m1-120h0m0 51h0m0 7h0m1 226h0m0 530h0m0-684h0m0 49h0m1-160h0m0 129h0m0-187h0m0 34h0m1 124h0m0-83h0m0 67h0m1-107h0m0 62h0m0-35h0m0 167h0m1-89h0m0 213h0m0-221h0m0 65h0m1-128h0m0-17h0m0 86h0m1-43h0m0 107h0m0-72h0m0 59h0m1 0h0m0-111h0m0 263h0m1-245h0m0-34h0m0 155h0m0-133h0m1-11h0m0-2h0m0-30h0m0 404h0m1-348h0m0 195h0m0-248h0m1 181h0m0-137h0m0 65h0m0-15h0m1 95h0m0 14h0m0-70h0m0 77h0m1-212h0m0 808h0m0-757h0m1 135h0m0-64h0m0-108h0m0 87h0m1 28h0m0-117h0m0 120h0m0-33h0m1 108h0m0-151h0m0 174h0m1-284h0m0 925h0m0-746h0m0-12h0m1-37h0m0 95h0m0-39h0m0 795h0m1-727h0m0-129h0m0 108h0m1-27h0m0-59h0m0 3h0m0 140h0m1-133h0m0-155h0m0 249h0m1-165h0m0 65h0m0 5h0m0 122h0m1 709h0m0-751h0m0-56h0m0-72h0m1 186h0m0-136h0m0 824h0m1-739h0m0-163h0m0 83h0m0 68h0m1-10h0m0-77h0m0-72h0m0 119h0m1 15h0m0 92h0m0-149h0m1 95h0m0 746h0m0-895h0m0 24h0m1 203h0m0-182h0m0 21h0m0 10h0m1 108h0m0-110h0m0-9h0m1 191h0m0-43h0m0-20h0m0-98h0m1 1h0m0 15h0m0-26h0m0 22h0m1-102h0m0 44h0m0 18h0m1 46h0m0 8h0m0 15h0m0 9h0m1-86h0m0 23h0m0 4h0m1-31h0m0 73h0m0-113h0m0 51h0m1-3h0m0-50h0m0 52h0m0 66h0m1-150h0m0 110h0m0-74h0m1 55h0m0-18h0m0-29h0m0 30h0m1-42h0m0 60h0m0 68h0m0-87h0m1 16h0m0 74h0m0-78h0m1 22h0m0-11h0m0 105h0m0-1h0m1-64h0m0-1h0m0-37h0m0 18h0m1-49h0m0-5h0m0 108h0m1-19h0m0-33h0m0 10h0m0 54h0m1 51h0m0-61h0m0-69h0m1 43h0m0 11h0m0-33h0m0-95h0m1 83h0m0-23h0m0 23h0m0-56h0m1 29h0m0 31h0m0-49h0m1 36h0m0 8h0m0-23h0m0 129h0m1-143h0m0 39h0m0-12h0m0 10h0m1 47h0m0-68h0m0 30h0m1 23h0m0-12h0m0-5h0m0 5h0m1-32h0m0 5h0m0 25h0m0 12h0m1-56h0m0-8h0m0 47h0m1 56h0m0-144h0m0 75h0m0-38h0m1 2h0m0 43h0m0-96h0m0 117h0m1 17h0m0-61h0m0 4h0m1-10h0m0 49h0m0-13h0m0-27h0m1 50h0m0-23h0m0 12h0m1-90h0m0 120h0m0-29h0m0-32h0m1 33h0m0-2h0m0-51h0m0-7h0m1-17h0m0 7h0m0 45h0m1 48h0m0-24h0m0-64h0m0-6h0m1 73h0m0-33h0m0 1h0m0 32h0m1-42h0m0 47h0m0 41h0m1-130h0m0 56h0m0 33h0m0-66h0m1-18h0m0 56h0m0-27h0m0-2h0m1-40h0m0 62h0m0 72h0m1-133h0m0 90h0m0-4h0m0 32h0m1 17h0m0 35h0m0-135h0m1 46h0m0-15h0m0 62h0m0-40h0m1 19h0m0-19h0m0-17h0m0-18h0m1-9h0m0 24h0m0-37h0m1 84h0m0-38h0m0 12h0m0 5h0m1-65h0m0 69h0m0-22h0m0 6h0m1-3h0m0-10h0m0-4h0m1-57h0m0 11h0m0 101h0m0-41h0m1 38h0m0-58h0m0 32h0m0-38h0m1 54h0m0-54h0m0 103h0m1-31h0m0-79h0m0 7h0m0 61h0m1-74h0m0 7h0m0 1h0m0-2h0m1 37h0m0 17h0m0-76h0m1-80h0m0 111h0m0-42h0m0 65h0m1-43h0m0 56h0m0-18h0m1-18h0m0 42h0m0-3h0m0-37h0m1 23h0m0 59h0m0-100h0m0 66h0m1-43h0m0 38h0m0 32h0m1-62h0m0-43h0m0 79h0m0-10h0m1-38h0m0 0h0m0 68h0m0-99h0m1 6h0m0 44h0m0 16h0m1-27h0m0-16h0m0 46h0m0-33h0m1 53h0m0-57h0m0 22h0m0 20h0m1-2h0m0-64h0m0 73h0m1-25h0m0-45h0m0 59h0m0 13h0m1 30h0m0-20h0m0-63h0m0 30h0m1-38h0m0 14h0m0 22h0m1 10h0m0 32h0m0-44h0m0 32h0m1 24h0m0-65h0m0-13h0m1-12h0m0 77h0m0-55h0m0-1h0m1 35h0m0 18h0m0-30h0m0 22h0m1 19h0m0-80h0m0 85h0m1-74h0m0 41h0m0-14h0m0-4h0m1 42h0m0 1h0m0-6h0m0-26h0m1 16h0m0-68h0m0 41h0m1 44h0m0-21h0m0-12h0m0 19h0m1-37h0m0-37h0m0 41h0m0 8h0m1 17h0m0-31h0m0-4h0m1 2h0m0 19h0m0-26h0m0-5h0m1 28h0m0 38h0m0-50h0m1 3h0m0-7h0m0-21h0m0-50h0m1 67h0m0 24h0m0 22h0m0-66h0m1 52h0m0 17h0m0 12h0m1-50h0m0 28h0m0-27h0m0 9h0m1-27h0m0 58h0m0-41h0m0 45h0m1-18h0m0-39h0m0 88h0m1-37h0m0-75h0m0 50h0m0 16h0m1-44h0m0 41h0m0-4h0m0-19h0m1 14h0m0 3h0m0-44h0m1 18h0m0-12h0m0 36h0m0 38h0m1-59h0m0 7h0m0-40h0m0 33h0m1 24h0m0-23h0m0 3h0m1 9h0m0-1h0m0-2h0m0-32h0m1 1h0m0 8h0m0 26h0m1-13h0m0 28h0m0-13h0m0-85h0m1 72h0m0-5h0m0-8h0m0 30h0m1 15h0m0-66h0m0-13h0m1 36h0m0 28h0m0-18h0m0 21h0m1-14h0m0 6h0m0 3h0m0 25h0m1-40h0m0 23h0m0-8h0m1-28h0m0 20h0m0-26h0m0 37h0m1 6h0m0-32h0m0 44h0m0-33h0m1 22h0m0-66h0m0 33h0m1 82h0m0-61h0m0-41h0m0 39h0m1-14h0m0-8h0m0-8h0m1 14h0m0-10h0m0 12h0m0 36h0m1-36h0m0 0h0m0 59h0m0-72h0m1 0h0m0 34h0m0-20h0m1-8h0m0 14h0m0-5h0m0 29h0m1-19h0m0-21h0m0 56h0m0-57h0m1 61h0m0-67h0m0 9h0m1 24h0m0-16h0m0 21h0m0 10h0m1-12h0m0-33h0m0 42h0m0-6h0m1 6h0m0-5h0m0 15h0m1-3h0m0-39h0m0-15h0m0 47h0m1-14h0m0 1h0m0 19h0m0-13h0m1 39h0m0-71h0m0 34h0m1-9h0m0-14h0m0 102h0m0-95h0m1 18h0m0 30h0m0-55h0m1 0h0m0 35h0m0-51h0m0 70h0m1-54h0m0 54h0m0-29h0m0 10h0m1-31h0m0 6h0m0-39h0m1 44h0m0-37h0m0 3h0m0 30h0m1-1h0m0 44h0m0-44h0m0-22h0m1 55h0m0-10h0m0 10h0m1-33h0m0-41h0m0-5h0m0 64h0m1 9h0m0 18h0m0-37h0m0-2h0m1 0h0m0-23h0m0-2h0m1 28h0m0-8h0m0 23h0m0-22h0m1-4h0m0-15h0m0-9h0m1 30h0m0-31h0m0 24h0m0 4h0m1 12h0m0-62h0m0 20h0m0 4h0m1 13h0m0 1h0m0 11h0m1-17h0m0 3h0m0 14h0m0-11h0m1 38h0m0-38h0m0 2h0m0 1h0m1-18h0m0 21h0m0 7h0m1-1h0m0-4h0m0 15h0m0-7h0m1-7h0m0 7h0m0-27h0m0 42h0m1-5h0m0-10h0m0-11h0m1 26h0m0-45h0m0 56h0m0-49h0m1 33h0m0-5h0m0 0h0m0 8h0m1-13h0m0 0h0m0 14h0m1-11h0m0 20h0m0-27h0m0 9h0m1-37h0m0 33h0m0-10h0m1 1h0m0 33h0m0-41h0m0 14h0m1 15h0m0-13h0m0-22h0m0 36h0m1-30h0m0 27h0m0-6h0m1-9h0m0 4h0m0-30h0m0 64h0m1-37h0m0 13h0m0-35h0m0 25h0m1 15h0m0-15h0m0 3h0m1 3h0m0 14h0m0-34h0m0 13h0m1 4h0m0-2h0m0-20h0m0 12h0m1 13h0m0-13h0m0 12h0m1 7h0m0-17h0m0-2h0m0 2h0m1 63h0m0-68h0m0 11h0m0-3h0m1 0h0m0-9h0m0 15h0m1-5h0m0-11h0m0 17h0m0 4h0m1-10h0m0-2h0m0 0h0m1 14h0m0 6h0m0-9h0m0-26h0m1 40h0m0-54h0m0 11h0m0-17h0m1 35h0m0 13h0m0-26h0m1 21h0m0-14h0m0 11h0m0-13h0m1 28h0m0-19h0m0 18h0m0-17h0m1 7h0m0-34h0m0 11h0m1 34h0m0-14h0m0-10h0m0 12h0m1-15h0m0 33h0m0 15h0m0-35h0m1 10h0m0 4h0m0-21h0m1 17h0m0 7h0m0-19h0m0-10h0m1-8h0m0 50h0m0-36h0m1 3h0m0-15h0m0 39h0m0-33h0m1 11h0m0 7h0m0 10h0m0-38h0m1 31h0m0-21h0m0 10h0m1 5h0m0-22h0m0 29h0m0-10h0m1-1h0m0-15h0m0 15h0m0 8h0m1-1h0m0-10h0m0 3h0m1 2h0m0 30h0m0-58h0m0 50h0m1-9h0m0-2h0m0 11h0m0 3h0m1-14h0m0-21h0m0 1h0m1-8h0m0 28h0m0 14h0m0-24h0m1 0h0m0 8h0m0 7h0m0 15h0m1-32h0m0 4h0m0 12h0m1 1h0m0-39h0m0 12h0m0 5h0m1-3h0m0-4h0m0 9h0m1 0h0m0-3h0m0 34h0m0-18h0m1 2h0m0-14h0m0 26h0m0-8h0m1-17h0m0 10h0m0-41h0m1 36h0m0 15h0m0-10h0m0-2h0m1-5h0m0 1h0m0 13h0m0-22h0m1 15h0m0-33h0m0 24h0m1-2h0m0-18h0m0 1h0m0 27h0m1 21h0m0-40h0m0 12h0m0-8h0m1-14h0m0 38h0m0 12h0m1 4h0m0-7h0m0-40h0m0-8h0m1 30h0m0-11h0m0-6h0m1 15h0m0 7h0m0-11h0m0 6h0m1 10h0m0-27h0m0 6h0m0 6h0m1-23h0m0 28h0m0 10h0m1 16h0m0 3h0m0-30h0m0 4h0m1 7h0m0-17h0m0 34h0m0-48h0m1 22h0m0 13h0m0-11h0m1 16h0m0-47h0m0 18h0m0 11h0m1-25h0m0 23h0m0-26h0m0 18h0m1-6h0m0 30h0m0-23h0m1 18h0m0-30h0m0 16h0m0-4h0m1 4h0m0 7h0m0 7h0m0 15h0m1-16h0m0-5h0m0-8h0m1-21h0m0 21h0m0 30h0m0-24h0m1-19h0m0 18h0m0 7h0m1-11h0m0-35h0m0 8h0m0 37h0m1 2h0m0-8h0m0-41h0m0 30h0m1 4h0m0-3h0m0 9h0m1-10h0m0-13h0m0 16h0m0-17h0m1 36h0m0 1h0m0-32h0m0 30h0m1-14h0m0-14h0m0-17h0m1 45h0m0-20h0m0 20h0m0-15h0m1-25h0m0 46h0m0 6h0m0-34h0m1 9h0m0 4h0m0-8h0m1 24h0m0-43h0m0 10h0m0 4h0m1 2h0m0-1h0m0 11h0m1-16h0m0 20h0m0-20h0m0 19h0m1-36h0m0 42h0m0-8h0m0-13h0m1 22h0m0-5h0m0 18h0m1-25h0m0 23h0m0-38h0m0-1h0m1 27h0m0-19h0m0 0h0m0 2h0m1 9h0m0-19h0m0-6h0m1 32h0m0-14h0m0-10h0m0-7h0m1 3h0m0 38h0m0-29h0m0-5h0m1 13h0m0-23h0m0 36h0m1-28h0m0 24h0m0 10h0m0-38h0m1 22h0m0 7h0m0-24h0m0 19h0m1-15h0m0 14h0m0-34h0m1 27h0m0 2h0m0 13h0m0-8h0m1-20h0m0 30h0m0-34h0m1 34h0m0-8h0m0-1h0m0-16h0m1 25h0m0-2h0m0 15h0m0-45h0m1 6h0m0 9h0m0 15h0m1-23h0m0 2h0m0-18h0m0 23h0m1 15h0m0-18h0m0 1h0m0 22h0m1-29h0m0 13h0m0-13h0m1 16h0m0 4h0m0-21h0m0 13h0m1 7h0m0 12h0m0-24h0m0 13h0m1-1h0m0-17h0m0 13h0m1-2h0m0 11h0m0-11h0m0 12h0m1-38h0m0 14h0m0-10h0m0 19h0m1 14h0m0 0h0m0-13h0m1-10h0m0 22h0m0-13h0m0 11h0m1-1h0m0 18h0m0-41h0m1 39h0m0-35h0m0-3h0m0 31h0m1-25h0m0 14h0m0-6h0m0 2h0m1-3h0m0 37h0m0-48h0m1 12h0m0 5h0m0 0h0m0-12h0m1 11h0m0 14h0m0-9h0m0-27h0m1 18h0m0 8h0m0 22h0m1-43h0m0 13h0m0-16h0m0 15h0m1 32h0m0-29h0m0 16h0m0-5h0m1-22h0m0 24h0m0-22h0m1-3h0m0 12h0m0 6h0m0 2h0m1-12h0m0 4h0m0 6h0m1-16h0m0 5h0m0 23h0m0-33h0m1 5h0m0 5h0m0 21h0m0-7h0m1-1h0m0-6h0m0 3h0m1 7h0m0-16h0m0 11h0m0 12h0m1-13h0m0 18h0m0-41h0m0 24h0m1-26h0m0 35h0m0-19h0m1 13h0m0 6h0m0-28h0m0-12h0m1 19h0m0-1h0m0 7h0m0 11h0m1-18h0m0 16h0m0 10h0m1-19h0m0-10h0m0 17h0m0-17h0m1-13h0m0 5h0m0 5h0m0 4h0m1-9h0m0 27h0m0 5h0m1-29h0m0 25h0m0-19h0m0 29h0m1-22h0m0-5h0m0 13h0m1-9h0m0 6h0m0-10h0m0-5h0m1 22h0m0-14h0m0 0h0m0 7h0m1 1h0m0-9h0m0 14h0m1-19h0m0 20h0m0 3h0m0 1h0m1-22h0m0 0h0m0-7h0m0 4h0m1 13h0m0-18h0m0 3h0m1 9h0m0 7h0m0 1h0m0-8h0m1-7h0m0 23h0m0-18h0m0 18h0m1-11h0m0-15h0m0-3h0m1 20h0m0 8h0m0 7h0m0-28h0m1 17h0m0-10h0m0-21h0m1 12h0m0 19h0m0-18h0m0-1h0m1 17h0m0 22h0m0-17h0m0-15h0m1 15h0m0-22h0m0-4h0m1 14h0m0 10h0m0-12h0m0 12h0m1 7h0m0-5h0m0 17h0m0-40h0m1 16h0m0 1h0m0 5h0m1-8h0m0-17h0m0 20h0m0-18h0m1 6h0m0 14h0m0 4h0m0-19h0m1-4h0m0-10h0m0 27h0m1-2h0m0-11h0m0 20h0m0-10h0m1-7h0m0-6h0m0 19h0m0 5h0m1-31h0m0 18h0m0-2h0m1 5h0m0 11h0m0-13h0m0-16h0m1 25h0m0-4h0m0 9h0m1-22h0m0 9h0m0 9h0m0-8h0m1-16h0m0 5h0m0-6h0m0 40h0m1-30h0m0 14h0m0 5h0m1-12h0m0-4h0m0 12h0m0-11h0m1-20h0m0 14h0m0 10h0m0-26h0m1 6h0m0 18h0m0-10h0m1 39h0m0-26h0m0-8h0m0 4h0m1 2h0m0 15h0m0-16h0m0 13h0m1 1h0m0-14h0m0-3h0m1-8h0m0-2h0m0 14h0m0-18h0m1 13h0m0-3h0m0 10h0m0-6h0m1-2h0m0 6h0m0 11h0m1-22h0m0 10h0m0-7h0m0 9h0m1 5h0m0-25h0m0 6h0m1 12h0m0 20h0m0-14h0m0-5h0m1-15h0m0 6h0m0-4h0m0 20h0m1-26h0m0 23h0m0-5h0m1-7h0m0-3h0m0 16h0m0-2h0m1 9h0m0-6h0m0-9h0m0-2h0m1 8h0m0-8h0m0 13h0m1-37h0m0 36h0m0-3h0m0-22h0m1 38h0m0-26h0m0-6h0m0 3h0m1-10h0m0 24h0m0-13h0m1 0h0m0 13h0m0-1h0m0-21h0m1 16h0m0 9h0m0-36h0m1 27h0m0 4h0m0-24h0m0 35h0m1-9h0m0-19h0m0 12h0m0-30h0m1 13h0m0 20h0m0-7h0m1 6h0m0-12h0m0-2h0m0 16h0m1-2h0m0-22h0m0 14h0m0-7h0m1 13h0m0 4h0m0-8h0m1 2h0m0-3h0m0 14h0m0-5h0m1-15h0m0 27h0m0-14h0m0 1h0m1-7h0m0 12h0m0-8h0m1-2h0m0 6h0m0-20h0m0 6h0m1 25h0m0-25h0m0 8h0m0 7h0m1-17h0m0 35h0m0-14h0m1-4h0m0-8h0m0 22h0m0-24h0m1 19h0m0-14h0m0 1h0m1 12h0m0-2h0m0 10h0m0-21h0m1 5h0m0-11h0m0-3h0m0 5h0m1-12h0m0 30h0m0-11h0m1-4h0m0 6h0m0-18h0m0 11h0m1-1h0m0 9h0m0-23h0m0 16h0m1 3h0m0-29h0m0 23h0m1-13h0m0 27h0m0-18h0m0 27h0m1-10h0m0 3h0m0-16h0m0 4h0m1-4h0m0 7h0m0 2h0m1-8h0m0 1h0m0-10h0m0 11h0m1-17h0m0 7h0m0 27h0m1-27h0m0 0h0m0 6h0m0 13h0m1 11h0m0-20h0m0 3h0m0 22h0m1-29h0m0-2h0m0-2h0m1 7h0m0 5h0m0 9h0m0-3h0m1 4h0m0-22h0m0 3h0m0 1h0m1 3h0m0-3h0m0-17h0m1 21h0m0 1h0m0-2h0m0-5h0m1 9h0m0-10h0m0 8h0m0-11h0m1 15h0m0-11h0m0 19h0m1-1h0m0-15h0m0-8h0m0 12h0m1 12h0m0-9h0m0-1h0m0 2h0m1-7h0m0-2h0m0 8h0m1 19h0m0-22h0m0 19h0m0-23h0m1-10h0m0 15h0m0 5h0m1 9h0m0 0h0m0-18h0m0 35h0m1-19h0m0-6h0m0-7h0m0 11h0m1-29h0m0 30h0m0-8h0m1 0h0m0-7h0m0-4h0m0 8h0m1 3h0m0 10h0m0-6h0m0-31h0m1 27h0m0 11h0m0-16h0m1-1h0m0-15h0m0 16h0m0-10h0m1 7h0m0 12h0m0-18h0m0 10h0m1-18h0m0 11h0m0-4h0m1 8h0m0 15h0m0 1h0m0 0h0m1-8h0m0-19h0m0 22h0m1 3h0m0-21h0m0 16h0m0-7h0m1-1h0m0 2h0m0-3h0m0 12h0m1-14h0m0-12h0m0 30h0m1 0h0m0-22h0m0 11h0m0-7h0m1 10h0m0-7h0m0 9h0m0-7h0m1 24h0m0-12h0m0-4h0m1 1h0m0-17h0m0 15h0m0-5h0m1-13h0m0 16h0m0-5h0m0 4h0m1-5h0m0 5h0m0 2h0m1-10h0m0 11h0m0 0h0m0-5h0m1-9h0m0 5h0m0 10h0m0-4h0m1-22h0m0 7h0m0-8h0m1 26h0m0-18h0m0 16h0m0 12h0m1-20h0m0-6h0m0 10h0m1 6h0m0 8h0m0-22h0m0 6h0m1 9h0m0-1h0m0-9h0m0-4h0m1 16h0m0-10h0m0-9h0m1 9h0m0-4h0m0 14h0m0-6h0m1-13h0m0 3h0m0 34h0m0-17h0m1-7h0m0-3h0m0-3h0m1 4h0m0-2h0m0-6h0m0 16h0m1-1h0m0-23h0m0 11h0m0 8h0m1-2h0m0 0h0m0-5h0m1 1h0m0-8h0m0 22h0m0-4h0m1-8h0m0 1h0m0 7h0m0-23h0m1 16h0m0 3h0m0-8h0m1-13h0m0 20h0m0-4h0m0 7h0m1 4h0m0-3h0m0-11h0m1 14h0m0-1h0m0-19h0m0-7h0m1 11h0m0 15h0m0-15h0m0 10h0m1 6h0m0-4h0m0-7h0m1 11h0m0-18h0m0 4h0m0 12h0m1 10h0m0-16h0m0 5h0m0-5h0m1 1h0m0-8h0m0 0h0m1-5h0m0 7h0m0 5h0m0-9h0m1 0h0m0 1h0m0-5h0m0 14h0m1 2h0m0-7h0m0-10h0m1 7h0m0-3h0m0 18h0m0-1h0m1-12h0m0 8h0m0-9h0m1 10h0m0-8h0m0-5h0m0 18h0m1-14h0m0 2h0m0-2h0m0-5h0m1 7h0m0-12h0m0 19h0m1-5h0m0 1h0m0 5h0m0-15h0m1 9h0m0-2h0m0 11h0m0-12h0m1-2h0m0 10h0m0-19h0m1 33h0m0-13h0m0-11h0m0-6h0m1 9h0m0-2h0m0 7h0m0-7h0m1-5h0m0 17h0m0-8h0m1 0h0m0 1h0m0-17h0m0 9h0m1 13h0m0-20h0m0 16h0m0 6h0m1-1h0m0 4h0m0-19h0m1-1h0m0 1h0m0 6h0m0-3h0m1 2h0m0-5h0m0 2h0m1 6h0m0 11h0m0-3h0m0 10h0m1-15h0m0-1h0m0 8h0m0-6h0m1-14h0m0 11h0m0 8h0m1-12h0m0 11h0m0-4h0m0-7h0m1 1h0m0-4h0m0 3h0m0 14h0m1-3h0m0 0h0m0-28h0m1 23h0m0-10h0m0-9h0m0 18h0m1 2h0m0 6h0m0-5h0m0 12h0m1-20h0m0-4h0m0 6h0m1 7h0m0-10h0m0 11h0m0-7h0m1-10h0m0 22h0m0 1h0m1-16h0m0 4h0m0 1h0m0-8h0m1 0h0m0 16h0m0-19h0m0 17h0m1-10h0m0 11h0m0-18h0m1 7h0m0-14h0m0 11h0m0-3h0m1-2h0m0-5h0m0 8h0m0 3h0m1-9h0m0 11h0m0 23h0m1-19h0m0-7h0m0 7h0m0-7h0m1 21h0m0-25h0m0 7h0m0 9h0m1 8h0m0-13h0m0-5h0m1 2h0m0 9h0m0 6h0m0-15h0m1-2h0m0 7h0m0-19h0m0 15h0m1-6h0m0 1h0m0 10h0m1-7h0m0-2h0m0-1h0m0 3h0m1 6h0m0-1h0m0 1h0m1-9h0m0 5h0m0 0h0m0-2h0m1-2h0m0 13h0m0 15h0m0-22h0m1-5h0m0 2h0m0-4h0m1 17h0m0-2h0m0-12h0m0 8h0m1-17h0m0 8h0m0-1h0m0 14h0m1-6h0m0 0h0m0-13h0m1 13h0m0 1h0m0 12h0m0-18h0m1 13h0m0-17h0m0 0h0m0 5h0m1-8h0m0 8h0m0-1h0m1 0h0m0 2h0m0 11h0m0-5h0m1 4h0m0-13h0m0 14h0m1-13h0m0 1h0m0-4h0m0 9h0m1 2h0m0 3h0m0-17h0m0-11h0m1 24h0m0-10h0m0 4h0m1 3h0m0 0h0m0 3h0m0-5h0m1 8h0m0-4h0m0-4h0m0-7h0m1 15h0m0-3h0m0-10h0m1 4h0m0 11h0m0-2h0m0-3h0m1 1h0m0-9h0m0 0h0m0 18h0m1-4h0m0-11h0m0 0h0m1 2h0m0-11h0m0 5h0m0 5h0m1 0h0m0-15h0m0 16h0m0 0h0m1-3h0m0-2h0m0 5h0m1-10h0m0 17h0m0 2h0m0-4h0m1-10h0m0 1h0m0-11h0m1 16h0m0-2h0m0 6h0m0 2h0m1-24h0m0 20h0m0 4h0m0 7h0m1-16h0m0-5h0m0-1h0m1 0h0m0 10h0m0-4h0m0 23h0m1-31h0m0 9h0m0 2h0m0-6h0m1 3h0m0 0h0m0 6h0m1-10h0m0 11h0m0-7h0m0-5h0m1 8h0m0 3h0m0-7h0m0-6h0m1 11h0m0 3h0m0-6h0m1-3h0m0 6h0m0-15h0m0 20h0m1-9h0m0-2h0m0 2h0m0 3h0m1 5h0m0-17h0m0 7h0m1-6h0m0 15h0m0-10h0m0 5h0m1 2h0m0-10h0m0 14h0m1-7h0m0 1h0m0-8h0m0 4h0m1 2h0m0-4h0m0 8h0m0-1h0m1 2h0m0-17h0m0 18h0m1-16h0m0 16h0m0-10h0m0 2h0m1 2h0m0 4h0m0-5h0m0-4h0m1-3h0m0 11h0m0-14h0m1 9h0m0 10h0m0-9h0m0-2h0m1 4h0m0 0h0m0-4h0m0-11h0m1 23h0m0-10h0m0 3h0m1 1h0m0-1h0m0-5h0m0 5h0m1-6h0m0 0h0m0 9h0m1-8h0m0-3h0m0 7h0m0 0h0m1-4h0m0-1h0m0 5h0m0 5h0m1-12h0m0 9h0m0-7h0m1-6h0m0 14h0m0 4h0m0 1h0m1 2h0m0-16h0m0 10h0m0-4h0m1 0h0m0 7h0m0-8h0m1 6h0m0-6h0m0-1h0m0 1h0m1-3h0m0 4h0m0 3h0m0-3h0m1-4h0m0-2h0m0 6h0m1 0h0m0 1h0m0-5h0m0 6h0m1-6h0m0 5h0m0 0h0m0-1h0m1-8h0m0 1h0m0-6h0m1 18h0m0 4h0m0-21h0m0 9h0m1 10h0m0-2h0m0-5h0m1-2h0m0 1h0m0-3h0m0-5h0m1 13h0m0-8h0m0 6h0m0-1h0m1-4h0m0 18h0m0-9h0m1-12h0m0-1h0m0 6h0m0 12h0m1-13h0m0 9h0m0-13h0m0 7h0m1 1h0m0 0h0m0 6h0m1-13h0m0 13h0m0-23h0m0 10h0m1 11h0m0-2h0m0 2h0m0-11h0m1 2h0m0-8h0m0 13h0m1-5h0m0 2h0m0 8h0m0-13h0m1 14h0m0-10h0m0 0h0m1 1h0m0 2h0m0 7h0m0 2h0m1-7h0m0 7h0m0-21h0m0 7h0m1-13h0m0 21h0m0-7h0m1-8h0m0 16h0m0-8h0m0-1h0m1-1h0m0 17h0m0-20h0m0 13h0m1 0h0m0 3h0m0-6h0m1-13h0m0 13h0m0-5h0m0 4h0m1-12h0m0 6h0m0-2h0m0 19h0m1-15h0m0-6h0m0 4h0m1 2h0m0-7h0m0 15h0m0 5h0m1-4h0m0 5h0m0-23h0m0 18h0m1-18h0m0 4h0m0 8h0m1-1h0m0 0h0m0-3h0m0 2h0m1-7h0m0 13h0m0-2h0m1 4h0m0 1h0m0-7h0m0-4h0m1 12h0m0-20h0m0 17h0m0-3h0m1-3h0m0 8h0m0-22h0m1 14h0m0 11h0m0-11h0m0 0h0m1-3h0m0 0h0m0 5h0m0-11h0m1 18h0m0-11h0m0-8h0m1 7h0m0-3h0m0 11h0m0-2h0m1-5h0m0 5h0m0 9h0m0-18h0m1-1h0m0 4h0m0 17h0m1-4h0m0-7h0m0-1h0m0 2h0m1 5h0m0-7h0m0-9h0m0 8h0m1 6h0m0 0h0m0-4h0m1-1h0m0 4h0m0 10h0m0-14h0m1-1h0m0-4h0m0 9h0m1-9h0m0 13h0m0-10h0m0 9h0m1 2h0m0-2h0m0-15h0m0 12h0m1 6h0m0-9h0m0 0h0m1 8h0m0-13h0m0 5h0m0-2h0m1 15h0m0-25h0m0 11h0m0 4h0m1 1h0m0-20h0m0 5h0m1 14h0m0 0h0m0-11h0m0 5h0m1 9h0m0-13h0m0 0h0m0-5h0m1 14h0m0-4h0m0-2h0m1-11h0m0 20h0m0-9h0m0-10h0m1 16h0m0-8h0m0-4h0m1 20h0m0-5h0m0-1h0m0-12h0m1 6h0m0 2h0m0 6h0m0-18h0m1 8h0m0 2h0m0 3h0m1-1h0m0 0h0m0 10h0m0-20h0m1-2h0m0-4h0m0 16h0m0 0h0m1 0h0m0-4h0m0 1h0m1-1h0m0 12h0m0-9h0m0 8h0m1-4h0m0-1h0m0-3h0m0-6h0m1-1h0m0 12h0m0-8h0m1 12h0m0-3h0m0-12h0m0 12h0m1-5h0m0 0h0m0 2h0m0-12h0m1 3h0m0-3h0m0 14h0m1-12h0m0 15h0m0-7h0m0 1h0m1-8h0m0 5h0m0 4h0m1-5h0m0-5h0m0 2h0m0 11h0m1 1h0m0-10h0m0 7h0m0 8h0m1-22h0m0-2h0m0 6h0m1 1h0m0 2h0m0 0h0m0 4h0m1-5h0m0 13h0m0-4h0m0-5h0m1 13h0m0-22h0m0 5h0m1 7h0m0-9h0m0-2h0m0 5h0m1 4h0m0 4h0m0 4h0m0-19h0m1 5h0m0 9h0m0-2h0m1 2h0m0-6h0m0-5h0m0 4h0m1 3h0m0-5h0m0-2h0m1 11h0m0-2h0m0 1h0m0-7h0m1 4h0m0 3h0m0 0h0m0 0h0m1 5h0m0-11h0m0 5h0m1-2h0m0-3h0m0 8h0m0-6h0m1-6h0m0 3h0m0 4h0m0 0h0m1-1h0m0-8h0m0 13h0m1-4h0m0 1h0m0 4h0m0-17h0m1 0h0m0 10h0m0 1h0m0-8h0m1 13h0m0-9h0m0 6h0m1-3h0m0 4h0m0-1h0m0 3h0m1-10h0m0 15h0m0-3h0m0-8h0m1-3h0m0 15h0m0-21h0m1 21h0m0-4h0m0-8h0m0 7h0m1 6h0m0-7h0m0-15h0m1 16h0m0 8h0m0-12h0m0 5h0m1-2h0m0 1h0m0-4h0m0 7h0m1-17h0m0 17h0m0-3h0m1-11h0m0 5h0m0 0h0m0-7h0m1 13h0m0-3h0m0-10h0m0 12h0m1-9h0m0 0h0m0 16h0m1-16h0m0 5h0m0 4h0m0-10h0m1 11h0m0-1h0m0 4h0m0 0h0m1-10h0m0-1h0m0 7h0m1 7h0m0-12h0m0 1h0m0 5h0m1 6h0m0-3h0m0-3h0m1-6h0m0 4h0m0 2h0m0-9h0m1 11h0m0-1h0m0 0h0m0-10h0m1 2h0m0 7h0m0-14h0m1-1h0m0 6h0m0-8h0m0 16h0m1-11h0m0 3h0m0 10h0m0-10h0m1 12h0m0 0h0m0-6h0m1-6h0m0 7h0m0-5h0m0 0h0m1 3h0m0 0h0m0-8h0m0 26h0m1-26h0m0 13h0m0-16h0m1 14h0m0 4h0m0-11h0m0 13h0m1-25h0m0 19h0m0 6h0m0-8h0m1-5h0m0 11h0m0-14h0m1 7h0m0-1h0m0 5h0m0-6h0m1 5h0m0-9h0m0 8h0m1-7h0m0 2h0m0 5h0m0-8h0m1 18h0m0-8h0m0-9h0m0 0h0m1-2h0m0 12h0m0-3h0m1-8h0m0-1h0m0 13h0m0-1h0m1-2h0m0 7h0m0-14h0m0-1h0m1 13h0m0-11h0m0-2h0m1 9h0m0-2h0m0-1h0m0-1h0m1 7h0m0-13h0m0-1h0m0 11h0m1-4h0m0 3h0m0-2h0m1 5h0m0-2h0m0 2h0m0-15h0m1 0h0m0 9h0m0-12h0m0 20h0m1-14h0m0 13h0m0-9h0m1-3h0m0-5h0m0 1h0m0 11h0m1 12h0m0-17h0m0 10h0m1-4h0m0-5h0m0 2h0m0 3h0m1-16h0m0 19h0m0-4h0m0-10h0m1 0h0m0 12h0m0-6h0m1 0h0m0 6h0m0-3h0m0-1h0m1-1h0m0-2h0m0 8h0m0-7h0m1 0h0m0-14h0m0 12h0m1 11h0m0-7h0m0 1h0m0-5h0m1 8h0m0-7h0m0-3h0m0 12h0m1-19h0m0 16h0m0-7h0m1-10h0m0 15h0m0-9h0m0 7h0m1 8h0m0-1h0m0-12h0m1 7h0m0 3h0m0-8h0m0-2h0m1 6h0m0 2h0m0 2h0m0 0h0m1-13h0m0 15h0m0-2h0m1-12h0m0 7h0m0 12h0m0-18h0m1 5h0m0-5h0m0 4h0m0-8h0m1 14h0m0-1h0m0-3h0m1 6h0m0-11h0m0-2h0m0 4h0m1 0h0m0-2h0m0 5h0m0 2h0m1-2h0m0-5h0m0 7h0m1-2h0m0-10h0m0 11h0m0-2h0m1 6h0m0-12h0m0 0h0m0-2h0m1 4h0m0 7h0m0-1h0m1-5h0m0 6h0m0-6h0m0 13h0m1 2h0m0-15h0m0 3h0m1-9h0m0 4h0m0 0h0m0 4h0m1-2h0m0-8h0m0 12h0m0-3h0m1-2h0m0 11h0m0 0h0m1-13h0m0 12h0m0 1h0m0-13h0m1 3h0m0 0h0m0 4h0m0-4h0m1-1h0m0 4h0m0-3h0m1-6h0m0 22h0m0 5h0m0-9h0m1-6h0m0 0h0m0-2h0m0-6h0m1 13h0m0-4h0m0-12h0m1 14h0m0-2h0m0 5h0m0-4h0m1-5h0m0-7h0m0 14h0m1-14h0m0 0h0m0 14h0m0-17h0m1 14h0m0-8h0m0-2h0m0 7h0m1 4h0m0-9h0m0-4h0m1 9h0m0-3h0m0 6h0m0-2h0m1 6h0m0-8h0m0 0h0m0 2h0m1-5h0m0 5h0m0 6h0m1-2h0m0 3h0m0-4h0m0-4h0m1-1h0m0-4h0m0 6h0m0 5h0m1-4h0m0 6h0m0-8h0m1-5h0m0 2h0m0 0h0m0 0h0m1 10h0m0-9h0m0 3h0m0 4h0m1-2h0m0-3h0m0 2h0m1-2h0m0-1h0m0-3h0m0-4h0m1 5h0m0 3h0m0-5h0m1 6h0m0 3h0m0-6h0m0 9h0m1-10h0m0-4h0m0-1h0m0 14h0m1-3h0m0 4h0m0-9h0m1 2h0m0 5h0m0-4h0m0 2h0m1 5h0m0-7h0m0-3h0m0 3h0m1-6h0m0 13h0m0-7h0m1 6h0m0-11h0m0 4h0m0-7h0m1 8h0m0 6h0m0-3h0m0-2h0m1-1h0m0-3h0m0-5h0m1 10h0m0-1h0m0-12h0m0 13h0m1-10h0m0 17h0m0-10h0m0 1h0m1 2h0m0-4h0m0-2h0m1 7h0m0 0h0m0-3h0m0-7h0m1 5h0m0-3h0m0 0h0m1 12h0m0-19h0m0 16h0m0-6h0m1-4h0m0 8h0m0-1h0m0 0h0m1-5h0m0-3h0m0 8h0m1-1h0m0-6h0m0 7h0m0-3h0m1 1h0m0-10h0m0 9h0m0 4h0m1-3h0m0 5h0m0 3h0m1-1h0m0-6h0m0-5h0m0 7h0m1-13h0m0 12h0m0-6h0m0 1h0m1 2h0m0 1h0m0-2h0m1 2h0m0 7h0m0-6h0m0-9h0m1 14h0m0-12h0m0 14h0m1-15h0m0 2h0m0 8h0m0-5h0m1 8h0m0 1h0m0-8h0m0 2h0m1 2h0m0-1h0m0 3h0m1 3h0m0-19h0m0 17h0m0-10h0m1 13h0m0-6h0m0-5h0m0-10h0m1 18h0m0-6h0m0 4h0m1 4h0m0-14h0m0 0h0m0 9h0m1-6h0m0 8h0m0-2h0m0 3h0m1-4h0m0-7h0m0 14h0m1 1h0m0-4h0m0-8h0m0-4h0m1 10h0m0-4h0m0-1h0m0 3h0m1 1h0m0-10h0m0 7h0m1-1h0m0 0h0m0 2h0m0 0h0m1-1h0m0 6h0m0-8h0m1 8h0m0-12h0m0 10h0m0-9h0m1 0h0m0 12h0m0-9h0m0 1h0m1-6h0m0 10h0m0 0h0m1 2h0m0-5h0m0 1h0m0-2h0m1-6h0m0 6h0m0-1h0m0 4h0m1-3h0m0 7h0m0-6h0m1 1h0m0-9h0m0 14h0m0-6h0m1 0h0m0 4h0m0-4h0m0-4h0m1-5h0m0 6h0m0-2h0m1 8h0m0 9h0m0-6h0m0-2h0m1-5h0m0-3h0m0 4h0m1 8h0m0-7h0m0-1h0m0 3h0m1-2h0m0-1h0m0-3h0m0-3h0m1 12h0m0-2h0m0 6h0m1-10h0m0 0h0m0 1h0m0-3h0m1 2h0m0 7h0m0-8h0m0 3h0m1 1h0m0 4h0m0-3h0m1 0h0m0-14h0m0 11h0m0 2h0m1-11h0m0 13h0m0 0h0m0-1h0m1-8h0m0 2h0m0 2h0m1 0h0m0 0h0m0 0h0m0 0h0m1 0h0m0 9h0m0-7h0m0 4h0m1-4h0m0 7h0m0-12h0m1-1h0m0 6h0m0 0h0m0 5h0m1-6h0m0 6h0m0-8h0m1 5h0m0 2h0m0 2h0m0-7h0m1-9h0m0 5h0m0 3h0m0-2h0m1-1h0m0 2h0m0 3h0m1-2h0m0-3h0m0 4h0m0 0h0m1-6h0m0 3h0m0 3h0m0 0h0m1 7h0m0-7h0m0-6h0m1 13h0m0-15h0m0 6h0m0-1h0m1 7h0m0 0h0m0-9h0m0 1h0m1 1h0m0 3h0m0 4h0m1-2h0m0-2h0m0 2h0m0-8h0m1 5h0m0-2h0m0 4h0m1 7h0m0-6h0m0 2h0m0 6h0m1-12h0m0-3h0m0 6h0m0-5h0m1 8h0m0 1h0m0-2h0m1-1h0m0-4h0m0 8h0m0-11h0m1 2h0m0 7h0m0-9h0m0 11h0m1 0h0m0-8h0m0 8h0m1-4h0m0 3h0m0-10h0m0 7h0m1-3h0m0 3h0m0-4h0m0 1h0m1 7h0m0-10h0m0 1h0m1 5h0m0 2h0m0 1h0m0-7h0m1-1h0m0 1h0m0 0h0m0 4h0m1 3h0m0-8h0m0 2h0m1-4h0m0 3h0m0-1h0m0 3h0m1-3h0m0 7h0m0-4h0m1-3h0m0 8h0m0 0h0m0-9h0m1 9h0m0 0h0m0 1h0m0-12h0m1 5h0m0 5h0m0-4h0m1-4h0m0 8h0m0 1h0m0-7h0m1 1h0m0 1h0m0-2h0m0 12h0m1-6h0m0-1h0m0-4h0m1-3h0m0 4h0m0-2h0m0 11h0m1-7h0m0 3h0m0 5h0m0-8h0m1 0h0m0 0h0m0 6h0m1-16h0m0 5h0m0-5h0m0 13h0m1-13h0m0 10h0m0-1h0m0-3h0m1 6h0m0-6h0m0 5h0m1-7h0m0 2h0m0 8h0m0-3h0m1-9h0m0 1h0m0 6h0m1-3h0m0 6h0m0 5h0m0-7h0m1 2h0m0-2h0m0-6h0m0 6h0m1-7h0m0 7h0m0 3h0m1-2h0m0 9h0m0-18h0m0 15h0m1-14h0m0 8h0m0-5h0m0 8h0m1-2h0m0 5h0m0-14h0m1 13h0m0-8h0m0 4h0m0-14h0m1 7h0m0-2h0m0-3h0m0 6h0m1 8h0m0 1h0m0-6h0m1-4h0m0 4h0m0-8h0m0 17h0m1-13h0m0 9h0m0 1h0m1-7h0m0-10h0m0 7h0m0 6h0m1-9h0m0 7h0m0-4h0m0-2h0m1 3h0m0 1h0m0 0h0m1 4h0m0 6h0m0-7h0m0-4h0m1-1h0m0 4h0m0-12h0m0 8h0m1 8h0m0-8h0m0 5h0m1-3h0m0 5h0m0-2h0m0 5h0m1-5h0m0-1h0m0 7h0m0-11h0m1 4h0m0-8h0m0 16h0m1-9h0m0 3h0m0-4h0m0 7h0m1-2h0m0-10h0m0 6h0m0 2h0m1-2h0m0 1h0m0-8h0m1 11h0m0-2h0m0 1h0m0-6h0m1 4h0m0-2h0m0 0h0m1 3h0m0-11h0m0 7h0m0 0h0m1 0h0m0-3h0m0 4h0m0-1h0m1 0h0m0 0h0m0 7h0m1-2h0m0-1h0m0-1h0m0-4h0m1-5h0m0 15h0m0-5h0m0-3h0m1-2h0m0 3h0m0 3h0m1 0h0m0-10h0m0 7h0m0 2h0m1 2h0m0-6h0m0 5h0m0-3h0m1-5h0m0 6h0m0-4h0m1 3h0m0-5h0m0 1h0m0 2h0m1 12h0m0-7h0m0 2h0m1 0h0m0-7h0m0 0h0m0 7h0m1-10h0m0 2h0m0-1h0m0 1h0m1 3h0m0 1h0m0 1h0m1 6h0m0-10h0m0 3h0m0-2h0m1-5h0m0 5h0m0-5h0m0 9h0m1-7h0m0 2h0m0 1h0m1 8h0m0-8h0m0 0h0m0 4h0m1-3h0m0 9h0m0-12h0m0 0h0m1 6h0m0-6h0m0 1h0m1 8h0m0-13h0m0 6h0m0 4h0m1 5h0m0-6h0m0-5h0m0 4h0m1-5h0m0 3h0m0 1h0m1 9h0m0-6h0m0-10h0m0 7h0m1-4h0m0 5h0m0-5h0m1 2h0m0 3h0m0 3h0m0-8h0m1 5h0m0-4h0m0-3h0m0 8h0m1 8h0m0-9h0m0-3h0m1 1h0m0-1h0m0-3h0m0-1h0m1 8h0m0 1h0m0-5h0m0 0h0m1 1h0m0 5h0m0 8h0m1-12h0m0 1h0m0 4h0m0-6h0m1 2h0m0-2h0m0 4h0m0-3h0m1-4h0m0 9h0m0-5h0m1-7h0m0 5h0m0 3h0m0-5h0m1 8h0m0 10h0m0-14h0m1 8h0m0-9h0m0 7h0m0 6h0m1-16h0m0 1h0m0 5h0m0 2h0m1-4h0m0-6h0m0 5h0m1-1h0m0 0h0m0 2h0m0 5h0m1-2h0m0-3h0m0 4h0m0-8h0m1 11h0m0-8h0m0-3h0m1 5h0m0 3h0m0-11h0m0 18h0m1-12h0m0 4h0m0-3h0m0-2h0m1 1h0m0 8h0m0-14h0m1 4h0m0 2h0m0-1h0m0 6h0m1-3h0m0-6h0m0 4h0m0 5h0m1-2h0m0-3h0m0-3h0m1-4h0m0 15h0m0-7h0m0-3h0m1 11h0m0-11h0m0 6h0m1-10h0m0 11h0m0-6h0m0 4h0m1-2h0m0-10h0m0 5h0m0 4h0m1 1h0m0 5h0m0 0h0m1-7h0m0 2h0m0 3h0m0 1h0m1-7h0m0 7h0m0 2h0m0-7h0m1 7h0m0-5h0m0-4h0m1 6h0m0-11h0m0 5h0m0-1h0m1 4h0m0 2h0m0 0h0m0-5h0m1 3h0m0-2h0m0 3h0m1-3h0m0 3h0m0-1h0m0 0h0m1 0h0m0-2h0m0 1h0m0 3h0m1-5h0m0 0h0m0 4h0m1-1h0m0-1h0m0 4h0m0-2h0m1 0h0m0-2h0m0 0h0m1-1h0m0-9h0m0 7h0m0 3h0m1 8h0m0-6h0m0-1h0m0 7h0m1-9h0m0 2h0m0 3h0m1-6h0m0 0h0m0 2h0m0 2h0m1-1h0m0-12h0m0 17h0m0-5h0m1-4h0m0 1h0m0 5h0m1 5h0m0-3h0m0-3h0m0-9h0m1 1h0m0 8h0m0-1h0m0 10h0m1-2h0m0-7h0m0-6h0m1 9h0m0-1h0m0 1h0m0-2h0m1-3h0m0-4h0m0 6h0m1 6h0m0-5h0m0-7h0m0 1h0m1 6h0m0-3h0m0 5h0m0-1h0m1-7h0m0 7h0m0-5h0m1 10h0m0-10h0m0 3h0m0-3h0m1 3h0m0 2h0m0-1h0m0-9h0m1 11h0m0-5h0m0-1h0m1 5h0m0-9h0m0 7h0m0 1h0m1-3h0m0-6h0m0 5h0m0 0h0m1 2h0m0-1h0m0-2h0m1 3h0m0-3h0m0 7h0m0-7h0m1-2h0m0 4h0m0 1h0m0 3h0m1 0h0m0-4h0m0-9h0m1 10h0m0-2h0m0 1h0m0 2h0m1 1h0m0 1h0m0-1h0m1-1h0m0 4h0m0-1h0m0 5h0m1-11h0m0-1h0m0 6h0m0-1h0m1-3h0m0 1h0m0-2h0m1 7h0m0-5h0m0-2h0m0 6h0m1-6h0m0-2h0m0-7h0m0 15h0m1-4h0m0 1h0m0 3h0m1-2h0m0 8h0m0-6h0m0-9h0m1 9h0m0-6h0m0 10h0m0-8h0m1 4h0m0-1h0m0-8h0m1 1h0m0-1h0m0 11h0m0-10h0m1 4h0m0-9h0m0 8h0m1 16h0m0-18h0m0-3h0m0 10h0m1-7h0m0 6h0m0 8h0m0-13h0m1 11h0m0-7h0m0-1h0m1 4h0m0-2h0m0 8h0m0-10h0m1 1h0m0-2h0m0 0h0m0 1h0m1-8h0m0 6h0m0 1h0m1-6h0m0 2h0m0 6h0m0-3h0m1-1h0m0 5h0m0-5h0m0 10h0m1-3h0m0-2h0m0-5h0m1-1h0m0 4h0m0-2h0m0 7h0m1-3h0m0-3h0m0-3h0m0 5h0m1 3h0m0-6h0m0-3h0m1 14h0m0-6h0m0-8h0m0 6h0m1-3h0m0 7h0m0 0h0m1-5h0m0 4h0m0-7h0m0-4h0m1 14h0m0-5h0m0-4h0m0 4h0m1 0h0m0-5h0m0 4h0m1 0h0m0-5h0m0 5h0m0 1h0m1-2h0m0-6h0m0 3h0m0-1h0m1 6h0m0 0h0m0 0h0m1-3h0m0 0h0m0 1h0m0-1h0m1 2h0m0-4h0m0 9h0m0-9h0m1 8h0m0-3h0m0 7h0m1-4h0m0-8h0m0 8h0m0-2h0m1 1h0m0 0h0m0-5h0m0 1h0m1 8h0m0-14h0m0 4h0m1-2h0m0 2h0m0 2h0m0 8h0m1-14h0m0 9h0m0-6h0m1 0h0m0-2h0m0 7h0m0 1h0m1-5h0m0-4h0m0 7h0m0-1h0m1-3h0m0-1h0m0-6h0m1 14h0m0-6h0m0 3h0m0 1h0m1-7h0m0 8h0m0-3h0m0 6h0m1-11h0m0 5h0m0 0h0m1 5h0m0-4h0m0-2h0m0-6h0m1 13h0m0-4h0m0 1h0m0-9h0m1 9h0m0-8h0m0 6h0m1-9h0m0 0h0m0 3h0m0 9h0m1-6h0m0-3h0m0 9h0m1-3h0m0 2h0m0-1h0m0-3h0m1 2h0m0-1h0m0-2h0m0-1h0m1 4h0m0-8h0m0 11h0m1 0h0m0 5h0m0-16h0m0 16h0m1-8h0m0-1h0m0-5h0m0 7h0m1-1h0m0 2h0m0 6h0m1-3h0m0-13h0m0 8h0m0-2h0m1-2h0m0 11h0m0-11h0m0 1h0m1 9h0m0-4h0m0-8h0m1 7h0m0-6h0m0 1h0m0 5h0m1 0h0m0-6h0m0-3h0m0 8h0m1 3h0m0-9h0m0 3h0m1 6h0m0 0h0m0 5h0m0-4h0m1 4h0m0-15h0m0 3h0m1 0h0m0 7h0m0-2h0m0 0h0m1 2h0m0-5h0m0-6h0m0 7h0m1 0h0m0-2h0m0 2h0m1-7h0m0 7h0m0-1h0m0 2h0m1-5h0m0 10h0m0-2h0m0-3h0m1 6h0m0-10h0m0-1h0m1 6h0m0-5h0m0 3h0m0-3h0m1-3h0m0 9h0m0-2h0m0-1h0m1 7h0m0-14h0m0 8h0m1 2h0m0-11h0m0 14h0m0-9h0m1 1h0m0 2h0m0-5h0m1 4h0m0 4h0m0 3h0m0-1h0m1 2h0m0-5h0m0-7h0m0 8h0m1 0h0m0 2h0m0-9h0m1 11h0m0-3h0m0-11h0m0 6h0m1 3h0m0 6h0m0-8h0m0-3h0m1 6h0m0-13h0m0 12h0m1 1h0m0-1h0m0-4h0m0 0h0m1 2h0m0 1h0m0-6h0m0 7h0m1-4h0m0 0h0m0-2h0m1 7h0m0 3h0m0-5h0m0-6h0m1 4h0m0 4h0m0-5h0m0 0h0m1 6h0m0-5h0m0-4h0m1 7h0m0 5h0m0-5h0m0-1h0m1-3h0m0 4h0m0 3h0m1-10h0m0 2h0m0 7h0m0 4h0m1-5h0m0-5h0m0 9h0m0-9h0m1 3h0m0-9h0m0 13h0m1-1h0m0-1h0m0-11h0m0 10h0m1-1h0m0-2h0m0 2h0m0-4h0m1 3h0m0-4h0m0 8h0m1 3h0m0-3h0m0 4h0m0-14h0m1 6h0m0 1h0m0-3h0m0 2h0m1-4h0m0 1h0m0 4h0m1 0h0m0-4h0m0-1h0m0 6h0m1-3h0m0 1h0m0 0h0m1-6h0m0 9h0m0-4h0m0 1h0m1 2h0m0 3h0m0-11h0m0 6h0m1 2h0m0-1h0m0-6h0m1 6h0m0-2h0m0-3h0m0 1h0m1 1h0m0 0h0m0 2h0m0-2h0m1 2h0m0 2h0m0-6h0m1-2h0m0 4h0m0-1h0m0 5h0m1-2h0m0 4h0m0 4h0m0-5h0m1-3h0m0 6h0m0-4h0m1-6h0m0 6h0m0-1h0m0 2h0m1-4h0m0 4h0m0-5h0m0 5h0m1-4h0m0 1h0m0-2h0m1-3h0m0 9h0m0-9h0m0 0h0m1 0h0m0 5h0m0 0h0m1-4h0m0 2h0m0-2h0m0 6h0m1-4h0m0-1h0m0 4h0m0 1h0m1 0h0m0 0h0m0-1h0m1-1h0m0 4h0m0-8h0m0 3h0m1 7h0m0-5h0m0 0h0m0 3h0m1 1h0m0-6h0m0 6h0m1-2h0m0 3h0m0-8h0m0 4h0m1-2h0m0-3h0m0 1h0m0-1h0m1 6h0m0 0h0m0 1h0m1-2h0m0 0h0m0-4h0m0 1h0m1 10h0m0-6h0m0-10h0m0 12h0m1-4h0m0 1h0m0-4h0m1 4h0m0-3h0m0 0h0m0 6h0m1-3h0m0-3h0m0-3h0m1 8h0m0-1h0m0 3h0m0-9h0m1 5h0m0 3h0m0-5h0m0 1h0m1-1h0m0-4h0m0 4h0m1 3h0m0-1h0m0-7h0m0 4h0m1 0h0m0-9h0m0 9h0m0-4h0m1-2h0m0 10h0m0-8h0m1 11h0m0-5h0m0 0h0m0-3h0m1 3h0m0-3h0m0 3h0m0 9h0m1-13h0m0 1h0m0 9h0m1-7h0m0-3h0m0 3h0m0 1h0m1-4h0m0 5h0m0 7h0m1-13h0m0 6h0m0-3h0m0 2h0m1-5h0m0 3h0m0-1h0m0 0h0m1-1h0m0 9h0m0-10h0m1 3h0m0-2h0m0 3h0m0 3h0m1-6h0m0 2h0m0 2h0m0 1h0m1-3h0m0 3h0m0-10h0m1 5h0m0 0h0m0 8h0m0-7h0m1 1h0m0 6h0m0 1h0m0-7h0m1 0h0m0 5h0m0-4h0m1 0h0m0-3h0m0 3h0m0-1h0m1 4h0m0-2h0m0-2h0m0 5h0m1-8h0m0 6h0m0 1h0m1 6h0m0-7h0m0-1h0m0-3h0m1 0h0m0 3h0m0 1h0m1-2h0m0-2h0m0 0h0m0 6h0m1-1h0m0-2h0m0 3h0m0-7h0m1 4h0m0 2h0m0-5h0m1-2h0m0 3h0m0 7h0m0-6h0m1 1h0m0 0h0m0 0h0m0 3h0m1-1h0m0-1h0m0-1h0m1 1h0m0-3h0m0 0h0m0-4h0m1 3h0m0 7h0m0-2h0m0 1h0m1 2h0m0 1h0m0-7h0m1-1h0m0 4h0m0 0h0m0 3h0m1-6h0m0 4h0m0-10h0m1 4h0m0-3h0m0 8h0m0 0h0m1-6h0m0 2h0m0-1h0m0 12h0m1-8h0m0 4h0m0-3h0m1-4h0m0-4h0m0 11h0m0-3h0m1-4h0m0 6h0m0-5h0m0 3h0m1 3h0m0-5h0m0-5h0m1 8h0m0-5h0m0-1h0m0 1h0m1-1h0m0 0h0m0 4h0m0-4h0m1 1h0m0 0h0m0 3h0m1-4h0m0 3h0m0-3h0m0 5h0m1-7h0m0-1h0m0 5h0m0 1h0m1 1h0m0 1h0m0-9h0m1 7h0m0 0h0m0-3h0m0-1h0m1 2h0m0-3h0m0 6h0m1 7h0m0-12h0m0 10h0m0-12h0m1 5h0m0-3h0m0 1h0m0 0h0m1 1h0m0 1h0m0-1h0m1-2h0m0 9h0m0-7h0m0 2h0m1-2h0m0-3h0m0 2h0m0 0h0m1 8h0m0-2h0m0-4h0m1 1h0m0 2h0m0-3h0m0 1h0m1-1h0m0-2h0m0 2h0m0 2h0m1-7h0m0 3h0m0-1h0m1 6h0m0 0h0m0-3h0m0 0h0m1 5h0m0-6h0m0 0h0m1 3h0m0 1h0m0-5h0m0 0h0m1 4h0m0 1h0m0-2h0m0 3h0m1-2h0m0 3h0m0-7h0m1 7h0m0-10h0m0-1h0m0 12h0m1-8h0m0 0h0m0 9h0m0-9h0m1 6h0m0-5h0m0 8h0m1-3h0m0-1h0m0-1h0m0-1h0m1-1h0m0-10h0m0 12h0m0-3h0m1 2h0m0 2h0m0 1h0m1-5h0m0-2h0m0-1h0m0 3h0m1-4h0m0 9h0m0-2h0m0-5h0m1 3h0m0 0h0m0-3h0m1 3h0m0 1h0m0-3h0m0-1h0m1 1h0m0 2h0m0 0h0m1-2h0m0 4h0m0 0h0m0-1h0m1-3h0m0 1h0m0 2h0m0 5h0m1-4h0m0 0h0m0 2h0m1 0h0m0-6h0m0 6h0m0 0h0m1-10h0m0 8h0m0 0h0m0 0h0m1-3h0m0 1h0m0-2h0m1 5h0m0-6h0m0-1h0m0 3h0m1-3h0m0 4h0m0-4h0m0 2h0m1 3h0m0-4h0m0 1h0m1 4h0m0 3h0m0 1h0"/>
<path stroke="#bfbf00" stroke-width="8.0" d="M195.5 2025.1L196.3 2025.1L197.1 2025.1L198.0 2025.1L198.8 2025.1L199.6 2025.1L200.4 2025.1L201.3 2025.2L202.1 2025.2L202.9 2025.2L203.7 2025.2L204.6 2025.2L205.4 2025.2L206.2 2025.2L207.0 2025.2L207.9 2025.3L208.7 2025.3L209.5 2025.3L210.3 2025.3L211.2 2025.3L212.0 2025.3L212.8 2025.3L213.6 2025.3L214.5 2025.3L215.3 2025.4L216.1 2025.4L216.9 2025.4L217.7 2025.4L218.6 2025.4L219.4 2025.4L220.2 2025.4L221.0 2025.4L221.9 2025.5L222.7 2025.5L223.5 2025.5L224.3 2025.5L225.2 2025.5L226.0 2025.5L226.8 2025.5L227.6 2025.5L228.5 2025.5L229.3 2025.6L230.1 2025.6L230.9 2025.6L231.8 2025.6L232.6 2025.6L233.4 2025.6L234.2 2025.6L235.1 2025.6L235.9 2025.6L236.7 2025.7L237.5 2025.7L238.4 2025.7L239.2 2025.7L240.0 2025.7L240.8 2025.7L241.6 2025.7L242.5 2025.7L243.3 2025.7L244.1 2025.8L244.9 2025.8L245.8 2025.8L246.6 2025.8L247.4 2025.8L248.2 2025.8L249.1 2025.8L249.9 2025.8L250.7 2025.8L251.5 2025.9L252.4 2025.9L253.2 2025.9L254.0 2025.9L254.8 2025.9L255.7 2025.9L256.5 2025.9L257.3 2025.9L258.1 2025.9L259.0 2026.0L259.8 2026.0L260.6 2026.0L261.4 2026.0L262.2 2026.0L263.1 2026.0L263.9 2026.0L264.7 2026.0L265.5 2026.0L266.4 2026.0L267.2 2026.1L268.0 2026.1L268.8 2026.1L269.7 2026.1L270.5 2026.1L271.3 2026.1L272.1 2026.1L273.0 2026.1L273.8 2026.1L274.6 2026.1L275.4 2026.2L276.3 2026.2L277.1 2026.2L277.9 2026.2L278.7 2026.2L279.6 2026.2L280.4 2026.2L281.2 2026.2L282.0 2026.2L282.9 2026.2L283.7 2026.2L284.5 2026.3L285.3 2026.3L286.1 2026.3L287.0 2026.3L287.8 2026.3L288.6 2026.3L289.4 2026.3L290.3 2026.3L291.1 2026.3L291.9 2026.3L292.7 2026.4L293.6 2026.4L294.4 2026.4L295.2 2026.4L296.0 2026.4L296.9 2026.4L297.7 2026.4L298.5 2026.4L299.3 2026.4L300.2 2026.4L301.0 2026.4L301.8 2026.5L302.6 2026.5L303.5 2026.5L304.3 2026.5L305.1 2026.5L305.9 2026.5L306.7 2026.5L307.6 2026.5L308.4 2026.5L309.2 2026.5L310.0 2026.5L310.9 2026.5L311.7 2026.6L312.5 2026.6L313.3 2026.6L314.2 2026.6L315.0 2026.6L315.8 2026.6L316.6 2026.6L317.5 2026.6L318.3 2026.6L319.1 2026.6L319.9 2026.6L320.8 2026.7L321.6 2026.7L322.4 2026.7L323.2 2026.7L324.1 2026.7L324.9 2026.7L325.7 2026.7L326.5 2026.7L327.4 2026.7L328.2 2026.7L329.0 2026.7L329.8 2026.7L330.6 2026.8L331.5 2026.8L332.3 2026.8L333.1 2026.8L333.9 2026.8L334.8 2026.8L335.6 2026.8L336.4 2026.8L337.2 2026.8L338.1 2026.8L338.9 2026.8L339.7 2026.8L340.5 2026.9L341.4 2026.9L342.2 2026.9L343.0 2026.9L343.8 2026.9L344.7 2026.9L345.5 2026.9L346.3 2026.9L347.1 2026.9L348.0 2026.9L348.8 2026.9L349.6 2026.9L350.4 2026.9L351.2 2027.0L352.1 2027.0L352.9 2027.0L353.7 2027.0L354.5 2027.0L355.4 2027.0L356.2 2027.0L357.0 2027.0L357.8 2027.0L358.7 2027.0L359.5 2027.0L360.3 2027.0L361.1 2027.1L362.0 2027.1L362.8 2027.1L363.6 2027.1L364.4 2027.1L365.3 2027.1L366.1 2027.1L366.9 2027.1L367.7 2027.1L368.6 2027.1L369.4 2027.1L370.2 2027.1L371.0 2027.1L371.8 2027.1L372.7 2027.2L373.5 2027.2L374.3 2027.2L375.1 2027.2L376.0 2027.2L376.8 2027.2L377.6 2027.2L378.4 2027.2L379.3 2027.2L380.1 2027.2L380.9 2027.2L381.7 2027.2L382.6 2027.2L383.4 2027.3L384.2 2027.3L385.0 2027.3L385.9 2027.3L386.7 2027.3L387.5 2027.3L388.3 2027.3L389.2 2027.3L390.0 2027.3L390.8 2027.3L391.6 2027.3L392.5 2027.3L393.3 2027.3L394.1 2027.4L394.9 2027.4L395.7 2027.4L396.6 2027.4L397.4 2027.4L398.2 2027.4L399.0 2027.4L399.9 2027.4L400.7 2027.4L401.5 2027.4L402.3 2027.4L403.2 2027.4L404.0 2027.4L404.8 2027.4L405.6 2027.5L406.5 2027.5L407.3 2027.5L408.1 2027.5L408.9 2027.5L409.8 2027.5L410.6 2027.5L411.4 2027.5L412.2 2027.5L413.1 2027.5L413.9 2027.5L414.7 2027.5L415.5 2027.5L416.3 2027.5L417.2 2027.6L418.0 2027.6L418.8 2027.6L419.6 2027.6L420.5 2027.6L421.3 2027.6L422.1 2027.6L422.9 2027.6L423.8 2027.6L424.6 2027.6L425.4 2027.6L426.2 2027.6L427.1 2027.6L427.9 2027.6L428.7 2027.7L429.5 2027.7L430.4 2027.7L431.2 2027.7L432.0 2027.7L432.8 2027.7L433.7 2027.7L434.5 2027.7L435.3 2027.7L436.1 2027.7L437.0 2027.7L437.8 2027.7L438.6 2027.7L439.4 2027.7L440.2 2027.7L441.1 2027.8L441.9 2027.8L442.7 2027.8L443.5 2027.8L444.4 2027.8L445.2 2027.8L446.0 2027.8L446.8 2027.8L447.7 2027.8L448.5 2027.8L449.3 2027.8L450.1 2027.8L451.0 2027.8L451.8 2027.8L452.6 2027.9L453.4 2027.9L454.3 2027.9L455.1 2027.9L455.9 2027.9L456.7 2027.9L457.6 2027.9L458.4 2027.9L459.2 2027.9L460.0 2027.9L460.8 2027.9L461.7 2027.9L462.5 2027.9L463.3 2027.9L464.1 2028.0L465.0 2028.0L465.8 2028.0L466.6 2028.0L467.4 2028.0L468.3 2028.0L469.1 2028.0L469.9 2028.0L470.7 2028.0L471.6 2028.0L472.4 2028.0L473.2 2028.0L474.0 2028.0L474.9 2028.0L475.7 2028.1L476.5 2028.1L477.3 2028.1L478.2 2028.1L479.0 2028.1L479.8 2028.1L480.6 2028.1L481.4 2028.1L482.3 2028.1L483.1 2028.1L483.9 2028.1L484.7 2028.1L485.6 2028.1L486.4 2028.1L487.2 2028.2L488.0 2028.2L488.9 2028.2L489.7 2028.2L490.5 2028.2L491.3 2028.2L492.2 2028.2L493.0 2028.2L493.8 2028.2L494.6 2028.2L495.5 2028.2L496.3 2028.2L497.1 2028.2L497.9 2028.2L498.8 2028.3L499.6 2028.3L500.4 2028.3L501.2 2028.3L502.1 2028.3L502.9 2028.3L503.7 2028.3L504.5 2028.3L505.3 2028.3L506.2 2028.3L507.0 2028.3L507.8 2028.3L508.6 2028.3L509.5 2028.4L510.3 2028.4L511.1 2028.4L511.9 2028.4L512.8 2028.4L513.6 2028.4L514.4 2028.4L515.2 2028.4L516.1 2028.4L516.9 2028.4L517.7 2028.4L518.5 2028.4L519.4 2028.4L520.2 2028.4L521.0 2028.5L521.8 2028.5L522.7 2028.5L523.5 2028.5L524.3 2028.5L525.1 2028.5L525.9 2028.5L526.8 2028.5L527.6 2028.5L528.4 2028.5L529.2 2028.5L530.1 2028.5L530.9 2028.5L531.7 2028.6L532.5 2028.6L533.4 2028.6L534.2 2028.6L535.0 2028.6L535.8 2028.6L536.7 2028.6L537.5 2028.6L538.3 2028.6L539.1 2028.6L540.0 2028.6L540.8 2028.6L541.6 2028.7L542.4 2028.7L543.3 2028.7L544.1 2028.7L544.9 2028.7L545.7 2028.7L546.6 2028.7L547.4 2028.7L548.2 2028.7L549.0 2028.7L549.8 2028.7L550.7 2028.7L551.5 2028.7L552.3 2028.8L553.1 2028.8L554.0 2028.8L554.8 2028.8L555.6 2028.8L556.4 2028.8L557.3 2028.8L558.1 2028.8L558.9 2028.8L559.7 2028.8L560.6 2028.8L561.4 2028.9L562.2 2028.9L563.0 2028.9L563.9 2028.9L564.7 2028.9L565.5 2028.9L566.3 2028.9L567.2 2028.9L568.0 2028.9L568.8 2028.9L569.6 2028.9L570.4 2028.9L571.3 2029.0L572.1 2029.0L572.9 2029.0L573.7 2029.0L574.6 2029.0L575.4 2029.0L576.2 2029.0L577.0 2029.0L577.9 2029.0L578.7 2029.0L579.5 2029.0L580.3 2029.1L581.2 2029.1L582.0 2029.1L582.8 2029.1L583.6 2029.1L584.5 2029.1L585.3 2029.1L586.1 2029.1L586.9 2029.1L587.8 2029.1L588.6 2029.1L589.4 2029.2L590.2 2029.2L591.1 2029.2L591.9 2029.2L592.7 2029.2L593.5 2029.2L594.3 2029.2L595.2 2029.2L596.0 2029.2L596.8 2029.2L597.6 2029.2L598.5 2029.3L599.3 2029.3L600.1 2029.3L600.9 2029.3L601.8 2029.3L602.6 2029.3L603.4 2029.3L604.2 2029.3L605.1 2029.3L605.9 2029.3L606.7 2029.4L607.5 2029.4L608.4 2029.4L609.2 2029.4L610.0 2029.4L610.8 2029.4L611.7 2029.4L612.5 2029.4L613.3 2029.4L614.1 2029.4L614.9 2029.5L615.8 2029.5L616.6 2029.5L617.4 2029.5L618.2 2029.5L619.1 2029.5L619.9 2029.5L620.7 2029.5L621.5 2029.5L622.4 2029.6L623.2 2029.6L624.0 2029.6L624.8 2029.6L625.7 2029.6L626.5 2029.6L627.3 2029.6L628.1 2029.6L629.0 2029.6L629.8 2029.7L630.6 2029.7L631.4 2029.7L632.3 2029.7L633.1 2029.7L633.9 2029.7L634.7 2029.7L635.5 2029.7L636.4 2029.7L637.2 2029.8L638.0 2029.8L638.8 2029.8L639.7 2029.8L640.5 2029.8L641.3 2029.8L642.1 2029.8L643.0 2029.8L643.8 2029.8L644.6 2029.9L645.4 2029.9L646.3 2029.9L647.1 2029.9L647.9 2029.9L648.7 2029.9L649.6 2029.9L650.4 2029.9L651.2 2030.0L652.0 2030.0L652.9 2030.0L653.7 2030.0L654.5 2030.0L655.3 2030.0L656.2 2030.0L657.0 2030.0L657.8 2030.1L658.6 2030.1L659.4 2030.1L660.3 2030.1L661.1 2030.1L661.9 2030.1L662.7 2030.1L663.6 2030.1L664.4 2030.2L665.2 2030.2L666.0 2030.2L666.9 2030.2L667.7 2030.2L668.5 2030.2L669.3 2030.2L670.2 2030.2L671.0 2030.3L671.8 2030.3L672.6 2030.3L673.5 2030.3L674.3 2030.3L675.1 2030.3L675.9 2030.3L676.8 2030.4L677.6 2030.4L678.4 2030.4L679.2 2030.4L680.0 2030.4L680.9 2030.4L681.7 2030.4L682.5 2030.5L683.3 2030.5L684.2 2030.5L685.0 2030.5L685.8 2030.5L686.6 2030.5L687.5 2030.5L688.3 2030.5L689.1 2030.6L689.9 2030.6L690.8 2030.6L691.6 2030.6L692.4 2030.6L693.2 2030.6L694.1 2030.7L694.9 2030.7L695.7 2030.7L696.5 2030.7L697.4 2030.7L698.2 2030.7L699.0 2030.7L699.8 2030.8L700.7 2030.8L701.5 2030.8L702.3 2030.8L703.1 2030.8L703.9 2030.8L704.8 2030.9L705.6 2030.9L706.4 2030.9L707.2 2030.9L708.1 2030.9L708.9 2030.9L709.7 2030.9L710.5 2031.0L711.4 2031.0L712.2 2031.0L713.0 2031.0L713.8 2031.0L714.7 2031.0L715.5 2031.1L716.3 2031.1L717.1 2031.1L718.0 2031.1L718.8 2031.1L719.6 2031.1L720.4 2031.2L721.3 2031.2L722.1 2031.2L722.9 2031.2L723.7 2031.2L724.5 2031.2L725.4 2031.3L726.2 2031.3L727.0 2031.3L727.8 2031.3L728.7 2031.3L729.5 2031.3L730.3 2031.4L731.1 2031.4L732.0 2031.4L732.8 2031.4L733.6 2031.4L734.4 2031.5L735.3 2031.5L736.1 2031.5L736.9 2031.5L737.7 2031.5L738.6 2031.5L739.4 2031.6L740.2 2031.6L741.0 2031.6L741.9 2031.6L742.7 2031.6L743.5 2031.7L744.3 2031.7L745.1 2031.7L746.0 2031.7L746.8 2031.7L747.6 2031.8L748.4 2031.8L749.3 2031.8L750.1 2031.8L750.9 2031.8L751.7 2031.9L752.6 2031.9L753.4 2031.9L754.2 2031.9L755.0 2031.9L755.9 2032.0L756.7 2032.0L757.5 2032.0L758.3 2032.0L759.2 2032.0L760.0 2032.1L760.8 2032.1L761.6 2032.1L762.5 2032.1L763.3 2032.1L764.1 2032.2L764.9 2032.2L765.8 2032.2L766.6 2032.2L767.4 2032.2L768.2 2032.3L769.0 2032.3L769.9 2032.3L770.7 2032.3L771.5 2032.4L772.3 2032.4L773.2 2032.4L774.0 2032.4L774.8 2032.4L775.6 2032.5L776.5 2032.5L777.3 2032.5L778.1 2032.5L778.9 2032.6L779.8 2032.6L780.6 2032.6L781.4 2032.6L782.2 2032.6L783.1 2032.7L783.9 2032.7L784.7 2032.7L785.5 2032.7L786.4 2032.8L787.2 2032.8L788.0 2032.8L788.8 2032.8L789.6 2032.9L790.5 2032.9L791.3 2032.9L792.1 2032.9L792.9 2033.0L793.8 2033.0L794.6 2033.0L795.4 2033.0L796.2 2033.1L797.1 2033.1L797.9 2033.1L798.7 2033.1L799.5 2033.2L800.4 2033.2L801.2 2033.2L802.0 2033.2L802.8 2033.3L803.7 2033.3L804.5 2033.3L805.3 2033.3L806.1 2033.4L807.0 2033.4L807.8 2033.4L808.6 2033.4L809.4 2033.5L810.3 2033.5L811.1 2033.5L811.9 2033.5L812.7 2033.6L813.5 2033.6L814.4 2033.6L815.2 2033.7L816.0 2033.7L816.8 2033.7L817.7 2033.7L818.5 2033.8L819.3 2033.8L820.1 2033.8L821.0 2033.8L821.8 2033.9L822.6 2033.9L823.4 2033.9L824.3 2034.0L825.1 2034.0L825.9 2034.0L826.7 2034.0L827.6 2034.1L828.4 2034.1L829.2 2034.1L830.0 2034.2L830.9 2034.2L831.7 2034.2L832.5 2034.3L833.3 2034.3L834.1 2034.3L835.0 2034.3L835.8 2034.4L836.6 2034.4L837.4 2034.4L838.3 2034.5L839.1 2034.5L839.9 2034.5L840.7 2034.6L841.6 2034.6L842.4 2034.6L843.2 2034.7L844.0 2034.7L844.9 2034.7L845.7 2034.8L846.5 2034.8L847.3 2034.8L848.2 2034.9L849.0 2034.9L849.8 2034.9L850.6 2035.0L851.5 2035.0L852.3 2035.0L853.1 2035.1L853.9 2035.1L854.8 2035.1L855.6 2035.2L856.4 2035.2L857.2 2035.2L858.0 2035.3L858.9 2035.3L859.7 2035.3L860.5 2035.4L861.3 2035.4L862.2 2035.4L863.0 2035.5L863.8 2035.5L864.6 2035.5L865.5 2035.6L866.3 2035.6L867.1 2035.6L867.9 2035.7L868.8 2035.7L869.6 2035.8L870.4 2035.8L871.2 2035.8L872.1 2035.9L872.9 2035.9L873.7 2035.9L874.5 2036.0L875.4 2036.0L876.2 2036.1L877.0 2036.1L877.8 2036.1L878.6 2036.2L879.5 2036.2L880.3 2036.2L881.1 2036.3L881.9 2036.3L882.8 2036.4L883.6 2036.4L884.4 2036.4L885.2 2036.5L886.1 2036.5L886.9 2036.6L887.7 2036.6L888.5 2036.6L889.4 2036.7L890.2 2036.7L891.0 2036.8L891.8 2036.8L892.7 2036.9L893.5 2036.9L894.3 2036.9L895.1 2037.0L896.0 2037.0L896.8 2037.1L897.6 2037.1L898.4 2037.2L899.2 2037.2L900.1 2037.2L900.9 2037.3L901.7 2037.3L902.5 2037.4L903.4 2037.4L904.2 2037.5L905.0 2037.5L905.8 2037.5L906.7 2037.6L907.5 2037.6L908.3 2037.7L909.1 2037.7L910.0 2037.8L910.8 2037.8L911.6 2037.9L912.4 2037.9L913.3 2038.0L914.1 2038.0L914.9 2038.1L915.7 2038.1L916.6 2038.2L917.4 2038.2L918.2 2038.3L919.0 2038.3L919.9 2038.3L920.7 2038.4L921.5 2038.4L922.3 2038.5L923.1 2038.5L924.0 2038.6L924.8 2038.6L925.6 2038.7L926.4 2038.7L927.3 2038.8L928.1 2038.8L928.9 2038.9L929.7 2039.0L930.6 2039.0L931.4 2039.1L932.2 2039.1L933.0 2039.2L933.9 2039.2L934.7 2039.3L935.5 2039.3L936.3 2039.4L937.2 2039.4L938.0 2039.5L938.8 2039.5L939.6 2039.6L940.5 2039.6L941.3 2039.7L942.1 2039.8L942.9 2039.8L943.7 2039.9L944.6 2039.9L945.4 2040.0L946.2 2040.0L947.0 2040.1L947.9 2040.2L948.7 2040.2L949.5 2040.3L950.3 2040.3L951.2 2040.4L952.0 2040.5L952.8 2040.5L953.6 2040.6L954.5 2040.6L955.3 2040.7L956.1 2040.8L956.9 2040.8L957.8 2040.9L958.6 2040.9L959.4 2041.0L960.2 2041.1L961.1 2041.1L961.9 2041.2L962.7 2041.2L963.5 2041.3L964.4 2041.4L965.2 2041.4L966.0 2041.5L966.8 2041.6L967.6 2041.6L968.5 2041.7L969.3 2041.8L970.1 2041.8L970.9 2041.9L971.8 2042.0L972.6 2042.0L973.4 2042.1L974.2 2042.2L975.1 2042.2L975.9 2042.3L976.7 2042.4L977.5 2042.4L978.4 2042.5L979.2 2042.6L980.0 2042.7L980.8 2042.7L981.7 2042.8L982.5 2042.9L983.3 2042.9L984.1 2043.0L985.0 2043.1L985.8 2043.2L986.6 2043.2L987.4 2043.3L988.2 2043.4L989.1 2043.5L989.9 2043.5L990.7 2043.6L991.5 2043.7L992.4 2043.8L993.2 2043.8L994.0 2043.9L994.8 2044.0L995.7 2044.1L996.5 2044.2L997.3 2044.2L998.1 2044.3L999.0 2044.4L999.8 2044.5L1000.6 2044.6L1001.4 2044.6L1002.3 2044.7L1003.1 2044.8L1003.9 2044.9L1004.7 2045.0L1005.6 2045.1L1006.4 2045.1L1007.2 2045.2L1008.0 2045.3L1008.8 2045.4L1009.7 2045.5L1010.5 2045.6L1011.3 2045.7L1012.1 2045.7L1013.0 2045.8L1013.8 2045.9L1014.6 2046.0L1015.4 2046.1L1016.3 2046.2L1017.1 2046.3L1017.9 2046.4L1018.7 2046.5L1019.6 2046.6L1020.4 2046.6L1021.2 2046.7L1022.0 2046.8L1022.9 2046.9L1023.7 2047.0L1024.5 2047.1L1025.3 2047.2L1026.2 2047.3L1027.0 2047.4L1027.8 2047.5L1028.6 2047.6L1029.5 2047.7L1030.3 2047.8L1031.1 2047.9L1031.9 2048.0L1032.7 2048.1L1033.6 2048.2L1034.4 2048.3L1035.2 2048.4L1036.0 2048.5L1036.9 2048.6L1037.7 2048.7L1038.5 2048.8L1039.3 2049.0L1040.2 2049.1L1041.0 2049.2L1041.8 2049.3L1042.6 2049.4L1043.5 2049.5L1044.3 2049.6L1045.1 2049.7L1045.9 2049.8L1046.8 2049.9L1047.6 2050.1L1048.4 2050.2L1049.2 2050.3L1050.1 2050.4L1050.9 2050.5L1051.7 2050.6L1052.5 2050.8L1053.3 2050.9L1054.2 2051.0L1055.0 2051.1L1055.8 2051.2L1056.6 2051.4L1057.5 2051.5L1058.3 2051.6L1059.1 2051.7L1059.9 2051.9L1060.8 2052.0L1061.6 2052.1L1062.4 2052.2L1063.2 2052.4L1064.1 2052.5L1064.9 2052.6L1065.7 2052.8L1066.5 2052.9L1067.4 2053.0L1068.2 2053.2L1069.0 2053.3L1069.8 2053.4L1070.7 2053.6L1071.5 2053.7L1072.3 2053.9L1073.1 2054.0L1074.0 2054.1L1074.8 2054.3L1075.6 2054.4L1076.4 2054.6L1077.2 2054.7L1078.1 2054.9L1078.9 2055.0L1079.7 2055.2L1080.5 2055.3L1081.4 2055.5L1082.2 2055.6L1083.0 2055.8L1083.8 2055.9L1084.7 2056.1L1085.5 2056.2L1086.3 2056.4L1087.1 2056.6L1088.0 2056.7L1088.8 2056.9L1089.6 2057.0L1090.4 2057.2L1091.3 2057.4L1092.1 2057.5L1092.9 2057.7L1093.7 2057.9L1094.6 2058.0L1095.4 2058.2L1096.2 2058.4L1097.0 2058.6L1097.8 2058.7L1098.7 2058.9L1099.5 2059.1L1100.3 2059.3L1101.1 2059.4L1102.0 2059.6L1102.8 2059.8L1103.6 2060.0L1104.4 2060.2L1105.3 2060.4L1106.1 2060.6L1106.9 2060.8L1107.7 2061.0L1108.6 2061.1L1109.4 2061.3L1110.2 2061.5L1111.0 2061.7L1111.9 2061.9L1112.7 2062.1L1113.5 2062.3L1114.3 2062.6L1115.2 2062.8L1116.0 2063.0L1116.8 2063.2L1117.6 2063.4L1118.4 2063.6L1119.3 2063.8L1120.1 2064.1L1120.9 2064.3L1121.7 2064.5L1122.6 2064.7L1123.4 2064.9L1124.2 2065.2L1125.0 2065.4L1125.9 2065.6L1126.7 2065.9L1127.5 2066.1L1128.3 2066.4L1129.2 2066.6L1130.0 2066.8L1130.8 2067.1L1131.6 2067.3L1132.5 2067.6L1133.3 2067.8L1134.1 2068.1L1134.9 2068.4L1135.8 2068.6L1136.6 2068.9L1137.4 2069.1L1138.2 2069.4L1139.1 2069.7L1139.9 2070.0L1140.7 2070.2L1141.5 2070.5L1142.3 2070.8L1143.2 2071.1L1144.0 2071.4L1144.8 2071.6L1145.6 2071.9L1146.5 2072.2L1147.3 2072.5L1148.1 2072.8L1148.9 2073.1L1149.8 2073.4L1150.6 2073.8L1151.4 2074.1L1152.2 2074.4L1153.1 2074.7L1153.9 2075.0L1154.7 2075.4L1155.5 2075.7L1156.4 2076.0L1157.2 2076.4L1158.0 2076.7L1158.8 2077.1L1159.7 2077.4L1160.5 2077.8L1161.3 2078.1L1162.1 2078.5L1162.9 2078.8L1163.8 2079.2L1164.6 2079.6L1165.4 2080.0L1166.2 2080.3L1167.1 2080.7L1167.9 2081.1L1168.7 2081.5L1169.5 2081.9L1170.4 2082.3L1171.2 2082.7L1172.0 2083.1L1172.8 2083.6L1173.7 2084.0L1174.5 2084.4L1175.3 2084.8L1176.1 2085.3L1177.0 2085.7L1177.8 2086.2L1178.6 2086.6L1179.4 2087.1L1180.3 2087.6L1181.1 2088.0L1181.9 2088.5L1182.7 2089.0L1183.6 2089.5L1184.4 2090.0L1185.2 2090.5L1186.0 2091.0L1186.8 2091.5L1187.7 2092.0L1188.5 2092.6L1189.3 2093.1L1190.1 2093.6L1191.0 2094.2L1191.8 2094.7L1192.6 2095.3L1193.4 2095.9L1194.3 2096.5L1195.1 2097.1L1195.9 2097.7L1196.7 2098.3L1197.6 2098.9L1198.4 2099.5L1199.2 2100.1L1200.0 2100.8L1200.9 2101.4L1201.7 2102.1L1202.5 2102.7L1203.3 2103.4L1204.2 2104.1L1205.0 2104.8L1205.8 2105.5L1206.6 2106.2L1207.4 2107.0L1208.3 2107.7L1209.1 2108.4L1209.9 2109.2L1210.7 2110.0L1211.6 2110.8L1212.4 2111.5L1213.2 2112.3L1214.0 2113.2L1214.9 2114.0L1215.7 2114.8L1216.5 2115.7L1217.3 2116.5L1218.2 2117.4L1219.0 2118.3L1219.8 2119.2L1220.6 2120.1L1221.5 2121.0L1222.3 2122.0L1223.1 2122.9L1223.9 2123.9L1224.8 2124.9L1225.6 2125.9L1226.4 2126.9L1227.2 2127.9L1228.1 2129.0L1228.9 2130.0L1229.7 2131.1L1230.5 2132.2L1231.3 2133.3L1232.2 2134.4L1233.0 2135.5L1233.8 2136.7L1234.6 2137.9L1235.5 2139.1L1236.3 2140.3L1237.1 2141.5L1237.9 2142.8L1238.8 2144.0L1239.6 2145.3L1240.4 2146.6L1241.2 2148.0L1242.1 2149.3L1242.9 2150.7L1243.7 2152.1L1244.5 2153.5L1245.4 2155.0L1246.2 2156.5L1247.0 2158.0L1247.8 2159.5L1248.7 2161.1L1249.5 2162.7L1250.3 2164.3L1251.1 2165.9L1251.9 2167.6L1252.8 2169.3L1253.6 2171.0L1254.4 2172.8L1255.2 2174.6L1256.1 2176.4L1256.9 2178.3L1257.7 2180.1L1258.5 2182.1L1259.4 2184.0L1260.2 2186.0L1261.0 2188.0L1261.8 2190.0L1262.7 2192.1L1263.5 2194.2L1264.3 2196.4L1265.1 2198.6L1266.0 2200.8L1266.8 2203.0L1267.6 2205.3L1268.4 2207.6L1269.3 2209.9L1270.1 2212.3L1270.9 2214.7L1271.7 2217.1L1272.5 2219.6L1273.4 2222.0L1274.2 2224.5L1275.0 2227.0L1275.8 2229.6L1276.7 2232.2L1277.5 2234.7L1278.3 2237.3L1279.1 2240.0L1280.0 2242.6L1280.8 2245.3L1281.6 2247.9L1282.4 2250.6L1283.3 2253.3L1284.1 2256.0L1284.9 2258.7L1285.7 2261.4L1286.6 2264.1L1287.4 2266.8L1288.2 2269.5L1289.0 2272.2L1289.9 2274.9"/>
<path stroke="#bfbf00" stroke-width="8.0" d="M1290.1 1276.7L1291.0 1279.4L1291.8 1282.1L1292.6 1284.8L1293.4 1287.5L1294.2 1290.1L1295.1 1292.8L1295.9 1295.4L1296.7 1298.0L1297.5 1300.6L1298.4 1303.2L1299.2 1305.7L1300.0 1308.3L1300.8 1310.8L1301.7 1313.3L1302.5 1315.7L1303.3 1318.2L1304.1 1320.6L1305.0 1323.0L1305.8 1325.4L1306.6 1327.7L1307.4 1330.0L1308.3 1332.3L1309.1 1334.6L1309.9 1336.8L1310.7 1339.0L1311.6 1341.2L1312.4 1343.3L1313.2 1345.5L1314.0 1347.5L1314.9 1349.6L1315.7 1351.6L1316.5 1353.6L1317.3 1355.6L1318.1 1357.5L1319.0 1359.4L1319.8 1361.3L1320.6 1363.2L1321.4 1365.0L1322.3 1366.8L1323.1 1368.6L1323.9 1370.3L1324.7 1372.0L1325.6 1373.7L1326.4 1375.4L1327.2 1377.0L1328.0 1378.6L1328.9 1380.2L1329.7 1381.8L1330.5 1383.3L1331.3 1384.8L1332.2 1386.3L1333.0 1387.7L1333.8 1389.1L1334.6 1390.5L1335.5 1391.9L1336.3 1393.3L1337.1 1394.6L1337.9 1395.9L1338.7 1397.2L1339.6 1398.5L1340.4 1399.8L1341.2 1401.0L1342.0 1402.2L1342.9 1403.4L1343.7 1404.5L1344.5 1405.7L1345.3 1406.8L1346.2 1407.9L1347.0 1409.0L1347.8 1410.1L1348.6 1411.1L1349.5 1412.2L1350.3 1413.2L1351.1 1414.2L1351.9 1415.2L1352.8 1416.2L1353.6 1417.1L1354.4 1418.1L1355.2 1419.0L1356.1 1419.9L1356.9 1420.8L1357.7 1421.7L1358.5 1422.6L1359.4 1423.4L1360.2 1424.3L1361.0 1425.1L1361.8 1425.9L1362.6 1426.7L1363.5 1427.5L1364.3 1428.3L1365.1 1429.0L1365.9 1429.8L1366.8 1430.5L1367.6 1431.3L1368.4 1432.0L1369.2 1432.7L1370.1 1433.4L1370.9 1434.1L1371.7 1434.8L1372.5 1435.4L1373.4 1436.1L1374.2 1436.8L1375.0 1437.4L1375.8 1438.0L1376.7 1438.7L1377.5 1439.3L1378.3 1439.9L1379.1 1440.5L1380.0 1441.1L1380.8 1441.6L1381.6 1442.2L1382.4 1442.8L1383.2 1443.3L1384.1 1443.9L1384.9 1444.4L1385.7 1445.0L1386.5 1445.5L1387.4 1446.0L1388.2 1446.5L1389.0 1447.1L1389.8 1447.6L1390.7 1448.0L1391.5 1448.5L1392.3 1449.0L1393.1 1449.5L1394.0 1450.0L1394.8 1450.4L1395.6 1450.9L1396.4 1451.3L1397.3 1451.8L1398.1 1452.2L1398.9 1452.7L1399.7 1453.1L1400.6 1453.5L1401.4 1454.0L1402.2 1454.4L1403.0 1454.8L1403.9 1455.2L1404.7 1455.6L1405.5 1456.0L1406.3 1456.4L1407.1 1456.8L1408.0 1457.1L1408.8 1457.5L1409.6 1457.9L1410.4 1458.3L1411.3 1458.6L1412.1 1459.0L1412.9 1459.4L1413.7 1459.7L1414.6 1460.1L1415.4 1460.4L1416.2 1460.7L1417.0 1461.1L1417.9 1461.4L1418.7 1461.7L1419.5 1462.1L1420.3 1462.4L1421.2 1462.7L1422.0 1463.0L1422.8 1463.3L1423.6 1463.7L1424.5 1464.0L1425.3 1464.3L1426.1 1464.6L1426.9 1464.9L1427.7 1465.2L1428.6 1465.5L1429.4 1465.7L1430.2 1466.0L1431.0 1466.3L1431.9 1466.6L1432.7 1466.9L1433.5 1467.1L1434.3 1467.4L1435.2 1467.7L1436.0 1467.9L1436.8 1468.2L1437.6 1468.5L1438.5 1468.7L1439.3 1469.0L1440.1 1469.2L1440.9 1469.5L1441.8 1469.7L1442.6 1470.0L1443.4 1470.2L1444.2 1470.5L1445.1 1470.7L1445.9 1470.9L1446.7 1471.2L1447.5 1471.4L1448.3 1471.6L1449.2 1471.9L1450.0 1472.1L1450.8 1472.3L1451.6 1472.5L1452.5 1472.8L1453.3 1473.0L1454.1 1473.2L1454.9 1473.4L1455.8 1473.6L1456.6 1473.8L1457.4 1474.0L1458.2 1474.2L1459.1 1474.5L1459.9 1474.7L1460.7 1474.9L1461.5 1475.1L1462.4 1475.3L1463.2 1475.4L1464.0 1475.6L1464.8 1475.8L1465.7 1476.0L1466.5 1476.2L1467.3 1476.4L1468.1 1476.6L1469.0 1476.8L1469.8 1477.0L1470.6 1477.1L1471.4 1477.3L1472.2 1477.5L1473.1 1477.7L1473.9 1477.8L1474.7 1478.0L1475.5 1478.2L1476.4 1478.4L1477.2 1478.5L1478.0 1478.7L1478.8 1478.9L1479.7 1479.0L1480.5 1479.2L1481.3 1479.4L1482.1 1479.5L1483.0 1479.7L1483.8 1479.8L1484.6 1480.0L1485.4 1480.2L1486.3 1480.3L1487.1 1480.5L1487.9 1480.6L1488.7 1480.8L1489.6 1480.9L1490.4 1481.1L1491.2 1481.2L1492.0 1481.4L1492.8 1481.5L1493.7 1481.7L1494.5 1481.8L1495.3 1481.9L1496.1 1482.1L1497.0 1482.2L1497.8 1482.4L1498.6 1482.5L1499.4 1482.6L1500.3 1482.8L1501.1 1482.9L1501.9 1483.1L1502.7 1483.2L1503.6 1483.3L1504.4 1483.4L1505.2 1483.6L1506.0 1483.7L1506.9 1483.8L1507.7 1484.0L1508.5 1484.1L1509.3 1484.2L1510.2 1484.3L1511.0 1484.5L1511.8 1484.6L1512.6 1484.7L1513.5 1484.8L1514.3 1485.0L1515.1 1485.1L1515.9 1485.2L1516.7 1485.3L1517.6 1485.4L1518.4 1485.5L1519.2 1485.7L1520.0 1485.8L1520.9 1485.9L1521.7 1486.0L1522.5 1486.1L1523.3 1486.2L1524.2 1486.3L1525.0 1486.5L1525.8 1486.6L1526.6 1486.7L1527.5 1486.8L1528.3 1486.9L1529.1 1487.0L1529.9 1487.1L1530.8 1487.2L1531.6 1487.3L1532.4 1487.4L1533.2 1487.5L1534.1 1487.6L1534.9 1487.7L1535.7 1487.8L1536.5 1487.9L1537.3 1488.0L1538.2 1488.1L1539.0 1488.2L1539.8 1488.3L1540.6 1488.4L1541.5 1488.5L1542.3 1488.6L1543.1 1488.7L1543.9 1488.8L1544.8 1488.9L1545.6 1489.0L1546.4 1489.1L1547.2 1489.2L1548.1 1489.3L1548.9 1489.4L1549.7 1489.5L1550.5 1489.6L1551.4 1489.6L1552.2 1489.7L1553.0 1489.8L1553.8 1489.9L1554.7 1490.0L1555.5 1490.1L1556.3 1490.2L1557.1 1490.3L1558.0 1490.3L1558.8 1490.4L1559.6 1490.5L1560.4 1490.6L1561.2 1490.7L1562.1 1490.8L1562.9 1490.8L1563.7 1490.9L1564.5 1491.0L1565.4 1491.1L1566.2 1491.2L1567.0 1491.3L1567.8 1491.3L1568.7 1491.4L1569.5 1491.5L1570.3 1491.6L1571.1 1491.7L1572.0 1491.7L1572.8 1491.8L1573.6 1491.9L1574.4 1492.0L1575.3 1492.0L1576.1 1492.1L1576.9 1492.2L1577.7 1492.3L1578.6 1492.3L1579.4 1492.4L1580.2 1492.5L1581.0 1492.6L1581.8 1492.6L1582.7 1492.7L1583.5 1492.8L1584.3 1492.8L1585.1 1492.9L1586.0 1493.0L1586.8 1493.1L1587.6 1493.1L1588.4 1493.2L1589.3 1493.3L1590.1 1493.3L1590.9 1493.4L1591.7 1493.5L1592.6 1493.5L1593.4 1493.6L1594.2 1493.7L1595.0 1493.7L1595.9 1493.8L1596.7 1493.9L1597.5 1493.9L1598.3 1494.0L1599.2 1494.1L1600.0 1494.1L1600.8 1494.2L1601.6 1494.3L1602.4 1494.3L1603.3 1494.4L1604.1 1494.4L1604.9 1494.5L1605.7 1494.6L1606.6 1494.6L1607.4 1494.7L1608.2 1494.8L1609.0 1494.8L1609.9 1494.9L1610.7 1494.9L1611.5 1495.0L1612.3 1495.1L1613.2 1495.1L1614.0 1495.2L1614.8 1495.2L1615.6 1495.3L1616.5 1495.3L1617.3 1495.4L1618.1 1495.5L1618.9 1495.5L1619.8 1495.6L1620.6 1495.6L1621.4 1495.7L1622.2 1495.7L1623.1 1495.8L1623.9 1495.9L1624.7 1495.9L1625.5 1496.0L1626.3 1496.0L1627.2 1496.1L1628.0 1496.1L1628.8 1496.2L1629.6 1496.2L1630.5 1496.3L1631.3 1496.3L1632.1 1496.4L1632.9 1496.4L1633.8 1496.5L1634.6 1496.6L1635.4 1496.6L1636.2 1496.7L1637.1 1496.7L1637.9 1496.8L1638.7 1496.8L1639.5 1496.9L1640.4 1496.9L1641.2 1497.0L1642.0 1497.0L1642.8 1497.1L1643.7 1497.1L1644.5 1497.2L1645.3 1497.2L1646.1 1497.3L1646.9 1497.3L1647.8 1497.4L1648.6 1497.4L1649.4 1497.4L1650.2 1497.5L1651.1 1497.5L1651.9 1497.6L1652.7 1497.6L1653.5 1497.7L1654.4 1497.7L1655.2 1497.8L1656.0 1497.8L1656.8 1497.9L1657.7 1497.9L1658.5 1498.0L1659.3 1498.0L1660.1 1498.0L1661.0 1498.1L1661.8 1498.1L1662.6 1498.2L1663.4 1498.2L1664.3 1498.3L1665.1 1498.3L1665.9 1498.4L1666.7 1498.4L1667.6 1498.4L1668.4 1498.5L1669.2 1498.5L1670.0 1498.6L1670.8 1498.6L1671.7 1498.7L1672.5 1498.7L1673.3 1498.7L1674.1 1498.8L1675.0 1498.8L1675.8 1498.9L1676.6 1498.9L1677.4 1498.9L1678.3 1499.0L1679.1 1499.0L1679.9 1499.1L1680.7 1499.1L1681.6 1499.1L1682.4 1499.2L1683.2 1499.2L1684.0 1499.3L1684.9 1499.3L1685.7 1499.3L1686.5 1499.4L1687.3 1499.4L1688.2 1499.5L1689.0 1499.5L1689.8 1499.5L1690.6 1499.6L1691.4 1499.6L1692.3 1499.7L1693.1 1499.7L1693.9 1499.7L1694.7 1499.8L1695.6 1499.8L1696.4 1499.8L1697.2 1499.9L1698.0 1499.9L1698.9 1499.9L1699.7 1500.0L1700.5 1500.0L1701.3 1500.1L1702.2 1500.1L1703.0 1500.1L1703.8 1500.2L1704.6 1500.2L1705.5 1500.2L1706.3 1500.3L1707.1 1500.3L1707.9 1500.3L1708.8 1500.4L1709.6 1500.4L1710.4 1500.4L1711.2 1500.5L1712.0 1500.5L1712.9 1500.5L1713.7 1500.6L1714.5 1500.6L1715.3 1500.6L1716.2 1500.7L1717.0 1500.7L1717.8 1500.7L1718.6 1500.8L1719.5 1500.8L1720.3 1500.8L1721.1 1500.9L1721.9 1500.9L1722.8 1500.9L1723.6 1501.0L1724.4 1501.0L1725.2 1501.0L1726.1 1501.1L1726.9 1501.1L1727.7 1501.1L1728.5 1501.2L1729.4 1501.2L1730.2 1501.2L1731.0 1501.3L1731.8 1501.3L1732.7 1501.3L1733.5 1501.3L1734.3 1501.4L1735.1 1501.4L1735.9 1501.4L1736.8 1501.5L1737.6 1501.5L1738.4 1501.5L1739.2 1501.6L1740.1 1501.6L1740.9 1501.6L1741.7 1501.6L1742.5 1501.7L1743.4 1501.7L1744.2 1501.7L1745.0 1501.8L1745.8 1501.8L1746.7 1501.8L1747.5 1501.9L1748.3 1501.9L1749.1 1501.9L1750.0 1501.9L1750.8 1502.0L1751.6 1502.0L1752.4 1502.0L1753.3 1502.0L1754.1 1502.1L1754.9 1502.1L1755.7 1502.1L1756.5 1502.2L1757.4 1502.2L1758.2 1502.2L1759.0 1502.2L1759.8 1502.3L1760.7 1502.3L1761.5 1502.3L1762.3 1502.3L1763.1 1502.4L1764.0 1502.4L1764.8 1502.4L1765.6 1502.5L1766.4 1502.5L1767.3 1502.5L1768.1 1502.5L1768.9 1502.6L1769.7 1502.6L1770.6 1502.6L1771.4 1502.6L1772.2 1502.7L1773.0 1502.7L1773.9 1502.7L1774.7 1502.7L1775.5 1502.8L1776.3 1502.8L1777.2 1502.8L1778.0 1502.8L1778.8 1502.9L1779.6 1502.9L1780.4 1502.9L1781.3 1502.9L1782.1 1503.0L1782.9 1503.0L1783.7 1503.0L1784.6 1503.0L1785.4 1503.1L1786.2 1503.1L1787.0 1503.1L1787.9 1503.1L1788.7 1503.2L1789.5 1503.2L1790.3 1503.2L1791.2 1503.2L1792.0 1503.2L1792.8 1503.3L1793.6 1503.3L1794.5 1503.3L1795.3 1503.3L1796.1 1503.4L1796.9 1503.4L1797.8 1503.4L1798.6 1503.4L1799.4 1503.5L1800.2 1503.5L1801.0 1503.5L1801.9 1503.5L1802.7 1503.5L1803.5 1503.6L1804.3 1503.6L1805.2 1503.6L1806.0 1503.6L1806.8 1503.7L1807.6 1503.7L1808.5 1503.7L1809.3 1503.7L1810.1 1503.7L1810.9 1503.8L1811.8 1503.8L1812.6 1503.8L1813.4 1503.8L1814.2 1503.8L1815.1 1503.9L1815.9 1503.9L1816.7 1503.9L1817.5 1503.9L1818.4 1504.0L1819.2 1504.0L1820.0 1504.0L1820.8 1504.0L1821.7 1504.0L1822.5 1504.1L1823.3 1504.1L1824.1 1504.1L1824.9 1504.1L1825.8 1504.1L1826.6 1504.2L1827.4 1504.2L1828.2 1504.2L1829.1 1504.2L1829.9 1504.2L1830.7 1504.3L1831.5 1504.3L1832.4 1504.3L1833.2 1504.3L1834.0 1504.3L1834.8 1504.4L1835.7 1504.4L1836.5 1504.4L1837.3 1504.4L1838.1 1504.4L1839.0 1504.5L1839.8 1504.5L1840.6 1504.5L1841.4 1504.5L1842.3 1504.5L1843.1 1504.5L1843.9 1504.6L1844.7 1504.6L1845.5 1504.6L1846.4 1504.6L1847.2 1504.6L1848.0 1504.7L1848.8 1504.7L1849.7 1504.7L1850.5 1504.7L1851.3 1504.7L1852.1 1504.8L1853.0 1504.8L1853.8 1504.8L1854.6 1504.8L1855.4 1504.8L1856.3 1504.8L1857.1 1504.9L1857.9 1504.9L1858.7 1504.9L1859.6 1504.9L1860.4 1504.9L1861.2 1504.9L1862.0 1505.0L1862.9 1505.0L1863.7 1505.0L1864.5 1505.0L1865.3 1505.0L1866.1 1505.1L1867.0 1505.1L1867.8 1505.1L1868.6 1505.1L1869.4 1505.1L1870.3 1505.1L1871.1 1505.2L1871.9 1505.2L1872.7 1505.2L1873.6 1505.2L1874.4 1505.2L1875.2 1505.2L1876.0 1505.3L1876.9 1505.3L1877.7 1505.3L1878.5 1505.3L1879.3 1505.3L1880.2 1505.3L1881.0 1505.4L1881.8 1505.4L1882.6 1505.4L1883.5 1505.4L1884.3 1505.4L1885.1 1505.4L1885.9 1505.5L1886.8 1505.5L1887.6 1505.5L1888.4 1505.5L1889.2 1505.5L1890.0 1505.5L1890.9 1505.5L1891.7 1505.6L1892.5 1505.6L1893.3 1505.6L1894.2 1505.6L1895.0 1505.6L1895.8 1505.6L1896.6 1505.7L1897.5 1505.7L1898.3 1505.7L1899.1 1505.7L1899.9 1505.7L1900.8 1505.7L1901.6 1505.7L1902.4 1505.8L1903.2 1505.8L1904.1 1505.8L1904.9 1505.8L1905.7 1505.8L1906.5 1505.8L1907.4 1505.9L1908.2 1505.9L1909.0 1505.9L1909.8 1505.9L1910.6 1505.9L1911.5 1505.9L1912.3 1505.9L1913.1 1506.0L1913.9 1506.0L1914.8 1506.0L1915.6 1506.0L1916.4 1506.0L1917.2 1506.0L1918.1 1506.0L1918.9 1506.1L1919.7 1506.1L1920.5 1506.1L1921.4 1506.1L1922.2 1506.1L1923.0 1506.1L1923.8 1506.1L1924.7 1506.2L1925.5 1506.2L1926.3 1506.2L1927.1 1506.2L1928.0 1506.2L1928.8 1506.2L1929.6 1506.2L1930.4 1506.3L1931.3 1506.3L1932.1 1506.3L1932.9 1506.3L1933.7 1506.3L1934.5 1506.3L1935.4 1506.3L1936.2 1506.4L1937.0 1506.4L1937.8 1506.4L1938.7 1506.4L1939.5 1506.4L1940.3 1506.4L1941.1 1506.4L1942.0 1506.4L1942.8 1506.5L1943.6 1506.5L1944.4 1506.5L1945.3 1506.5L1946.1 1506.5L1946.9 1506.5L1947.7 1506.5L1948.6 1506.6L1949.4 1506.6L1950.2 1506.6L1951.0 1506.6L1951.9 1506.6L1952.7 1506.6L1953.5 1506.6L1954.3 1506.6L1955.1 1506.7L1956.0 1506.7L1956.8 1506.7L1957.6 1506.7L1958.4 1506.7L1959.3 1506.7L1960.1 1506.7L1960.9 1506.7L1961.7 1506.8L1962.6 1506.8L1963.4 1506.8L1964.2 1506.8L1965.0 1506.8L1965.9 1506.8L1966.7 1506.8L1967.5 1506.8L1968.3 1506.9L1969.2 1506.9L1970.0 1506.9L1970.8 1506.9L1971.6 1506.9L1972.5 1506.9L1973.3 1506.9L1974.1 1506.9L1974.9 1507.0L1975.7 1507.0L1976.6 1507.0L1977.4 1507.0L1978.2 1507.0L1979.0 1507.0L1979.9 1507.0L1980.7 1507.0L1981.5 1507.1L1982.3 1507.1L1983.2 1507.1L1984.0 1507.1L1984.8 1507.1L1985.6 1507.1L1986.5 1507.1L1987.3 1507.1L1988.1 1507.1L1988.9 1507.2L1989.8 1507.2L1990.6 1507.2L1991.4 1507.2L1992.2 1507.2L1993.1 1507.2L1993.9 1507.2L1994.7 1507.2L1995.5 1507.3L1996.4 1507.3L1997.2 1507.3L1998.0 1507.3L1998.8 1507.3L1999.6 1507.3L2000.5 1507.3L2001.3 1507.3L2002.1 1507.3L2002.9 1507.4L2003.8 1507.4L2004.6 1507.4L2005.4 1507.4L2006.2 1507.4L2007.1 1507.4L2007.9 1507.4L2008.7 1507.4L2009.5 1507.4L2010.4 1507.5L2011.2 1507.5L2012.0 1507.5L2012.8 1507.5L2013.7 1507.5L2014.5 1507.5L2015.3 1507.5L2016.1 1507.5L2017.0 1507.5L2017.8 1507.6L2018.6 1507.6L2019.4 1507.6L2020.2 1507.6L2021.1 1507.6L2021.9 1507.6L2022.7 1507.6L2023.5 1507.6L2024.4 1507.6L2025.2 1507.7L2026.0 1507.7L2026.8 1507.7L2027.7 1507.7L2028.5 1507.7L2029.3 1507.7L2030.1 1507.7L2031.0 1507.7L2031.8 1507.7L2032.6 1507.7L2033.4 1507.8L2034.3 1507.8L2035.1 1507.8L2035.9 1507.8L2036.7 1507.8L2037.6 1507.8L2038.4 1507.8L2039.2 1507.8L2040.0 1507.8L2040.9 1507.9L2041.7 1507.9L2042.5 1507.9L2043.3 1507.9L2044.1 1507.9L2045.0 1507.9L2045.8 1507.9L2046.6 1507.9L2047.4 1507.9L2048.3 1507.9L2049.1 1508.0L2049.9 1508.0L2050.7 1508.0L2051.6 1508.0L2052.4 1508.0L2053.2 1508.0L2054.0 1508.0L2054.9 1508.0L2055.7 1508.0L2056.5 1508.1L2057.3 1508.1L2058.2 1508.1L2059.0 1508.1L2059.8 1508.1L2060.6 1508.1L2061.5 1508.1L2062.3 1508.1L2063.1 1508.1L2063.9 1508.1L2064.7 1508.2L2065.6 1508.2L2066.4 1508.2L2067.2 1508.2L2068.0 1508.2L2068.9 1508.2L2069.7 1508.2L2070.5 1508.2L2071.3 1508.2L2072.2 1508.2L2073.0 1508.3L2073.8 1508.3L2074.6 1508.3L2075.5 1508.3L2076.3 1508.3L2077.1 1508.3L2077.9 1508.3L2078.8 1508.3L2079.6 1508.3L2080.4 1508.3L2081.2 1508.4L2082.1 1508.4L2082.9 1508.4L2083.7 1508.4L2084.5 1508.4L2085.3 1508.4L2086.2 1508.4L2087.0 1508.4L2087.8 1508.4L2088.6 1508.4L2089.5 1508.5L2090.3 1508.5L2091.1 1508.5L2091.9 1508.5L2092.8 1508.5L2093.6 1508.5L2094.4 1508.5L2095.2 1508.5L2096.1 1508.5L2096.9 1508.5L2097.7 1508.6L2098.5 1508.6L2099.4 1508.6L2100.2 1508.6L2101.0 1508.6L2101.8 1508.6L2102.7 1508.6L2103.5 1508.6L2104.3 1508.6L2105.1 1508.6L2106.0 1508.6L2106.8 1508.7L2107.6 1508.7L2108.4 1508.7L2109.2 1508.7L2110.1 1508.7L2110.9 1508.7L2111.7 1508.7L2112.5 1508.7L2113.4 1508.7L2114.2 1508.7L2115.0 1508.8L2115.8 1508.8L2116.7 1508.8L2117.5 1508.8L2118.3 1508.8L2119.1 1508.8L2120.0 1508.8L2120.8 1508.8L2121.6 1508.8L2122.4 1508.8L2123.3 1508.9L2124.1 1508.9L2124.9 1508.9L2125.7 1508.9L2126.6 1508.9L2127.4 1508.9L2128.2 1508.9L2129.0 1508.9L2129.8 1508.9L2130.7 1508.9L2131.5 1508.9L2132.3 1509.0L2133.1 1509.0L2134.0 1509.0L2134.8 1509.0L2135.6 1509.0L2136.4 1509.0L2137.3 1509.0L2138.1 1509.0L2138.9 1509.0L2139.7 1509.0L2140.6 1509.1L2141.4 1509.1L2142.2 1509.1L2143.0 1509.1L2143.9 1509.1L2144.7 1509.1L2145.5 1509.1L2146.3 1509.1L2147.2 1509.1L2148.0 1509.1L2148.8 1509.1L2149.6 1509.2L2150.5 1509.2L2151.3 1509.2L2152.1 1509.2L2152.9 1509.2L2153.7 1509.2L2154.6 1509.2L2155.4 1509.2L2156.2 1509.2L2157.0 1509.2L2157.9 1509.3L2158.7 1509.3L2159.5 1509.3L2160.3 1509.3L2161.2 1509.3L2162.0 1509.3L2162.8 1509.3L2163.6 1509.3L2164.5 1509.3L2165.3 1509.3L2166.1 1509.3L2166.9 1509.4L2167.8 1509.4L2168.6 1509.4L2169.4 1509.4L2170.2 1509.4L2171.1 1509.4L2171.9 1509.4L2172.7 1509.4L2173.5 1509.4L2174.3 1509.4L2175.2 1509.4L2176.0 1509.5L2176.8 1509.5L2177.6 1509.5L2178.5 1509.5L2179.3 1509.5L2180.1 1509.5L2180.9 1509.5L2181.8 1509.5L2182.6 1509.5L2183.4 1509.5L2184.2 1509.6L2185.1 1509.6L2185.9 1509.6L2186.7 1509.6L2187.5 1509.6L2188.4 1509.6L2189.2 1509.6L2190.0 1509.6L2190.8 1509.6L2191.7 1509.6L2192.5 1509.6L2193.3 1509.7L2194.1 1509.7L2195.0 1509.7L2195.8 1509.7L2196.6 1509.7L2197.4 1509.7L2198.2 1509.7L2199.1 1509.7L2199.9 1509.7L2200.7 1509.7L2201.5 1509.8L2202.4 1509.8L2203.2 1509.8L2204.0 1509.8L2204.8 1509.8L2205.7 1509.8L2206.5 1509.8L2207.3 1509.8L2208.1 1509.8L2209.0 1509.8L2209.8 1509.9L2210.6 1509.9L2211.4 1509.9L2212.3 1509.9L2213.1 1509.9L2213.9 1509.9L2214.7 1509.9L2215.6 1509.9L2216.4 1509.9L2217.2 1509.9L2218.0 1509.9L2218.8 1510.0L2219.7 1510.0L2220.5 1510.0L2221.3 1510.0L2222.1 1510.0L2223.0 1510.0L2223.8 1510.0L2224.6 1510.0L2225.4 1510.0L2226.3 1510.0L2227.1 1510.1L2227.9 1510.1L2228.7 1510.1L2229.6 1510.1L2230.4 1510.1L2231.2 1510.1L2232.0 1510.1L2232.9 1510.1L2233.7 1510.1L2234.5 1510.1L2235.3 1510.2L2236.2 1510.2L2237.0 1510.2L2237.8 1510.2L2238.6 1510.2L2239.4 1510.2L2240.3 1510.2L2241.1 1510.2L2241.9 1510.2L2242.7 1510.2L2243.6 1510.3L2244.4 1510.3L2245.2 1510.3L2246.0 1510.3L2246.9 1510.3L2247.7 1510.3L2248.5 1510.3L2249.3 1510.3L2250.2 1510.3L2251.0 1510.3L2251.8 1510.4L2252.6 1510.4L2253.5 1510.4L2254.3 1510.4L2255.1 1510.4L2255.9 1510.4L2256.8 1510.4L2257.6 1510.4L2258.4 1510.4L2259.2 1510.4L2260.1 1510.5L2260.9 1510.5L2261.7 1510.5L2262.5 1510.5L2263.3 1510.5L2264.2 1510.5L2265.0 1510.5L2265.8 1510.5L2266.6 1510.5L2267.5 1510.5L2268.3 1510.6L2269.1 1510.6L2269.9 1510.6L2270.8 1510.6L2271.6 1510.6L2272.4 1510.6L2273.2 1510.6L2274.1 1510.6L2274.9 1510.6L2275.7 1510.6L2276.5 1510.7L2277.4 1510.7L2278.2 1510.7L2279.0 1510.7L2279.8 1510.7L2280.7 1510.7L2281.5 1510.7L2282.3 1510.7L2283.1 1510.7L2283.9 1510.7L2284.8 1510.8L2285.6 1510.8L2286.4 1510.8L2287.2 1510.8L2288.1 1510.8L2288.9 1510.8L2289.7 1510.8L2290.5 1510.8L2291.4 1510.8L2292.2 1510.9L2293.0 1510.9L2293.8 1510.9L2294.7 1510.9L2295.5 1510.9L2296.3 1510.9L2297.1 1510.9L2298.0 1510.9L2298.8 1510.9L2299.6 1510.9L2300.4 1511.0L2301.3 1511.0L2302.1 1511.0L2302.9 1511.0L2303.7 1511.0L2304.6 1511.0L2305.4 1511.0L2306.2 1511.0L2307.0 1511.0L2307.8 1511.1L2308.7 1511.1L2309.5 1511.1L2310.3 1511.1L2311.1 1511.1L2312.0 1511.1L2312.8 1511.1L2313.6 1511.1L2314.4 1511.1L2315.3 1511.2L2316.1 1511.2L2316.9 1511.2L2317.7 1511.2L2318.6 1511.2L2319.4 1511.2L2320.2 1511.2L2321.0 1511.2L2321.9 1511.2L2322.7 1511.3L2323.5 1511.3L2324.3 1511.3L2325.2 1511.3L2326.0 1511.3L2326.8 1511.3L2327.6 1511.3L2328.4 1511.3L2329.3 1511.3L2330.1 1511.4L2330.9 1511.4L2331.7 1511.4L2332.6 1511.4L2333.4 1511.4L2334.2 1511.4L2335.0 1511.4L2335.9 1511.4L2336.7 1511.4L2337.5 1511.5L2338.3 1511.5L2339.2 1511.5L2340.0 1511.5L2340.8 1511.5L2341.6 1511.5L2342.5 1511.5L2343.3 1511.5L2344.1 1511.5L2344.9 1511.6L2345.8 1511.6L2346.6 1511.6L2347.4 1511.6L2348.2 1511.6L2349.1 1511.6L2349.9 1511.6L2350.7 1511.6L2351.5 1511.6L2352.3 1511.7L2353.2 1511.7L2354.0 1511.7L2354.8 1511.7L2355.6 1511.7L2356.5 1511.7L2357.3 1511.7L2358.1 1511.7L2358.9 1511.8L2359.8 1511.8L2360.6 1511.8L2361.4 1511.8L2362.2 1511.8L2363.1 1511.8L2363.9 1511.8L2364.7 1511.8L2365.5 1511.8L2366.4 1511.9L2367.2 1511.9L2368.0 1511.9L2368.8 1511.9L2369.7 1511.9L2370.5 1511.9L2371.3 1511.9L2372.1 1511.9"/>
</g>
<rect x="195.50" y="78.00" width="2197.50" height="998.50" fill="none" stroke="#000" stroke-width="2.80"/>
<rect x="195.50" y="1276.30" width="2197.50" height="999.10" fill="none" stroke="#000" stroke-width="2.80"/>
<path d="M195.50 1076.50v-11.30M195.50 78.00v11.30M470.19 1076.50v-11.30M470.19 78.00v11.30M744.88 1076.50v-11.30M744.88 78.00v11.30M1019.56 1076.50v-11.30M1019.56 78.00v11.30M1294.25 1076.50v-11.30M1294.25 78.00v11.30M1568.94 1076.50v-11.30M1568.94 78.00v11.30M1843.63 1076.50v-11.30M1843.63 78.00v11.30M2118.31 1076.50v-11.30M2118.31 78.00v11.30M2393.00 1076.50v-11.30M2393.00 78.00v11.30M195.50 1076.50h11.30M2393.00 1076.50h-11.30M195.50 933.86h11.30M2393.00 933.86h-11.30M195.50 791.21h11.30M2393.00 791.21h-11.30M195.50 648.57h11.30M2393.00 648.57h-11.30M195.50 505.93h11.30M2393.00 505.93h-11.30M195.50 363.29h11.30M2393.00 363.29h-11.30M195.50 220.64h11.30M2393.00 220.64h-11.30M195.50 78.00h11.30M2393.00 78.00h-11.30M195.50 2275.40v-11.30M195.50 1276.30v11.30M470.19 2275.40v-11.30M470.19 1276.30v11.30M744.88 2275.40v-11.30M744.88 1276.30v11.30M1019.56 2275.40v-11.30M1019.56 1276.30v11.30M1294.25 2275.40v-11.30M1294.25 1276.30v11.30M1568.94 2275.40v-11.30M1568.94 1276.30v11.30M1843.63 2275.40v-11.30M1843.63 1276.30v11.30M2118.31 2275.40v-11.30M2118.31 1276.30v11.30M2393.00 2275.40v-11.30M2393.00 1276.30v11.30M195.50 2192.14h11.30M2393.00 2192.14h-11.30M195.50 2053.38h11.30M2393.00 2053.38h-11.30M195.50 1914.61h11.30M2393.00 1914.61h-11.30M195.50 1775.85h11.30M2393.00 1775.85h-11.30M195.50 1637.09h11.30M2393.00 1637.09h-11.30M195.50 1498.32h11.30M2393.00 1498.32h-11.30M195.50 1359.56h11.30M2393.00 1359.56h-11.30" stroke="#000" stroke-width="1.60" fill="none"/>
<rect x="1906.00" y="910.70" width="465.00" height="143.60" fill="#fff" stroke="#000" stroke-width="2.80"/><circle cx="1937.5" cy="946.7" r="4.40" fill="#00f"/><circle cx="1999.4" cy="946.7" r="4.40" fill="#00f"/><circle cx="1937.5" cy="1012.1" r="4.40" fill="#008000"/><circle cx="1999.4" cy="1012.1" r="4.40" fill="#008000"/>
<rect x="1760.00" y="2109.60" width="611.00" height="143.40" fill="#fff" stroke="#000" stroke-width="2.80"/><circle cx="1791.5" cy="2145.4" r="4.40" fill="#f00"/><circle cx="1853.4" cy="2145.4" r="4.40" fill="#f00"/><circle cx="1791.5" cy="2210.7" r="4.40" fill="#bfbf00"/><circle cx="1853.4" cy="2210.7" r="4.40" fill="#bfbf00"/>
<text x="150.20" y="1114.40" font-size="36.67">−0.1</text>
<text x="440.89" y="1114.40" font-size="36.67">0.0</text>
<text x="716.08" y="1114.40" font-size="36.67">0.1</text>
<text x="990.76" y="1114.40" font-size="36.67">0.2</text>
<text x="1265.45" y="1114.40" font-size="36.67">0.3</text>
<text x="1539.64" y="1114.40" font-size="36.67">0.4</text>
<text x="1814.83" y="1114.40" font-size="36.67">0.5</text>
<text x="2089.01" y="1114.40" font-size="36.67">0.6</text>
<text x="2364.20" y="1114.40" font-size="36.67">0.7</text>
<text x="150.20" y="2313.30" font-size="36.67">−0.1</text>
<text x="440.89" y="2313.30" font-size="36.67">0.0</text>
<text x="716.08" y="2313.30" font-size="36.67">0.1</text>
<text x="990.76" y="2313.30" font-size="36.67">0.2</text>
<text x="1265.45" y="2313.30" font-size="36.67">0.3</text>
<text x="1539.64" y="2313.30" font-size="36.67">0.4</text>
<text x="1814.83" y="2313.30" font-size="36.67">0.5</text>
<text x="2089.01" y="2313.30" font-size="36.67">0.6</text>
<text x="2364.20" y="2313.30" font-size="36.67">0.7</text>
<text x="108.40" y="1086.90" font-size="36.67">−80</text>
<text x="108.40" y="944.26" font-size="36.67">−70</text>
<text x="108.40" y="801.61" font-size="36.67">−60</text>
<text x="108.40" y="658.97" font-size="36.67">−50</text>
<text x="108.40" y="516.33" font-size="36.67">−40</text>
<text x="108.40" y="373.69" font-size="36.67">−30</text>
<text x="108.40" y="231.04" font-size="36.67">−20</text>
<text x="108.40" y="88.40" font-size="36.67">−10</text>
<text x="85.40" y="2202.54" font-size="36.67">−150</text>
<text x="85.40" y="2063.78" font-size="36.67">−100</text>
<text x="108.40" y="1925.01" font-size="36.67">−50</text>
<text x="162.40" y="1786.25" font-size="36.67">0</text>
<text x="139.40" y="1647.49" font-size="36.67">50</text>
<text x="115.40" y="1508.72" font-size="36.67">100</text>
<text x="115.40" y="1369.96" font-size="36.67">150</text>
<text x="469.20" y="66.25" font-size="49.50" letter-spacing="0.031">Measured and Modeled Gain Pattern before Mispointing Correction</text>
<text x="452.50" y="1264.20" font-size="49.50" letter-spacing="0.019">Measured and Modeled Phase Pattern before Mispointing Correction</text>
<text x="1150.30" y="1171.80" font-size="49.50" letter-spacing="0.010">Angle [deg]</text>
<text x="1150.30" y="2370.80" font-size="49.50" letter-spacing="0.010">Angle [deg]</text>
<text transform="translate(85.20 694.20) rotate(-90)" font-size="49.50" letter-spacing="-0.087">Gain [dB]</text>
<text transform="translate(61.10 1923.10) rotate(-90)" font-size="49.50" letter-spacing="-0.020">Phase [deg]</text>
<text x="2047.30" y="962.10" font-size="43.60" letter-spacing="0.700">Measurement</text>
<text x="2047.30" y="1027.00" font-size="43.60" letter-spacing="1.050">Model</text>
<text x="1899.90" y="2161.40" font-size="43.60" letter-spacing="0.656">Measurement Phase</text>
<text x="1899.90" y="2226.40" font-size="43.60" letter-spacing="0.740">Model Phase</text>
</svg></body></html>
